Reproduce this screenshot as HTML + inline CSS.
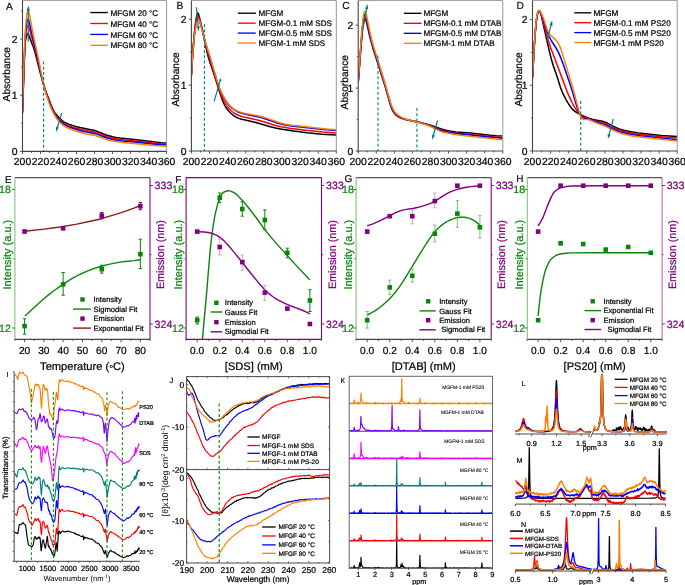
<!DOCTYPE html>
<html><head><meta charset="utf-8"><style>
html,body{margin:0;padding:0;background:#fff;}
body{width:685px;height:585px;overflow:hidden;}
svg{display:block;font-family:"Liberation Sans", sans-serif;will-change:transform;text-rendering:geometricPrecision;}
</style></head><body>
<svg width="685" height="585" viewBox="0 0 685 585">
<rect width="685" height="585" fill="#fff"/>
<defs>
<clipPath id="clipA"><rect x="22.5" y="0" width="144.1" height="151.4"/></clipPath>
<clipPath id="clipB"><rect x="191.4" y="0" width="144.9" height="151"/></clipPath>
<clipPath id="clipC"><rect x="358.2" y="0" width="144.60000000000002" height="151"/></clipPath>
<clipPath id="clipD"><rect x="532.5" y="0" width="144.70000000000005" height="151"/></clipPath>
</defs>
<g clip-path="url(#clipA)">
<path d="M22.5 113.2 24.3 61.5 25.2 42.7 26.1 37.3 27 34.5 27.9 33.4 28.8 34.9 30.6 40.1 33.3 46.9 35.1 52.9 40.5 73.8 43.2 83.4 45.9 91.4 50.4 103.2 53.1 109.7 54 111.4 54.9 112.9 55.8 114.1 57.6 116.1 60.3 118.9 62.1 120.5 63.9 121.8 66.6 123.3 69.3 124.4 72 125.3 75.6 126.4 80.1 127.5 90.9 129.7 93.6 130.3 97.3 131.5 103.6 134 107.2 135.3 110.8 136.3 113.5 137 116.2 137.5 119.8 138 134.2 139.4 154.9 142.1 161.2 142.7 166.6 143" fill="none" stroke="#000000" stroke-width="1.5" stroke-linejoin="round" />
<path d="M22.5 112.2 24.3 58.5 25.2 39.2 26.1 31.4 27 27.1 27.9 25.4 28.8 26.9 33.3 42.9 36.9 56.8 41.4 76.1 43.2 83.2 45 89.4 46.8 94.8 51.3 106.5 53.1 110.6 54 112.4 54.9 113.9 56.7 116.3 59.4 119.3 62.1 121.9 63.9 123.2 66.6 124.7 69.3 125.9 72.9 127.2 77.4 128.5 81.9 129.6 91.8 131.6 94.5 132.3 97.3 133.1 106.3 136.5 109.9 137.6 113.5 138.5 117.1 139.1 120.7 139.6 135.1 141 153.1 143.1 160.3 143.8 166.6 144.2" fill="none" stroke="#ff0000" stroke-width="1.5" stroke-linejoin="round" />
<path d="M22.5 111.4 23.4 81.5 24.3 56.3 25.2 36.5 26.1 26.9 27 21.3 27.9 19.2 28.8 20.7 29.7 24 33.3 39.8 36.9 54.6 42.3 79.3 44.1 86.6 45.9 92.7 47.7 98 50.4 105.1 52.2 109.4 54 113.1 54.9 114.6 56.7 117.2 59.4 120.4 61.2 122.1 63 123.6 65.7 125.4 68.4 126.7 72.9 128.4 77.4 129.7 82.8 131.2 85.5 131.8 91.8 132.9 94.5 133.6 97.3 134.4 106.3 137.7 109.9 138.8 112.6 139.4 117.1 140.2 122.5 140.9 134.2 142 154.9 144.2 166.6 145.1" fill="none" stroke="#0000ff" stroke-width="1.5" stroke-linejoin="round" />
<path d="M22.5 110.4 23.4 78.3 24.3 53 25.2 32.8 26.1 20.5 27 13.2 27.9 10.6 28.8 12 29.7 15.7 33.3 35.5 37.8 55.6 43.2 82.9 44.1 86.8 45.9 93.5 47.7 99.1 49.5 104 51.3 108.4 53.1 112.3 54.9 115.7 56.7 118.5 58.5 120.8 60.3 122.8 63 125.1 65.7 126.9 68.4 128.3 72 129.8 76.5 131.2 83.7 133.3 86.4 133.9 92.7 135 95.5 135.6 98.2 136.5 105.4 139.1 108.1 139.9 111.7 140.8 117.1 141.8 123.4 142.6 154 145.4 166.6 146.3" fill="none" stroke="#ff8000" stroke-width="1.5" stroke-linejoin="round" />
</g>
<line x1="43.6" y1="61.5" x2="43.6" y2="151" stroke="#008080" stroke-width="1.1" stroke-dasharray="3 2.2"/>
<line x1="28.3" y1="41.5" x2="28.3" y2="9.8" stroke="#008080" stroke-width="1.2" />
<path d="M28.3 5.8 L30 10.8 L26.6 10.8 Z" fill="#008080"/>
<line x1="61.7" y1="113.2" x2="57.17" y2="128.07" stroke="#008080" stroke-width="1.2" />
<path d="M56 131.9 L56.02 126.68 L58.89 127.55 Z" fill="#008080"/>
<line x1="22.5" y1="0.4" x2="166.6" y2="0.4" stroke="#999" stroke-width="1" />
<line x1="166.6" y1="0.4" x2="166.6" y2="151.4" stroke="#999" stroke-width="1" />
<line x1="22.5" y1="0.4" x2="22.5" y2="151.9" stroke="#444" stroke-width="1.1" />
<line x1="22" y1="151.4" x2="166.6" y2="151.4" stroke="#444" stroke-width="1.1" />
<line x1="22.5" y1="151.4" x2="22.5" y2="154" stroke="#444" stroke-width="0.9" />
<line x1="31.51" y1="151.4" x2="31.51" y2="152.8" stroke="#444" stroke-width="0.9" />
<line x1="40.51" y1="151.4" x2="40.51" y2="154" stroke="#444" stroke-width="0.9" />
<line x1="49.52" y1="151.4" x2="49.52" y2="152.8" stroke="#444" stroke-width="0.9" />
<line x1="58.52" y1="151.4" x2="58.52" y2="154" stroke="#444" stroke-width="0.9" />
<line x1="67.53" y1="151.4" x2="67.53" y2="152.8" stroke="#444" stroke-width="0.9" />
<line x1="76.54" y1="151.4" x2="76.54" y2="154" stroke="#444" stroke-width="0.9" />
<line x1="85.54" y1="151.4" x2="85.54" y2="152.8" stroke="#444" stroke-width="0.9" />
<line x1="94.55" y1="151.4" x2="94.55" y2="154" stroke="#444" stroke-width="0.9" />
<line x1="103.56" y1="151.4" x2="103.56" y2="152.8" stroke="#444" stroke-width="0.9" />
<line x1="112.56" y1="151.4" x2="112.56" y2="154" stroke="#444" stroke-width="0.9" />
<line x1="121.57" y1="151.4" x2="121.57" y2="152.8" stroke="#444" stroke-width="0.9" />
<line x1="130.57" y1="151.4" x2="130.57" y2="154" stroke="#444" stroke-width="0.9" />
<line x1="139.58" y1="151.4" x2="139.58" y2="152.8" stroke="#444" stroke-width="0.9" />
<line x1="148.59" y1="151.4" x2="148.59" y2="154" stroke="#444" stroke-width="0.9" />
<line x1="157.59" y1="151.4" x2="157.59" y2="152.8" stroke="#444" stroke-width="0.9" />
<line x1="166.6" y1="151.4" x2="166.6" y2="154" stroke="#444" stroke-width="0.9" />
<text x="22.5" y="165.2" font-size="10.4" text-anchor="middle" fill="#000" stroke="#000" stroke-width="0.22" >200</text>
<text x="40.51" y="165.2" font-size="10.4" text-anchor="middle" fill="#000" stroke="#000" stroke-width="0.22" >220</text>
<text x="58.52" y="165.2" font-size="10.4" text-anchor="middle" fill="#000" stroke="#000" stroke-width="0.22" >240</text>
<text x="76.54" y="165.2" font-size="10.4" text-anchor="middle" fill="#000" stroke="#000" stroke-width="0.22" >260</text>
<text x="94.55" y="165.2" font-size="10.4" text-anchor="middle" fill="#000" stroke="#000" stroke-width="0.22" >280</text>
<text x="112.56" y="165.2" font-size="10.4" text-anchor="middle" fill="#000" stroke="#000" stroke-width="0.22" >300</text>
<text x="130.57" y="165.2" font-size="10.4" text-anchor="middle" fill="#000" stroke="#000" stroke-width="0.22" >320</text>
<text x="148.59" y="165.2" font-size="10.4" text-anchor="middle" fill="#000" stroke="#000" stroke-width="0.22" >340</text>
<text x="166.6" y="165.2" font-size="10.4" text-anchor="middle" fill="#000" stroke="#000" stroke-width="0.22" >360</text>
<line x1="22.5" y1="151.4" x2="19.9" y2="151.4" stroke="#444" stroke-width="0.9" />
<text x="17.6" y="155.1" font-size="10.4" text-anchor="end" fill="#000" stroke="#000" stroke-width="0.22" >0</text>
<line x1="22.5" y1="123.3" x2="21.1" y2="123.3" stroke="#444" stroke-width="0.9" />
<line x1="22.5" y1="95.2" x2="19.9" y2="95.2" stroke="#444" stroke-width="0.9" />
<text x="17.6" y="98.9" font-size="10.4" text-anchor="end" fill="#000" stroke="#000" stroke-width="0.22" >1</text>
<line x1="22.5" y1="67.1" x2="21.1" y2="67.1" stroke="#444" stroke-width="0.9" />
<line x1="22.5" y1="39" x2="19.9" y2="39" stroke="#444" stroke-width="0.9" />
<text x="17.6" y="42.7" font-size="10.4" text-anchor="end" fill="#000" stroke="#000" stroke-width="0.22" >2</text>
<line x1="22.5" y1="10.9" x2="21.1" y2="10.9" stroke="#444" stroke-width="0.9" />
<text x="5.9" y="10.4" font-size="10.2" text-anchor="start" fill="#111" stroke="#111" stroke-width="0.22" >A</text>
<text x="9.8" y="74.2" font-size="10.2" text-anchor="middle" fill="#000" stroke="#000" stroke-width="0.22" transform="rotate(-90 9.8 74.2)" >Absorbance</text>
<line x1="90.3" y1="12.55" x2="107.8" y2="12.55" stroke="#000000" stroke-width="1.35" />
<text x="110.6" y="15.65" font-size="8.15" text-anchor="start" fill="#000" stroke="#000" stroke-width="0.22" >MFGM 20 °C</text>
<line x1="90.3" y1="23.48" x2="107.8" y2="23.48" stroke="#ff0000" stroke-width="1.35" />
<text x="110.6" y="26.58" font-size="8.15" text-anchor="start" fill="#000" stroke="#000" stroke-width="0.22" >MFGM 40 °C</text>
<line x1="90.3" y1="34.41" x2="107.8" y2="34.41" stroke="#0000ff" stroke-width="1.35" />
<text x="110.6" y="37.51" font-size="8.15" text-anchor="start" fill="#000" stroke="#000" stroke-width="0.22" >MFGM 60 °C</text>
<line x1="90.3" y1="45.34" x2="107.8" y2="45.34" stroke="#ff8000" stroke-width="1.35" />
<text x="110.6" y="48.44" font-size="8.15" text-anchor="start" fill="#000" stroke="#000" stroke-width="0.22" >MFGM 80 °C</text>
<g clip-path="url(#clipB)">
<path d="M191.4 75.3 192.3 59.8 193.2 46.7 194.1 35.9 195 27.1 195.9 20.4 196.8 15.5 197.7 12.8 198.6 14.3 202.3 29.3 206.8 51.2 208.6 58.2 210.4 63.8 214 74.3 220.4 94.5 223.1 102 224.9 105.8 225.8 107.3 227.6 109.8 229.4 111.8 231.2 113.5 234 115.8 235.8 116.9 237.6 117.9 240.3 118.9 243 119.6 249.4 120.9 254.8 122.2 260.2 123.7 270.2 126.8 275.6 128.1 280.2 128.9 293.7 131 307.3 132.8 321.8 134.2 336.3 135" fill="none" stroke="#000000" stroke-width="1.5" stroke-linejoin="round" />
<path d="M191.4 75.3 192.3 60.3 193.2 47.6 194.1 37.2 195 28.9 195.9 22.6 196.8 18.1 197.7 15.7 198.6 16.6 200.5 22.8 202.3 29.9 205.9 45.6 208.6 55.7 217.7 84.6 220.4 92.6 223.1 99.4 224 101.3 225.8 104.4 226.7 105.7 228.5 107.9 230.3 109.8 232.2 111.5 234 112.8 236.7 114.5 238.5 115.3 241.2 116.3 243.9 117 253 119 258.4 120.3 262.9 121.5 273.8 125 277.4 125.9 281.1 126.7 285.6 127.5 291 128.4 306.4 130.3 322.7 131.9 336.3 132.9" fill="none" stroke="#ff0000" stroke-width="1.5" stroke-linejoin="round" />
<path d="M191.4 75.3 192.3 60.8 193.2 48.6 194.1 38.6 195 30.8 195.9 25 196.8 21 197.7 19 198.6 19.2 199.6 21.2 200.5 23.9 205 41.1 215.9 77.3 217.7 83.1 219.5 88.2 222.2 94.6 224.9 99.7 226.7 102.4 228.5 104.7 230.3 106.6 232.2 108.2 234 109.6 236.7 111.2 239.4 112.5 242.1 113.4 246.6 114.6 256.6 116.5 261.1 117.6 265.7 119 277.4 123 281.1 124 283.8 124.7 288.3 125.5 293.7 126.2 323.6 129.4 336.3 130.6" fill="none" stroke="#0000ff" stroke-width="1.5" stroke-linejoin="round" />
<path d="M191.4 75.3 192.3 60.8 193.2 48.8 194.1 39.1 195 31.6 195.9 25.9 196.8 22 197.7 19.8 198.6 19.4 199.6 21.1 200.5 24 203.2 34.5 205 40.9 209.5 54.9 216.8 79.9 219.5 88.1 220.4 90.3 222.2 94.1 224 97.3 225.8 100.1 227.6 102.7 229.4 104.9 231.2 106.8 233.1 108.4 234.9 109.6 236.7 110.6 238.5 111.4 241.2 112.4 245.7 113.6 256.6 115.5 261.1 116.5 265.7 117.9 278.3 122.3 282 123.4 284.7 124 288.3 124.7 292.8 125.3 326.3 128.9 336.3 129.8" fill="none" stroke="#ff8000" stroke-width="1.5" stroke-linejoin="round" />
</g>
<line x1="204.4" y1="24.1" x2="204.4" y2="151" stroke="#008080" stroke-width="1.1" stroke-dasharray="3 2.2"/>
<line x1="196.4" y1="7.2" x2="198.32" y2="27.32" stroke="#008080" stroke-width="1.2" />
<path d="M198.7 31.3 L196.73 26.47 L199.72 26.18 Z" fill="#008080"/>
<line x1="214.1" y1="101.3" x2="220.43" y2="79.92" stroke="#008080" stroke-width="1.2" />
<path d="M221 78 L221.3 81.22 L219 80.54 Z" fill="#008080"/>
<line x1="191.4" y1="0.4" x2="336.3" y2="0.4" stroke="#999" stroke-width="1" />
<line x1="336.3" y1="0.4" x2="336.3" y2="151" stroke="#999" stroke-width="1" />
<line x1="191.4" y1="0.4" x2="191.4" y2="151.5" stroke="#444" stroke-width="1.1" />
<line x1="190.9" y1="151" x2="336.3" y2="151" stroke="#444" stroke-width="1.1" />
<line x1="191.4" y1="151" x2="191.4" y2="153.6" stroke="#444" stroke-width="0.9" />
<line x1="200.46" y1="151" x2="200.46" y2="152.4" stroke="#444" stroke-width="0.9" />
<line x1="209.51" y1="151" x2="209.51" y2="153.6" stroke="#444" stroke-width="0.9" />
<line x1="218.57" y1="151" x2="218.57" y2="152.4" stroke="#444" stroke-width="0.9" />
<line x1="227.62" y1="151" x2="227.62" y2="153.6" stroke="#444" stroke-width="0.9" />
<line x1="236.68" y1="151" x2="236.68" y2="152.4" stroke="#444" stroke-width="0.9" />
<line x1="245.74" y1="151" x2="245.74" y2="153.6" stroke="#444" stroke-width="0.9" />
<line x1="254.79" y1="151" x2="254.79" y2="152.4" stroke="#444" stroke-width="0.9" />
<line x1="263.85" y1="151" x2="263.85" y2="153.6" stroke="#444" stroke-width="0.9" />
<line x1="272.91" y1="151" x2="272.91" y2="152.4" stroke="#444" stroke-width="0.9" />
<line x1="281.96" y1="151" x2="281.96" y2="153.6" stroke="#444" stroke-width="0.9" />
<line x1="291.02" y1="151" x2="291.02" y2="152.4" stroke="#444" stroke-width="0.9" />
<line x1="300.08" y1="151" x2="300.08" y2="153.6" stroke="#444" stroke-width="0.9" />
<line x1="309.13" y1="151" x2="309.13" y2="152.4" stroke="#444" stroke-width="0.9" />
<line x1="318.19" y1="151" x2="318.19" y2="153.6" stroke="#444" stroke-width="0.9" />
<line x1="327.24" y1="151" x2="327.24" y2="152.4" stroke="#444" stroke-width="0.9" />
<line x1="336.3" y1="151" x2="336.3" y2="153.6" stroke="#444" stroke-width="0.9" />
<text x="191.4" y="165.2" font-size="10.4" text-anchor="middle" fill="#000" stroke="#000" stroke-width="0.22" >200</text>
<text x="209.51" y="165.2" font-size="10.4" text-anchor="middle" fill="#000" stroke="#000" stroke-width="0.22" >220</text>
<text x="227.62" y="165.2" font-size="10.4" text-anchor="middle" fill="#000" stroke="#000" stroke-width="0.22" >240</text>
<text x="245.74" y="165.2" font-size="10.4" text-anchor="middle" fill="#000" stroke="#000" stroke-width="0.22" >260</text>
<text x="263.85" y="165.2" font-size="10.4" text-anchor="middle" fill="#000" stroke="#000" stroke-width="0.22" >280</text>
<text x="281.96" y="165.2" font-size="10.4" text-anchor="middle" fill="#000" stroke="#000" stroke-width="0.22" >300</text>
<text x="300.08" y="165.2" font-size="10.4" text-anchor="middle" fill="#000" stroke="#000" stroke-width="0.22" >320</text>
<text x="318.19" y="165.2" font-size="10.4" text-anchor="middle" fill="#000" stroke="#000" stroke-width="0.22" >340</text>
<text x="336.3" y="165.2" font-size="10.4" text-anchor="middle" fill="#000" stroke="#000" stroke-width="0.22" >360</text>
<line x1="191.4" y1="151" x2="188.8" y2="151" stroke="#444" stroke-width="0.9" />
<text x="186.5" y="154.7" font-size="10.4" text-anchor="end" fill="#000" stroke="#000" stroke-width="0.22" >0</text>
<line x1="191.4" y1="118.1" x2="190" y2="118.1" stroke="#444" stroke-width="0.9" />
<line x1="191.4" y1="85.2" x2="188.8" y2="85.2" stroke="#444" stroke-width="0.9" />
<text x="186.5" y="88.9" font-size="10.4" text-anchor="end" fill="#000" stroke="#000" stroke-width="0.22" >1</text>
<line x1="191.4" y1="52.3" x2="190" y2="52.3" stroke="#444" stroke-width="0.9" />
<line x1="191.4" y1="19.4" x2="188.8" y2="19.4" stroke="#444" stroke-width="0.9" />
<text x="186.5" y="23.1" font-size="10.4" text-anchor="end" fill="#000" stroke="#000" stroke-width="0.22" >2</text>
<text x="176.5" y="9.4" font-size="10.2" text-anchor="start" fill="#111" stroke="#111" stroke-width="0.22" >B</text>
<text x="179.2" y="79.4" font-size="10.2" text-anchor="middle" fill="#000" stroke="#000" stroke-width="0.22" transform="rotate(-90 179.2 79.4)" >Absorbance</text>
<line x1="237.8" y1="13.2" x2="255.8" y2="13.2" stroke="#000000" stroke-width="1.35" />
<text x="258.6" y="16.3" font-size="8.1" text-anchor="start" fill="#000" stroke="#000" stroke-width="0.22" >MFGM</text>
<line x1="237.8" y1="23.15" x2="255.8" y2="23.15" stroke="#ff0000" stroke-width="1.35" />
<text x="258.6" y="26.25" font-size="8.1" text-anchor="start" fill="#000" stroke="#000" stroke-width="0.22" >MFGM-0.1 mM SDS</text>
<line x1="237.8" y1="33.1" x2="255.8" y2="33.1" stroke="#0000ff" stroke-width="1.35" />
<text x="258.6" y="36.2" font-size="8.1" text-anchor="start" fill="#000" stroke="#000" stroke-width="0.22" >MFGM-0.5 mM SDS</text>
<line x1="237.8" y1="43.05" x2="255.8" y2="43.05" stroke="#ff8000" stroke-width="1.35" />
<text x="258.6" y="46.15" font-size="8.1" text-anchor="start" fill="#000" stroke="#000" stroke-width="0.22" >MFGM-1 mM SDS</text>
<g clip-path="url(#clipC)">
<path d="M358.2 82.4 360.9 48.3 361.8 37.8 362.7 28.9 363.6 22.4 364.5 18.9 365.4 18.9 366.3 21.4 369.9 37.2 370.9 40.9 372.7 47.4 384.4 84 390.7 105.7 391.6 108.2 392.5 110.2 393.4 111.9 394.4 113.3 395.3 114.4 396.2 115.3 398 116.5 399.8 117.5 401.6 118.3 404.3 119.2 407.9 120 416.9 121.7 424.2 123.4 430.5 125.2 442.2 129.2 445.9 130.2 449.5 131 455.8 131.9 470.3 133.1 490.1 135.2 496.5 135.7 502.8 135.9" fill="none" stroke="#000000" stroke-width="1.5" stroke-linejoin="round" />
<path d="M358.2 82.4 360.9 46.2 361.8 35.3 362.7 26.1 363.6 19.4 364.5 15.9 365.4 16 366.3 18.7 369.9 35.3 370.9 39.2 372.7 45.9 384.4 82.9 386.2 88.9 389.8 101.8 390.7 104.7 392.5 109.3 393.4 111.1 394.4 112.5 395.3 113.7 396.2 114.6 398 116 399.8 117 402.5 118.3 404.3 119 407.9 119.9 416.9 121.8 425.1 123.9 430.5 125.7 440.4 129.7 444.1 130.8 447.7 131.7 452.2 132.5 457.6 133.2 470.3 134.4 491.1 136.5 502.8 137.4" fill="none" stroke="#ff0000" stroke-width="1.5" stroke-linejoin="round" />
<path d="M358.2 82.4 360.9 45.2 361.8 34 362.7 24.7 363.6 17.9 364.5 14.4 365.4 14.5 366.3 17.3 369.9 34.4 370.9 38.3 372.7 45.2 384.4 82.3 389.8 101.3 390.7 104.2 392.5 108.8 393.4 110.6 394.4 112.1 395.3 113.3 396.2 114.3 398 115.7 399.8 116.8 402.5 118.2 404.3 118.9 407 119.7 416.9 121.9 426 124.4 430.5 126 437.7 129.1 440.4 130.2 443.2 131.1 446.8 132 452.2 133 458.5 133.8 491.1 137.2 502.8 138.2" fill="none" stroke="#0000ff" stroke-width="1.5" stroke-linejoin="round" />
<path d="M358.2 82.4 360.9 43.1 361.8 31.5 362.7 21.9 363.6 14.9 364.5 11.4 365.4 11.6 366.3 14.5 370.9 36.5 371.8 40.2 373.6 46.8 383.5 78.2 390.7 103.2 391.6 105.7 393.4 109.8 394.4 111.4 395.3 112.6 396.2 113.7 398 115.2 399.8 116.4 402.5 117.9 404.3 118.7 407 119.5 416 121.7 426 124.7 430.5 126.5 439.5 130.9 442.2 131.9 445 132.6 452.2 134 460.3 135.2 502.8 139.7" fill="none" stroke="#ff8000" stroke-width="1.5" stroke-linejoin="round" />
</g>
<line x1="378" y1="55.4" x2="378" y2="151" stroke="#008080" stroke-width="1.1" stroke-dasharray="3 2.2"/>
<line x1="416.94" y1="108" x2="416.94" y2="151" stroke="#008080" stroke-width="1.1" stroke-dasharray="3 2.2"/>
<line x1="437.5" y1="120.5" x2="433.15" y2="136.03" stroke="#008080" stroke-width="1.2" />
<path d="M432.2 139.4 L431.87 134.64 L434.96 135.5 Z" fill="#008080"/>
<line x1="363.1" y1="27.7" x2="366.77" y2="8.03" stroke="#008080" stroke-width="1.2" />
<path d="M367.5 4.1 L368.16 9.31 L365.01 8.72 Z" fill="#008080"/>
<line x1="358.2" y1="0.4" x2="502.8" y2="0.4" stroke="#999" stroke-width="1" />
<line x1="502.8" y1="0.4" x2="502.8" y2="151" stroke="#999" stroke-width="1" />
<line x1="358.2" y1="0.4" x2="358.2" y2="151.5" stroke="#444" stroke-width="1.1" />
<line x1="357.7" y1="151" x2="502.8" y2="151" stroke="#444" stroke-width="1.1" />
<line x1="358.2" y1="151" x2="358.2" y2="153.6" stroke="#444" stroke-width="0.9" />
<line x1="367.24" y1="151" x2="367.24" y2="152.4" stroke="#444" stroke-width="0.9" />
<line x1="376.27" y1="151" x2="376.27" y2="153.6" stroke="#444" stroke-width="0.9" />
<line x1="385.31" y1="151" x2="385.31" y2="152.4" stroke="#444" stroke-width="0.9" />
<line x1="394.35" y1="151" x2="394.35" y2="153.6" stroke="#444" stroke-width="0.9" />
<line x1="403.39" y1="151" x2="403.39" y2="152.4" stroke="#444" stroke-width="0.9" />
<line x1="412.43" y1="151" x2="412.43" y2="153.6" stroke="#444" stroke-width="0.9" />
<line x1="421.46" y1="151" x2="421.46" y2="152.4" stroke="#444" stroke-width="0.9" />
<line x1="430.5" y1="151" x2="430.5" y2="153.6" stroke="#444" stroke-width="0.9" />
<line x1="439.54" y1="151" x2="439.54" y2="152.4" stroke="#444" stroke-width="0.9" />
<line x1="448.57" y1="151" x2="448.57" y2="153.6" stroke="#444" stroke-width="0.9" />
<line x1="457.61" y1="151" x2="457.61" y2="152.4" stroke="#444" stroke-width="0.9" />
<line x1="466.65" y1="151" x2="466.65" y2="153.6" stroke="#444" stroke-width="0.9" />
<line x1="475.69" y1="151" x2="475.69" y2="152.4" stroke="#444" stroke-width="0.9" />
<line x1="484.73" y1="151" x2="484.73" y2="153.6" stroke="#444" stroke-width="0.9" />
<line x1="493.76" y1="151" x2="493.76" y2="152.4" stroke="#444" stroke-width="0.9" />
<line x1="502.8" y1="151" x2="502.8" y2="153.6" stroke="#444" stroke-width="0.9" />
<text x="358.2" y="165.2" font-size="10.4" text-anchor="middle" fill="#000" stroke="#000" stroke-width="0.22" >200</text>
<text x="376.27" y="165.2" font-size="10.4" text-anchor="middle" fill="#000" stroke="#000" stroke-width="0.22" >220</text>
<text x="394.35" y="165.2" font-size="10.4" text-anchor="middle" fill="#000" stroke="#000" stroke-width="0.22" >240</text>
<text x="412.43" y="165.2" font-size="10.4" text-anchor="middle" fill="#000" stroke="#000" stroke-width="0.22" >260</text>
<text x="430.5" y="165.2" font-size="10.4" text-anchor="middle" fill="#000" stroke="#000" stroke-width="0.22" >280</text>
<text x="448.57" y="165.2" font-size="10.4" text-anchor="middle" fill="#000" stroke="#000" stroke-width="0.22" >300</text>
<text x="466.65" y="165.2" font-size="10.4" text-anchor="middle" fill="#000" stroke="#000" stroke-width="0.22" >320</text>
<text x="484.73" y="165.2" font-size="10.4" text-anchor="middle" fill="#000" stroke="#000" stroke-width="0.22" >340</text>
<text x="502.8" y="165.2" font-size="10.4" text-anchor="middle" fill="#000" stroke="#000" stroke-width="0.22" >360</text>
<line x1="358.2" y1="151" x2="355.6" y2="151" stroke="#444" stroke-width="0.9" />
<text x="353.3" y="154.7" font-size="10.4" text-anchor="end" fill="#000" stroke="#000" stroke-width="0.22" >0</text>
<line x1="358.2" y1="119.55" x2="356.8" y2="119.55" stroke="#444" stroke-width="0.9" />
<line x1="358.2" y1="88.1" x2="355.6" y2="88.1" stroke="#444" stroke-width="0.9" />
<text x="353.3" y="91.8" font-size="10.4" text-anchor="end" fill="#000" stroke="#000" stroke-width="0.22" >1</text>
<line x1="358.2" y1="56.65" x2="356.8" y2="56.65" stroke="#444" stroke-width="0.9" />
<line x1="358.2" y1="25.2" x2="355.6" y2="25.2" stroke="#444" stroke-width="0.9" />
<text x="353.3" y="28.9" font-size="10.4" text-anchor="end" fill="#000" stroke="#000" stroke-width="0.22" >2</text>
<text x="342.3" y="8.8" font-size="10.2" text-anchor="start" fill="#111" stroke="#111" stroke-width="0.22" >C</text>
<text x="348.3" y="82.2" font-size="10.2" text-anchor="middle" fill="#000" stroke="#000" stroke-width="0.22" transform="rotate(-90 348.3 82.2)" >Absorbance</text>
<line x1="403.8" y1="13.3" x2="421.5" y2="13.3" stroke="#000000" stroke-width="1.35" />
<text x="423.4" y="16.4" font-size="8.15" text-anchor="start" fill="#000" stroke="#000" stroke-width="0.22" >MFGM</text>
<line x1="403.8" y1="23.3" x2="421.5" y2="23.3" stroke="#ff0000" stroke-width="1.35" />
<text x="423.4" y="26.4" font-size="8.15" text-anchor="start" fill="#000" stroke="#000" stroke-width="0.22" >MFGM-0.1 mM DTAB</text>
<line x1="403.8" y1="33.3" x2="421.5" y2="33.3" stroke="#0000ff" stroke-width="1.35" />
<text x="423.4" y="36.4" font-size="8.15" text-anchor="start" fill="#000" stroke="#000" stroke-width="0.22" >MFGM-0.5 mM DTAB</text>
<line x1="403.8" y1="43.3" x2="421.5" y2="43.3" stroke="#ff8000" stroke-width="1.35" />
<text x="423.4" y="46.4" font-size="8.15" text-anchor="start" fill="#000" stroke="#000" stroke-width="0.22" >MFGM-1 mM DTAB</text>
<g clip-path="url(#clipD)">
<path d="M532.5 77.8 534.3 46 535.2 33 536.1 22.9 537 16 537.9 12.1 538.8 10.7 539.7 11.2 540.6 13.2 541.5 16.3 547 41 549.7 52.7 551.5 59.8 553.3 65.7 556.9 76 560.5 87.4 561.4 89.9 563.2 94.2 566 99.6 567.8 102.7 569.6 105.5 571.4 107.9 573.2 109.9 575 111.5 577.7 113.2 582.2 115.5 586.8 117.5 589.5 118.5 593.1 119.5 595.8 120.1 601.2 121.1 603.9 121.8 605.8 122.5 607.6 123.3 613 126.2 615.7 127.5 619.3 128.9 623.8 130.2 628.4 131.3 632.9 132.1 638.3 132.9 645.5 133.8 660.9 135.4 677.2 136.5" fill="none" stroke="#000000" stroke-width="1.5" stroke-linejoin="round" />
<path d="M532.5 77.8 534.3 46 535.2 33 536.1 22.9 537 16.1 537.9 12.2 538.8 10.7 539.7 11.1 540.6 12.9 541.5 15.7 546.1 33 547.9 39.2 550.6 47.5 566.9 91.1 568.7 95.4 570.5 99.4 572.3 103 574.1 106.3 575.9 109.2 577.7 111.8 579.5 114 580.4 114.8 582.2 116.2 585 117.5 590.4 119.4 594 120.6 596.7 121.3 601.2 122.3 603.9 123.1 606.7 124.2 613 127.5 616.6 129.2 621.1 130.8 625.7 132 630.2 132.9 634.7 133.7 647.4 135.3 661.8 136.8 677.2 137.9" fill="none" stroke="#ff0000" stroke-width="1.5" stroke-linejoin="round" />
<path d="M532.5 77.8 534.3 46 535.2 33 536.1 22.9 537 16.1 537.9 12.2 538.8 10.7 539.7 11.1 540.6 12.7 541.5 15 543.4 20.2 547 31.2 548.8 35.8 549.7 37.7 551.5 41 556 48 557.8 51.1 558.7 52.9 560.5 57.1 563.2 64.3 569.6 82.8 572.3 91.4 575.9 103.6 577.7 109.1 579.5 113.5 580.4 115.2 581.3 116.4 582.2 117.3 583.1 117.9 584 118.2 587.7 119 589.5 119.5 595.8 121.8 603.9 124.4 606.7 125.5 613 128.9 616.6 130.5 621.1 132.1 625.7 133.3 632 134.6 640.1 135.8 677.2 139.8" fill="none" stroke="#0000ff" stroke-width="1.5" stroke-linejoin="round" />
<path d="M532.5 77.8 534.3 46 535.2 32.3 536.1 21.6 537 14.8 537.9 11.4 538.8 10.3 539.7 10.7 540.6 11.9 541.5 13.7 542.4 15.8 543.4 18.3 547 29.1 547.9 31.3 548.8 33 549.7 34.3 550.6 35.3 554.2 38.4 556 40.2 556.9 41.3 558.7 44.1 559.6 45.9 560.5 48.1 562.3 53.4 566 65.6 572.3 85.9 579.5 113 580.4 115.6 581.3 117.4 582.2 118.6 583.1 119.2 584 119.5 587.7 119.5 588.6 119.6 590.4 120.2 596.7 123.1 603 125.3 605.8 126.4 613 130.2 616.6 131.8 621.1 133.4 625.7 134.6 632 135.9 640.1 137.1 677.2 141.1" fill="none" stroke="#ff8000" stroke-width="1.5" stroke-linejoin="round" />
</g>
<line x1="580.7" y1="101.1" x2="580.7" y2="151" stroke="#008080" stroke-width="1.1" stroke-dasharray="3 2.2"/>
<line x1="546.7" y1="42.2" x2="551.22" y2="24.28" stroke="#008080" stroke-width="1.2" />
<path d="M552.2 20.4 L552.53 25.64 L549.43 24.86 Z" fill="#008080"/>
<line x1="613.3" y1="119" x2="608.91" y2="135.42" stroke="#008080" stroke-width="1.2" />
<path d="M608 138.8 L607.62 134.04 L610.71 134.87 Z" fill="#008080"/>
<line x1="532.5" y1="0.4" x2="677.2" y2="0.4" stroke="#999" stroke-width="1" />
<line x1="677.2" y1="0.4" x2="677.2" y2="151" stroke="#999" stroke-width="1" />
<line x1="532.5" y1="0.4" x2="532.5" y2="151.5" stroke="#444" stroke-width="1.1" />
<line x1="532" y1="151" x2="677.2" y2="151" stroke="#444" stroke-width="1.1" />
<line x1="532.5" y1="151" x2="532.5" y2="153.6" stroke="#444" stroke-width="0.9" />
<line x1="541.54" y1="151" x2="541.54" y2="152.4" stroke="#444" stroke-width="0.9" />
<line x1="550.59" y1="151" x2="550.59" y2="153.6" stroke="#444" stroke-width="0.9" />
<line x1="559.63" y1="151" x2="559.63" y2="152.4" stroke="#444" stroke-width="0.9" />
<line x1="568.67" y1="151" x2="568.67" y2="153.6" stroke="#444" stroke-width="0.9" />
<line x1="577.72" y1="151" x2="577.72" y2="152.4" stroke="#444" stroke-width="0.9" />
<line x1="586.76" y1="151" x2="586.76" y2="153.6" stroke="#444" stroke-width="0.9" />
<line x1="595.81" y1="151" x2="595.81" y2="152.4" stroke="#444" stroke-width="0.9" />
<line x1="604.85" y1="151" x2="604.85" y2="153.6" stroke="#444" stroke-width="0.9" />
<line x1="613.89" y1="151" x2="613.89" y2="152.4" stroke="#444" stroke-width="0.9" />
<line x1="622.94" y1="151" x2="622.94" y2="153.6" stroke="#444" stroke-width="0.9" />
<line x1="631.98" y1="151" x2="631.98" y2="152.4" stroke="#444" stroke-width="0.9" />
<line x1="641.03" y1="151" x2="641.03" y2="153.6" stroke="#444" stroke-width="0.9" />
<line x1="650.07" y1="151" x2="650.07" y2="152.4" stroke="#444" stroke-width="0.9" />
<line x1="659.11" y1="151" x2="659.11" y2="153.6" stroke="#444" stroke-width="0.9" />
<line x1="668.16" y1="151" x2="668.16" y2="152.4" stroke="#444" stroke-width="0.9" />
<line x1="677.2" y1="151" x2="677.2" y2="153.6" stroke="#444" stroke-width="0.9" />
<text x="532.5" y="165.2" font-size="10.4" text-anchor="middle" fill="#000" stroke="#000" stroke-width="0.22" >200</text>
<text x="550.59" y="165.2" font-size="10.4" text-anchor="middle" fill="#000" stroke="#000" stroke-width="0.22" >220</text>
<text x="568.67" y="165.2" font-size="10.4" text-anchor="middle" fill="#000" stroke="#000" stroke-width="0.22" >240</text>
<text x="586.76" y="165.2" font-size="10.4" text-anchor="middle" fill="#000" stroke="#000" stroke-width="0.22" >260</text>
<text x="604.85" y="165.2" font-size="10.4" text-anchor="middle" fill="#000" stroke="#000" stroke-width="0.22" >280</text>
<text x="622.94" y="165.2" font-size="10.4" text-anchor="middle" fill="#000" stroke="#000" stroke-width="0.22" >300</text>
<text x="641.03" y="165.2" font-size="10.4" text-anchor="middle" fill="#000" stroke="#000" stroke-width="0.22" >320</text>
<text x="659.11" y="165.2" font-size="10.4" text-anchor="middle" fill="#000" stroke="#000" stroke-width="0.22" >340</text>
<text x="677.2" y="165.2" font-size="10.4" text-anchor="middle" fill="#000" stroke="#000" stroke-width="0.22" >360</text>
<line x1="532.5" y1="151" x2="529.9" y2="151" stroke="#444" stroke-width="0.9" />
<text x="527.6" y="154.7" font-size="10.4" text-anchor="end" fill="#000" stroke="#000" stroke-width="0.22" >0</text>
<line x1="532.5" y1="118.15" x2="531.1" y2="118.15" stroke="#444" stroke-width="0.9" />
<line x1="532.5" y1="85.3" x2="529.9" y2="85.3" stroke="#444" stroke-width="0.9" />
<text x="527.6" y="89" font-size="10.4" text-anchor="end" fill="#000" stroke="#000" stroke-width="0.22" >1</text>
<line x1="532.5" y1="52.45" x2="531.1" y2="52.45" stroke="#444" stroke-width="0.9" />
<line x1="532.5" y1="19.6" x2="529.9" y2="19.6" stroke="#444" stroke-width="0.9" />
<text x="527.6" y="23.3" font-size="10.4" text-anchor="end" fill="#000" stroke="#000" stroke-width="0.22" >2</text>
<text x="516.5" y="9.4" font-size="10.2" text-anchor="start" fill="#111" stroke="#111" stroke-width="0.22" >D</text>
<text x="521.8" y="79.4" font-size="10.2" text-anchor="middle" fill="#000" stroke="#000" stroke-width="0.22" transform="rotate(-90 521.8 79.4)" >Absorbance</text>
<line x1="574.3" y1="12.8" x2="591.3" y2="12.8" stroke="#000000" stroke-width="1.35" />
<text x="593.4" y="15.9" font-size="8.2" text-anchor="start" fill="#000" stroke="#000" stroke-width="0.22" >MFGM</text>
<line x1="574.3" y1="22.7" x2="591.3" y2="22.7" stroke="#ff0000" stroke-width="1.35" />
<text x="593.4" y="25.8" font-size="8.2" text-anchor="start" fill="#000" stroke="#000" stroke-width="0.22" >MFGM-0.1 mM PS20</text>
<line x1="574.3" y1="32.6" x2="591.3" y2="32.6" stroke="#0000ff" stroke-width="1.35" />
<text x="593.4" y="35.7" font-size="8.2" text-anchor="start" fill="#000" stroke="#000" stroke-width="0.22" >MFGM-0.5 mM PS20</text>
<line x1="574.3" y1="42.5" x2="591.3" y2="42.5" stroke="#ff8000" stroke-width="1.35" />
<text x="593.4" y="45.6" font-size="8.2" text-anchor="start" fill="#000" stroke="#000" stroke-width="0.22" >MFGM-1 mM PS20</text>
<path d="M24.9 315.9 43.5 299 48.2 295.1 52.8 291.5 57.5 288.2 70.3 279.7 74.9 276.9 79.6 274.5 86.6 271.4 93.6 268.7 100.5 266.5 107.5 264.6 114.5 263.1 120.3 262.1 125 261.5 134.3 260.6 140.1 259.7" fill="none" stroke="#0a850a" stroke-width="1.4" stroke-linejoin="round" />
<path d="M24.5 231.3 44.2 229.1 59.9 227 75.6 224.4 89.3 221.5 97.2 219.7 103.1 218.2 114.8 214.7 122.7 212.2 128.6 210.1 134.5 207.9 140.3 205.5" fill="none" stroke="#8b1a1a" stroke-width="1.4" stroke-linejoin="round" />
<line x1="24.55" y1="318.8" x2="24.55" y2="334.1" stroke="#0a850a" stroke-width="1" />
<line x1="22.85" y1="318.8" x2="26.25" y2="318.8" stroke="#0a850a" stroke-width="1" />
<line x1="22.85" y1="334.1" x2="26.25" y2="334.1" stroke="#0a850a" stroke-width="1" />
<rect x="22.25" y="323.8" width="4.6" height="4.6" fill="#0a850a" stroke="none" stroke-width="1"/>
<line x1="63.15" y1="272.5" x2="63.15" y2="295.2" stroke="#0a850a" stroke-width="1" />
<line x1="61.45" y1="272.5" x2="64.85" y2="272.5" stroke="#0a850a" stroke-width="1" />
<line x1="61.45" y1="295.2" x2="64.85" y2="295.2" stroke="#0a850a" stroke-width="1" />
<rect x="60.85" y="282" width="4.6" height="4.6" fill="#0a850a" stroke="none" stroke-width="1"/>
<line x1="101.75" y1="265.2" x2="101.75" y2="273.1" stroke="#0a850a" stroke-width="1" />
<line x1="100.05" y1="265.2" x2="103.45" y2="265.2" stroke="#0a850a" stroke-width="1" />
<line x1="100.05" y1="273.1" x2="103.45" y2="273.1" stroke="#0a850a" stroke-width="1" />
<rect x="99.45" y="266.9" width="4.6" height="4.6" fill="#0a850a" stroke="none" stroke-width="1"/>
<line x1="140.35" y1="239.2" x2="140.35" y2="268.6" stroke="#0a850a" stroke-width="1" />
<line x1="138.65" y1="239.2" x2="142.05" y2="239.2" stroke="#0a850a" stroke-width="1" />
<line x1="138.65" y1="268.6" x2="142.05" y2="268.6" stroke="#0a850a" stroke-width="1" />
<rect x="138.05" y="251.9" width="4.6" height="4.6" fill="#0a850a" stroke="none" stroke-width="1"/>
<rect x="22.25" y="229.2" width="4.6" height="4.6" fill="#800080" stroke="none" stroke-width="1"/>
<rect x="60.85" y="226" width="4.6" height="4.6" fill="#800080" stroke="none" stroke-width="1"/>
<line x1="101.75" y1="212.5" x2="101.75" y2="218.7" stroke="#800080" stroke-width="1" />
<line x1="100.05" y1="212.5" x2="103.45" y2="212.5" stroke="#800080" stroke-width="1" />
<line x1="100.05" y1="218.7" x2="103.45" y2="218.7" stroke="#800080" stroke-width="1" />
<rect x="99.45" y="213.3" width="4.6" height="4.6" fill="#800080" stroke="none" stroke-width="1"/>
<line x1="140.35" y1="202.6" x2="140.35" y2="209.7" stroke="#800080" stroke-width="1" />
<line x1="138.65" y1="202.6" x2="142.05" y2="202.6" stroke="#800080" stroke-width="1" />
<line x1="138.65" y1="209.7" x2="142.05" y2="209.7" stroke="#800080" stroke-width="1" />
<rect x="138.05" y="203.9" width="4.6" height="4.6" fill="#800080" stroke="none" stroke-width="1"/>
<line x1="14.9" y1="177.6" x2="150" y2="177.6" stroke="#555" stroke-width="1.1" />
<line x1="150" y1="177.6" x2="150" y2="339.4" stroke="#800080" stroke-width="1.1" />
<line x1="14.9" y1="177.6" x2="14.9" y2="339.4" stroke="#7cc47c" stroke-width="1.1" />
<line x1="14.9" y1="339.4" x2="150" y2="339.4" stroke="#444" stroke-width="1.2" />
<line x1="14.9" y1="339.4" x2="14.9" y2="340.9" stroke="#444" stroke-width="0.9" />
<line x1="24.55" y1="339.4" x2="24.55" y2="342.2" stroke="#444" stroke-width="0.9" />
<line x1="34.2" y1="339.4" x2="34.2" y2="340.9" stroke="#444" stroke-width="0.9" />
<line x1="43.85" y1="339.4" x2="43.85" y2="342.2" stroke="#444" stroke-width="0.9" />
<line x1="53.5" y1="339.4" x2="53.5" y2="340.9" stroke="#444" stroke-width="0.9" />
<line x1="63.15" y1="339.4" x2="63.15" y2="342.2" stroke="#444" stroke-width="0.9" />
<line x1="72.8" y1="339.4" x2="72.8" y2="340.9" stroke="#444" stroke-width="0.9" />
<line x1="82.45" y1="339.4" x2="82.45" y2="342.2" stroke="#444" stroke-width="0.9" />
<line x1="92.1" y1="339.4" x2="92.1" y2="340.9" stroke="#444" stroke-width="0.9" />
<line x1="101.75" y1="339.4" x2="101.75" y2="342.2" stroke="#444" stroke-width="0.9" />
<line x1="111.4" y1="339.4" x2="111.4" y2="340.9" stroke="#444" stroke-width="0.9" />
<line x1="121.05" y1="339.4" x2="121.05" y2="342.2" stroke="#444" stroke-width="0.9" />
<line x1="130.7" y1="339.4" x2="130.7" y2="340.9" stroke="#444" stroke-width="0.9" />
<line x1="140.35" y1="339.4" x2="140.35" y2="342.2" stroke="#444" stroke-width="0.9" />
<line x1="150" y1="339.4" x2="150" y2="340.9" stroke="#444" stroke-width="0.9" />
<text x="24.55" y="353.7" font-size="10.2" text-anchor="middle" fill="#000" stroke="#000" stroke-width="0.22" >20</text>
<text x="43.85" y="353.7" font-size="10.2" text-anchor="middle" fill="#000" stroke="#000" stroke-width="0.22" >30</text>
<text x="63.15" y="353.7" font-size="10.2" text-anchor="middle" fill="#000" stroke="#000" stroke-width="0.22" >40</text>
<text x="82.45" y="353.7" font-size="10.2" text-anchor="middle" fill="#000" stroke="#000" stroke-width="0.22" >50</text>
<text x="101.75" y="353.7" font-size="10.2" text-anchor="middle" fill="#000" stroke="#000" stroke-width="0.22" >60</text>
<text x="121.05" y="353.7" font-size="10.2" text-anchor="middle" fill="#000" stroke="#000" stroke-width="0.22" >70</text>
<text x="140.35" y="353.7" font-size="10.2" text-anchor="middle" fill="#000" stroke="#000" stroke-width="0.22" >80</text>
<text x="82.45" y="370.4" font-size="11.1" text-anchor="middle" fill="#000" stroke="#000" stroke-width="0.22" >Temperature (◦C)</text>
<line x1="14.9" y1="189.5" x2="12.1" y2="189.5" stroke="#0a850a" stroke-width="0.9" />
<text x="10.8" y="193.2" font-size="10.6" text-anchor="end" fill="#0a850a" stroke="#0a850a" stroke-width="0.22" >18</text>
<line x1="14.9" y1="328" x2="12.1" y2="328" stroke="#0a850a" stroke-width="0.9" />
<text x="10.8" y="331.7" font-size="10.6" text-anchor="end" fill="#0a850a" stroke="#0a850a" stroke-width="0.22" >12</text>
<line x1="14.9" y1="258.75" x2="13.4" y2="258.75" stroke="#0a850a" stroke-width="0.9" />
<line x1="150" y1="185.5" x2="152.8" y2="185.5" stroke="#800080" stroke-width="0.9" />
<text x="154.6" y="189.2" font-size="10.6" text-anchor="start" fill="#800080" stroke="#800080" stroke-width="0.22" >333</text>
<line x1="150" y1="324" x2="152.8" y2="324" stroke="#800080" stroke-width="0.9" />
<text x="154.6" y="327.7" font-size="10.6" text-anchor="start" fill="#800080" stroke="#800080" stroke-width="0.22" >324</text>
<line x1="150" y1="254.75" x2="151.5" y2="254.75" stroke="#800080" stroke-width="0.9" />
<text x="5" y="183.2" font-size="10" text-anchor="start" fill="#111" stroke="#111" stroke-width="0.22" >E</text>
<text x="10.7" y="254.6" font-size="11" text-anchor="middle" fill="#0a850a" stroke="#0a850a" stroke-width="0.22" transform="rotate(-90 10.7 254.6)" >Intensity (a.u.)</text>
<text x="164.2" y="254.6" font-size="10.8" text-anchor="middle" fill="#800080" stroke="#800080" stroke-width="0.22" transform="rotate(-90 164.2 254.6)" >Emission (nm)</text>
<rect x="80.3" y="297.3" width="4.4" height="4.4" fill="#0a850a" stroke="none" stroke-width="1"/>
<text x="93.5" y="302.1" font-size="7.6" text-anchor="start" fill="#000" stroke="#000" stroke-width="0.22" >Intensity</text>
<line x1="73.1" y1="309.1" x2="90.9" y2="309.1" stroke="#0a850a" stroke-width="1.4" />
<text x="93.5" y="311.7" font-size="7.6" text-anchor="start" fill="#000" stroke="#000" stroke-width="0.22" >Sigmodial Fit</text>
<rect x="80.3" y="316.4" width="4.4" height="4.4" fill="#800080" stroke="none" stroke-width="1"/>
<text x="93.5" y="321.2" font-size="7.6" text-anchor="start" fill="#000" stroke="#000" stroke-width="0.22" >Emission</text>
<line x1="73.1" y1="328.1" x2="90.9" y2="328.1" stroke="#8b1a1a" stroke-width="1.4" />
<text x="93.5" y="330.7" font-size="7.6" text-anchor="start" fill="#000" stroke="#000" stroke-width="0.22" >Exponential Fit</text>
<path d="M202.4 339.4 206.9 289.9 209.6 256.8 210.5 247 211.4 239 213.2 225.6 215 215 216 210.8 217.8 203.7 218.7 200.8 219.6 198.4 220.5 196.5 221.4 194.9 222.3 193.5 223.2 192.5 225 191.6 226.8 191 228.6 190.8 229.5 190.9 231.3 191.4 234 192.6 235.8 193.8 237.6 195.5 243.1 201.2 248.5 207.7 255.7 217 265.6 230.8 272 238.4 277.4 244.6 293.6 262.6 309.9 280.1" fill="none" stroke="#0a850a" stroke-width="1.4" stroke-linejoin="round" />
<path d="M196.6 231.6 204.6 232 208 232.5 210.3 233 212.6 233.6 214.9 234.5 217.2 235.7 219.5 237.1 221.8 238.9 224.1 240.9 228.6 245.8 234.4 252.6 249.2 271.3 258.4 282.6 264.1 289 266.4 291.3 268.7 293.4 271 295.3 274.4 297.8 277.9 299.9 281.3 301.7 284.7 303.4 288.2 304.8 303 310.5 306.5 312.1 309.9 313.8" fill="none" stroke="#800080" stroke-width="1.4" stroke-linejoin="round" />
<line x1="197.2" y1="317" x2="197.2" y2="324" stroke="#0a850a" stroke-width="1" />
<line x1="195.5" y1="317" x2="198.9" y2="317" stroke="#0a850a" stroke-width="1" />
<line x1="195.5" y1="324" x2="198.9" y2="324" stroke="#0a850a" stroke-width="1" />
<rect x="194.9" y="317.9" width="4.6" height="4.6" fill="#0a850a" stroke="none" stroke-width="1"/>
<line x1="219.74" y1="193" x2="219.74" y2="202.6" stroke="#0a850a" stroke-width="1" />
<line x1="218.04" y1="193" x2="221.44" y2="193" stroke="#0a850a" stroke-width="1" />
<line x1="218.04" y1="202.6" x2="221.44" y2="202.6" stroke="#0a850a" stroke-width="1" />
<rect x="217.44" y="195.4" width="4.6" height="4.6" fill="#0a850a" stroke="none" stroke-width="1"/>
<line x1="242.28" y1="201.7" x2="242.28" y2="216.2" stroke="#0a850a" stroke-width="1" />
<line x1="240.58" y1="201.7" x2="243.98" y2="201.7" stroke="#0a850a" stroke-width="1" />
<line x1="240.58" y1="216.2" x2="243.98" y2="216.2" stroke="#0a850a" stroke-width="1" />
<rect x="239.98" y="206.7" width="4.6" height="4.6" fill="#0a850a" stroke="none" stroke-width="1"/>
<line x1="264.82" y1="209.9" x2="264.82" y2="229.6" stroke="#0a850a" stroke-width="1" />
<line x1="263.12" y1="209.9" x2="266.52" y2="209.9" stroke="#0a850a" stroke-width="1" />
<line x1="263.12" y1="229.6" x2="266.52" y2="229.6" stroke="#0a850a" stroke-width="1" />
<rect x="262.52" y="217.7" width="4.6" height="4.6" fill="#0a850a" stroke="none" stroke-width="1"/>
<line x1="287.36" y1="248.2" x2="287.36" y2="257.8" stroke="#0a850a" stroke-width="1" />
<line x1="285.66" y1="248.2" x2="289.06" y2="248.2" stroke="#0a850a" stroke-width="1" />
<line x1="285.66" y1="257.8" x2="289.06" y2="257.8" stroke="#0a850a" stroke-width="1" />
<rect x="285.06" y="250.5" width="4.6" height="4.6" fill="#0a850a" stroke="none" stroke-width="1"/>
<line x1="309.9" y1="289.7" x2="309.9" y2="311.5" stroke="#0a850a" stroke-width="1" />
<line x1="308.2" y1="289.7" x2="311.6" y2="289.7" stroke="#0a850a" stroke-width="1" />
<line x1="308.2" y1="311.5" x2="311.6" y2="311.5" stroke="#0a850a" stroke-width="1" />
<rect x="307.6" y="298.2" width="4.6" height="4.6" fill="#0a850a" stroke="none" stroke-width="1"/>
<rect x="194.9" y="229.3" width="4.6" height="4.6" fill="#800080" stroke="none" stroke-width="1"/>
<line x1="219.74" y1="238.9" x2="219.74" y2="254.9" stroke="#c890c8" stroke-width="0.8" />
<line x1="218.04" y1="238.9" x2="221.44" y2="238.9" stroke="#c890c8" stroke-width="0.8" />
<line x1="218.04" y1="254.9" x2="221.44" y2="254.9" stroke="#c890c8" stroke-width="0.8" />
<rect x="217.44" y="244.7" width="4.6" height="4.6" fill="#800080" stroke="none" stroke-width="1"/>
<line x1="242.28" y1="254.9" x2="242.28" y2="270.3" stroke="#c890c8" stroke-width="0.8" />
<line x1="240.58" y1="254.9" x2="243.98" y2="254.9" stroke="#c890c8" stroke-width="0.8" />
<line x1="240.58" y1="270.3" x2="243.98" y2="270.3" stroke="#c890c8" stroke-width="0.8" />
<rect x="239.98" y="259.8" width="4.6" height="4.6" fill="#800080" stroke="none" stroke-width="1"/>
<line x1="264.82" y1="285.4" x2="264.82" y2="300.5" stroke="#c890c8" stroke-width="0.8" />
<line x1="263.12" y1="285.4" x2="266.52" y2="285.4" stroke="#c890c8" stroke-width="0.8" />
<line x1="263.12" y1="300.5" x2="266.52" y2="300.5" stroke="#c890c8" stroke-width="0.8" />
<rect x="262.52" y="290.3" width="4.6" height="4.6" fill="#800080" stroke="none" stroke-width="1"/>
<rect x="285.06" y="306.3" width="4.6" height="4.6" fill="#800080" stroke="none" stroke-width="1"/>
<rect x="307.6" y="321.7" width="4.6" height="4.6" fill="#800080" stroke="none" stroke-width="1"/>
<line x1="186.1" y1="177.6" x2="321.5" y2="177.6" stroke="#800080" stroke-width="1.1" />
<line x1="321.5" y1="177.6" x2="321.5" y2="339.4" stroke="#800080" stroke-width="1.1" />
<line x1="186.1" y1="177.6" x2="186.1" y2="339.4" stroke="#800080" stroke-width="1.1" />
<line x1="186.1" y1="339.4" x2="321.5" y2="339.4" stroke="#800080" stroke-width="1.2" />
<line x1="185.93" y1="339.4" x2="185.93" y2="340.9" stroke="#444" stroke-width="0.9" />
<line x1="197.2" y1="339.4" x2="197.2" y2="342.2" stroke="#444" stroke-width="0.9" />
<line x1="208.47" y1="339.4" x2="208.47" y2="340.9" stroke="#444" stroke-width="0.9" />
<line x1="219.74" y1="339.4" x2="219.74" y2="342.2" stroke="#444" stroke-width="0.9" />
<line x1="231.01" y1="339.4" x2="231.01" y2="340.9" stroke="#444" stroke-width="0.9" />
<line x1="242.28" y1="339.4" x2="242.28" y2="342.2" stroke="#444" stroke-width="0.9" />
<line x1="253.55" y1="339.4" x2="253.55" y2="340.9" stroke="#444" stroke-width="0.9" />
<line x1="264.82" y1="339.4" x2="264.82" y2="342.2" stroke="#444" stroke-width="0.9" />
<line x1="276.09" y1="339.4" x2="276.09" y2="340.9" stroke="#444" stroke-width="0.9" />
<line x1="287.36" y1="339.4" x2="287.36" y2="342.2" stroke="#444" stroke-width="0.9" />
<line x1="298.63" y1="339.4" x2="298.63" y2="340.9" stroke="#444" stroke-width="0.9" />
<line x1="309.9" y1="339.4" x2="309.9" y2="342.2" stroke="#444" stroke-width="0.9" />
<line x1="321.17" y1="339.4" x2="321.17" y2="340.9" stroke="#444" stroke-width="0.9" />
<text x="197.2" y="353.7" font-size="10.2" text-anchor="middle" fill="#000" stroke="#000" stroke-width="0.22" >0.0</text>
<text x="219.74" y="353.7" font-size="10.2" text-anchor="middle" fill="#000" stroke="#000" stroke-width="0.22" >0.2</text>
<text x="242.28" y="353.7" font-size="10.2" text-anchor="middle" fill="#000" stroke="#000" stroke-width="0.22" >0.4</text>
<text x="264.82" y="353.7" font-size="10.2" text-anchor="middle" fill="#000" stroke="#000" stroke-width="0.22" >0.6</text>
<text x="287.36" y="353.7" font-size="10.2" text-anchor="middle" fill="#000" stroke="#000" stroke-width="0.22" >0.8</text>
<text x="309.9" y="353.7" font-size="10.2" text-anchor="middle" fill="#000" stroke="#000" stroke-width="0.22" >1.0</text>
<text x="253.8" y="370.4" font-size="11.1" text-anchor="middle" fill="#000" stroke="#000" stroke-width="0.22" >[SDS] (mM)</text>
<line x1="186.1" y1="189.5" x2="183.3" y2="189.5" stroke="#0a850a" stroke-width="0.9" />
<text x="183.9" y="193.2" font-size="10.6" text-anchor="end" fill="#0a850a" stroke="#0a850a" stroke-width="0.22" >18</text>
<line x1="186.1" y1="328" x2="183.3" y2="328" stroke="#0a850a" stroke-width="0.9" />
<text x="183.9" y="331.7" font-size="10.6" text-anchor="end" fill="#0a850a" stroke="#0a850a" stroke-width="0.22" >12</text>
<line x1="186.1" y1="258.75" x2="184.6" y2="258.75" stroke="#0a850a" stroke-width="0.9" />
<line x1="321.5" y1="185.5" x2="324.3" y2="185.5" stroke="#800080" stroke-width="0.9" />
<text x="326.1" y="189.2" font-size="10.6" text-anchor="start" fill="#800080" stroke="#800080" stroke-width="0.22" >333</text>
<line x1="321.5" y1="324" x2="324.3" y2="324" stroke="#800080" stroke-width="0.9" />
<text x="326.1" y="327.7" font-size="10.6" text-anchor="start" fill="#800080" stroke="#800080" stroke-width="0.22" >324</text>
<line x1="321.5" y1="254.75" x2="323" y2="254.75" stroke="#800080" stroke-width="0.9" />
<text x="175.2" y="183" font-size="10" text-anchor="start" fill="#111" stroke="#111" stroke-width="0.22" >F</text>
<text x="181.9" y="254.6" font-size="11" text-anchor="middle" fill="#0a850a" stroke="#0a850a" stroke-width="0.22" transform="rotate(-90 181.9 254.6)" >Intensity (a.u.)</text>
<text x="335.7" y="254.6" font-size="10.8" text-anchor="middle" fill="#800080" stroke="#800080" stroke-width="0.22" transform="rotate(-90 335.7 254.6)" >Emission (nm)</text>
<rect x="214.2" y="300.6" width="4.4" height="4.4" fill="#0a850a" stroke="none" stroke-width="1"/>
<text x="224.8" y="305.4" font-size="7.6" text-anchor="start" fill="#000" stroke="#000" stroke-width="0.22" >Intensity</text>
<line x1="210.6" y1="312" x2="222.2" y2="312" stroke="#0a850a" stroke-width="1.4" />
<text x="224.8" y="314.6" font-size="7.6" text-anchor="start" fill="#000" stroke="#000" stroke-width="0.22" >Gauss Fit</text>
<rect x="214.2" y="320" width="4.4" height="4.4" fill="#800080" stroke="none" stroke-width="1"/>
<text x="224.8" y="324.8" font-size="7.6" text-anchor="start" fill="#000" stroke="#000" stroke-width="0.22" >Emission</text>
<line x1="210.6" y1="331.8" x2="222.2" y2="331.8" stroke="#800080" stroke-width="1.4" />
<text x="224.8" y="334.4" font-size="7.6" text-anchor="start" fill="#000" stroke="#000" stroke-width="0.22" >Sigmodial Fit</text>
<path d="M367.2 315 371.8 312.7 375.2 310.6 378.6 308.3 382 305.7 385.4 302.8 388.8 299.5 392.2 295.9 394.5 293.2 399.1 287.4 403.6 280.7 419.6 254.4 426.4 243.5 429.8 238.4 433.2 233.6 435.5 230.9 437.8 228.5 441.2 225.6 443.5 223.9 445.7 222.4 449.2 220.5 451.4 219.4 454.9 218.2 457.1 217.6 459.4 217.2 461.7 217.1 464 217.2 466.2 217.5 468.5 218.1 470.8 218.9 473.1 220 475.3 221.4 477.6 223.1 479.9 225" fill="none" stroke="#0a850a" stroke-width="1.4" stroke-linejoin="round" />
<path d="M367.2 225.8 372.9 223.8 378.6 221.3 384.3 218.6 395.7 212.7 400.2 210.8 402.5 210.1 404.8 209.6 413.9 208.3 418.4 207.3 424.1 205.7 428.7 204.1 432.1 202.6 435.5 200.8 443.5 195.6 446.9 193.6 450.3 191.9 454.9 190.1 459.4 188.7 465.1 187.5 470.8 186.6 479.9 185.7" fill="none" stroke="#800080" stroke-width="1.4" stroke-linejoin="round" />
<line x1="367.2" y1="311.5" x2="367.2" y2="328.1" stroke="#60b060" stroke-width="0.8" />
<line x1="365.5" y1="311.5" x2="368.9" y2="311.5" stroke="#60b060" stroke-width="0.8" />
<line x1="365.5" y1="328.1" x2="368.9" y2="328.1" stroke="#60b060" stroke-width="0.8" />
<rect x="364.9" y="317.9" width="4.6" height="4.6" fill="#0a850a" stroke="none" stroke-width="1"/>
<line x1="389.74" y1="280.1" x2="389.74" y2="294.7" stroke="#60b060" stroke-width="0.8" />
<line x1="388.04" y1="280.1" x2="391.44" y2="280.1" stroke="#60b060" stroke-width="0.8" />
<line x1="388.04" y1="294.7" x2="391.44" y2="294.7" stroke="#60b060" stroke-width="0.8" />
<rect x="387.44" y="285.1" width="4.6" height="4.6" fill="#0a850a" stroke="none" stroke-width="1"/>
<line x1="412.28" y1="268.8" x2="412.28" y2="282" stroke="#60b060" stroke-width="0.8" />
<line x1="410.58" y1="268.8" x2="413.98" y2="268.8" stroke="#60b060" stroke-width="0.8" />
<line x1="410.58" y1="282" x2="413.98" y2="282" stroke="#60b060" stroke-width="0.8" />
<rect x="409.98" y="273.5" width="4.6" height="4.6" fill="#0a850a" stroke="none" stroke-width="1"/>
<line x1="434.82" y1="225.2" x2="434.82" y2="241.8" stroke="#60b060" stroke-width="0.8" />
<line x1="433.12" y1="225.2" x2="436.52" y2="225.2" stroke="#60b060" stroke-width="0.8" />
<line x1="433.12" y1="241.8" x2="436.52" y2="241.8" stroke="#60b060" stroke-width="0.8" />
<rect x="432.52" y="231.4" width="4.6" height="4.6" fill="#0a850a" stroke="none" stroke-width="1"/>
<line x1="457.36" y1="200.6" x2="457.36" y2="227.3" stroke="#60b060" stroke-width="0.8" />
<line x1="455.66" y1="200.6" x2="459.06" y2="200.6" stroke="#60b060" stroke-width="0.8" />
<line x1="455.66" y1="227.3" x2="459.06" y2="227.3" stroke="#60b060" stroke-width="0.8" />
<rect x="455.06" y="211.3" width="4.6" height="4.6" fill="#0a850a" stroke="none" stroke-width="1"/>
<line x1="479.9" y1="215.7" x2="479.9" y2="238" stroke="#60b060" stroke-width="0.8" />
<line x1="478.2" y1="215.7" x2="481.6" y2="215.7" stroke="#60b060" stroke-width="0.8" />
<line x1="478.2" y1="238" x2="481.6" y2="238" stroke="#60b060" stroke-width="0.8" />
<rect x="477.6" y="225" width="4.6" height="4.6" fill="#0a850a" stroke="none" stroke-width="1"/>
<rect x="364.9" y="229.3" width="4.6" height="4.6" fill="#800080" stroke="none" stroke-width="1"/>
<rect x="387.44" y="213.9" width="4.6" height="4.6" fill="#800080" stroke="none" stroke-width="1"/>
<line x1="412.28" y1="209.9" x2="412.28" y2="223.8" stroke="#c890c8" stroke-width="0.8" />
<line x1="410.58" y1="209.9" x2="413.98" y2="209.9" stroke="#c890c8" stroke-width="0.8" />
<line x1="410.58" y1="223.8" x2="413.98" y2="223.8" stroke="#c890c8" stroke-width="0.8" />
<rect x="409.98" y="213.9" width="4.6" height="4.6" fill="#800080" stroke="none" stroke-width="1"/>
<line x1="434.82" y1="193" x2="434.82" y2="207.8" stroke="#c890c8" stroke-width="0.8" />
<line x1="433.12" y1="193" x2="436.52" y2="193" stroke="#c890c8" stroke-width="0.8" />
<line x1="433.12" y1="207.8" x2="436.52" y2="207.8" stroke="#c890c8" stroke-width="0.8" />
<rect x="432.52" y="198.8" width="4.6" height="4.6" fill="#800080" stroke="none" stroke-width="1"/>
<rect x="455.06" y="183.4" width="4.6" height="4.6" fill="#800080" stroke="none" stroke-width="1"/>
<rect x="477.6" y="183.4" width="4.6" height="4.6" fill="#800080" stroke="none" stroke-width="1"/>
<line x1="356.1" y1="177.6" x2="491.2" y2="177.6" stroke="#555" stroke-width="1.1" />
<line x1="491.2" y1="177.6" x2="491.2" y2="339.4" stroke="#800080" stroke-width="1.1" />
<line x1="356.1" y1="177.6" x2="356.1" y2="339.4" stroke="#7cc47c" stroke-width="1.1" />
<line x1="356.1" y1="339.4" x2="491.2" y2="339.4" stroke="#444" stroke-width="1.2" />
<line x1="355.93" y1="339.4" x2="355.93" y2="340.9" stroke="#444" stroke-width="0.9" />
<line x1="367.2" y1="339.4" x2="367.2" y2="342.2" stroke="#444" stroke-width="0.9" />
<line x1="378.47" y1="339.4" x2="378.47" y2="340.9" stroke="#444" stroke-width="0.9" />
<line x1="389.74" y1="339.4" x2="389.74" y2="342.2" stroke="#444" stroke-width="0.9" />
<line x1="401.01" y1="339.4" x2="401.01" y2="340.9" stroke="#444" stroke-width="0.9" />
<line x1="412.28" y1="339.4" x2="412.28" y2="342.2" stroke="#444" stroke-width="0.9" />
<line x1="423.55" y1="339.4" x2="423.55" y2="340.9" stroke="#444" stroke-width="0.9" />
<line x1="434.82" y1="339.4" x2="434.82" y2="342.2" stroke="#444" stroke-width="0.9" />
<line x1="446.09" y1="339.4" x2="446.09" y2="340.9" stroke="#444" stroke-width="0.9" />
<line x1="457.36" y1="339.4" x2="457.36" y2="342.2" stroke="#444" stroke-width="0.9" />
<line x1="468.63" y1="339.4" x2="468.63" y2="340.9" stroke="#444" stroke-width="0.9" />
<line x1="479.9" y1="339.4" x2="479.9" y2="342.2" stroke="#444" stroke-width="0.9" />
<line x1="491.17" y1="339.4" x2="491.17" y2="340.9" stroke="#444" stroke-width="0.9" />
<text x="367.2" y="353.7" font-size="10.2" text-anchor="middle" fill="#000" stroke="#000" stroke-width="0.22" >0.0</text>
<text x="389.74" y="353.7" font-size="10.2" text-anchor="middle" fill="#000" stroke="#000" stroke-width="0.22" >0.2</text>
<text x="412.28" y="353.7" font-size="10.2" text-anchor="middle" fill="#000" stroke="#000" stroke-width="0.22" >0.4</text>
<text x="434.82" y="353.7" font-size="10.2" text-anchor="middle" fill="#000" stroke="#000" stroke-width="0.22" >0.6</text>
<text x="457.36" y="353.7" font-size="10.2" text-anchor="middle" fill="#000" stroke="#000" stroke-width="0.22" >0.8</text>
<text x="479.9" y="353.7" font-size="10.2" text-anchor="middle" fill="#000" stroke="#000" stroke-width="0.22" >1.0</text>
<text x="423.65" y="370.4" font-size="11.1" text-anchor="middle" fill="#000" stroke="#000" stroke-width="0.22" >[DTAB] (mM)</text>
<line x1="356.1" y1="189.5" x2="353.3" y2="189.5" stroke="#0a850a" stroke-width="0.9" />
<text x="353.9" y="193.2" font-size="10.6" text-anchor="end" fill="#0a850a" stroke="#0a850a" stroke-width="0.22" >18</text>
<line x1="356.1" y1="328" x2="353.3" y2="328" stroke="#0a850a" stroke-width="0.9" />
<text x="353.9" y="331.7" font-size="10.6" text-anchor="end" fill="#0a850a" stroke="#0a850a" stroke-width="0.22" >12</text>
<line x1="356.1" y1="258.75" x2="354.6" y2="258.75" stroke="#0a850a" stroke-width="0.9" />
<line x1="491.2" y1="185.5" x2="494" y2="185.5" stroke="#800080" stroke-width="0.9" />
<text x="495.8" y="189.2" font-size="10.6" text-anchor="start" fill="#800080" stroke="#800080" stroke-width="0.22" >333</text>
<line x1="491.2" y1="324" x2="494" y2="324" stroke="#800080" stroke-width="0.9" />
<text x="495.8" y="327.7" font-size="10.6" text-anchor="start" fill="#800080" stroke="#800080" stroke-width="0.22" >324</text>
<line x1="491.2" y1="254.75" x2="492.7" y2="254.75" stroke="#800080" stroke-width="0.9" />
<text x="344.6" y="181.7" font-size="10" text-anchor="start" fill="#111" stroke="#111" stroke-width="0.22" >G</text>
<text x="351.9" y="254.6" font-size="11" text-anchor="middle" fill="#0a850a" stroke="#0a850a" stroke-width="0.22" transform="rotate(-90 351.9 254.6)" >Intensity (a.u.)</text>
<text x="505.4" y="254.6" font-size="10.8" text-anchor="middle" fill="#800080" stroke="#800080" stroke-width="0.22" transform="rotate(-90 505.4 254.6)" >Emission (nm)</text>
<rect x="426" y="299.1" width="4.4" height="4.4" fill="#0a850a" stroke="none" stroke-width="1"/>
<text x="439.2" y="303.9" font-size="7.6" text-anchor="start" fill="#000" stroke="#000" stroke-width="0.22" >Intensity</text>
<line x1="419.5" y1="310.9" x2="435.7" y2="310.9" stroke="#0a850a" stroke-width="1.4" />
<text x="439.2" y="313.5" font-size="7.6" text-anchor="start" fill="#000" stroke="#000" stroke-width="0.22" >Gauss Fit</text>
<rect x="426" y="318" width="4.4" height="4.4" fill="#800080" stroke="none" stroke-width="1"/>
<text x="439.2" y="322.8" font-size="7.6" text-anchor="start" fill="#000" stroke="#000" stroke-width="0.22" >Emission</text>
<line x1="419.5" y1="329.8" x2="435.7" y2="329.8" stroke="#800080" stroke-width="1.4" />
<text x="441.3" y="332.4" font-size="7.6" text-anchor="start" fill="#000" stroke="#000" stroke-width="0.22" >Sigmodial Fit</text>
<path d="M538.1 315.9 539.7 300.7 540.5 294.3 541.3 289.1 543 280.1 544.6 273.1 545.4 270.5 547 266.2 548.6 262.7 549.5 261.3 550.3 260.1 551.9 258.5 554.3 256.5 555.9 255.5 558.4 254.4 560 254 565.7 253.2 570.5 252.9 593.2 252.8 650.8 252.8" fill="none" stroke="#0a850a" stroke-width="1.4" stroke-linejoin="round" />
<path d="M538.1 225.8 540.5 222.1 543 217.4 547.8 204.9 551.1 197.4 552.7 194.2 553.5 193 554.3 192.1 555.9 190.5 557.6 189.3 558.4 188.8 560 188.1 563.2 187.2 565.7 186.6 568.9 186.2 571.3 186 594 185.7 650.8 185.7" fill="none" stroke="#800080" stroke-width="1.4" stroke-linejoin="round" />
<rect x="535.8" y="317.9" width="4.6" height="4.6" fill="#0a850a" stroke="none" stroke-width="1"/>
<rect x="558.34" y="241" width="4.6" height="4.6" fill="#0a850a" stroke="none" stroke-width="1"/>
<rect x="580.88" y="241.8" width="4.6" height="4.6" fill="#0a850a" stroke="none" stroke-width="1"/>
<rect x="603.42" y="247.3" width="4.6" height="4.6" fill="#0a850a" stroke="none" stroke-width="1"/>
<rect x="625.96" y="244.7" width="4.6" height="4.6" fill="#0a850a" stroke="none" stroke-width="1"/>
<rect x="648.5" y="250.5" width="4.6" height="4.6" fill="#0a850a" stroke="none" stroke-width="1"/>
<rect x="535.8" y="229.3" width="4.6" height="4.6" fill="#800080" stroke="none" stroke-width="1"/>
<rect x="558.34" y="183.4" width="4.6" height="4.6" fill="#800080" stroke="none" stroke-width="1"/>
<rect x="580.88" y="183.4" width="4.6" height="4.6" fill="#800080" stroke="none" stroke-width="1"/>
<rect x="603.42" y="183.4" width="4.6" height="4.6" fill="#800080" stroke="none" stroke-width="1"/>
<rect x="625.96" y="183.4" width="4.6" height="4.6" fill="#800080" stroke="none" stroke-width="1"/>
<rect x="648.5" y="183.4" width="4.6" height="4.6" fill="#800080" stroke="none" stroke-width="1"/>
<line x1="527.3" y1="177.6" x2="662.1" y2="177.6" stroke="#555" stroke-width="1.1" />
<line x1="662.1" y1="177.6" x2="662.1" y2="339.4" stroke="#b070b0" stroke-width="1.1" />
<line x1="527.3" y1="177.6" x2="527.3" y2="339.4" stroke="#7cc47c" stroke-width="1.1" />
<line x1="527.3" y1="339.4" x2="662.1" y2="339.4" stroke="#444" stroke-width="1.2" />
<line x1="526.83" y1="339.4" x2="526.83" y2="340.9" stroke="#444" stroke-width="0.9" />
<line x1="538.1" y1="339.4" x2="538.1" y2="342.2" stroke="#444" stroke-width="0.9" />
<line x1="549.37" y1="339.4" x2="549.37" y2="340.9" stroke="#444" stroke-width="0.9" />
<line x1="560.64" y1="339.4" x2="560.64" y2="342.2" stroke="#444" stroke-width="0.9" />
<line x1="571.91" y1="339.4" x2="571.91" y2="340.9" stroke="#444" stroke-width="0.9" />
<line x1="583.18" y1="339.4" x2="583.18" y2="342.2" stroke="#444" stroke-width="0.9" />
<line x1="594.45" y1="339.4" x2="594.45" y2="340.9" stroke="#444" stroke-width="0.9" />
<line x1="605.72" y1="339.4" x2="605.72" y2="342.2" stroke="#444" stroke-width="0.9" />
<line x1="616.99" y1="339.4" x2="616.99" y2="340.9" stroke="#444" stroke-width="0.9" />
<line x1="628.26" y1="339.4" x2="628.26" y2="342.2" stroke="#444" stroke-width="0.9" />
<line x1="639.53" y1="339.4" x2="639.53" y2="340.9" stroke="#444" stroke-width="0.9" />
<line x1="650.8" y1="339.4" x2="650.8" y2="342.2" stroke="#444" stroke-width="0.9" />
<line x1="662.07" y1="339.4" x2="662.07" y2="340.9" stroke="#444" stroke-width="0.9" />
<text x="538.1" y="353.7" font-size="10.2" text-anchor="middle" fill="#000" stroke="#000" stroke-width="0.22" >0.0</text>
<text x="560.64" y="353.7" font-size="10.2" text-anchor="middle" fill="#000" stroke="#000" stroke-width="0.22" >0.2</text>
<text x="583.18" y="353.7" font-size="10.2" text-anchor="middle" fill="#000" stroke="#000" stroke-width="0.22" >0.4</text>
<text x="605.72" y="353.7" font-size="10.2" text-anchor="middle" fill="#000" stroke="#000" stroke-width="0.22" >0.6</text>
<text x="628.26" y="353.7" font-size="10.2" text-anchor="middle" fill="#000" stroke="#000" stroke-width="0.22" >0.8</text>
<text x="650.8" y="353.7" font-size="10.2" text-anchor="middle" fill="#000" stroke="#000" stroke-width="0.22" >1.0</text>
<text x="594.7" y="370.4" font-size="11.1" text-anchor="middle" fill="#000" stroke="#000" stroke-width="0.22" >[PS20] (mM)</text>
<line x1="527.3" y1="189.5" x2="524.5" y2="189.5" stroke="#0a850a" stroke-width="0.9" />
<text x="525.1" y="193.2" font-size="10.6" text-anchor="end" fill="#0a850a" stroke="#0a850a" stroke-width="0.22" >18</text>
<line x1="527.3" y1="328" x2="524.5" y2="328" stroke="#0a850a" stroke-width="0.9" />
<text x="525.1" y="331.7" font-size="10.6" text-anchor="end" fill="#0a850a" stroke="#0a850a" stroke-width="0.22" >12</text>
<line x1="527.3" y1="258.75" x2="525.8" y2="258.75" stroke="#0a850a" stroke-width="0.9" />
<line x1="662.1" y1="185.5" x2="664.9" y2="185.5" stroke="#800080" stroke-width="0.9" />
<text x="666.7" y="189.2" font-size="10.6" text-anchor="start" fill="#800080" stroke="#800080" stroke-width="0.22" >333</text>
<line x1="662.1" y1="324" x2="664.9" y2="324" stroke="#800080" stroke-width="0.9" />
<text x="666.7" y="327.7" font-size="10.6" text-anchor="start" fill="#800080" stroke="#800080" stroke-width="0.22" >324</text>
<line x1="662.1" y1="254.75" x2="663.6" y2="254.75" stroke="#800080" stroke-width="0.9" />
<text x="516.3" y="182.4" font-size="10" text-anchor="start" fill="#111" stroke="#111" stroke-width="0.22" >H</text>
<text x="523.1" y="254.6" font-size="11" text-anchor="middle" fill="#0a850a" stroke="#0a850a" stroke-width="0.22" transform="rotate(-90 523.1 254.6)" >Intensity (a.u.)</text>
<text x="676.3" y="254.6" font-size="10.8" text-anchor="middle" fill="#800080" stroke="#800080" stroke-width="0.22" transform="rotate(-90 676.3 254.6)" >Emission (nm)</text>
<rect x="590.5" y="299.1" width="4.4" height="4.4" fill="#0a850a" stroke="none" stroke-width="1"/>
<text x="603.4" y="303.9" font-size="7.6" text-anchor="start" fill="#000" stroke="#000" stroke-width="0.22" >Intensity</text>
<line x1="584.5" y1="310.6" x2="601.1" y2="310.6" stroke="#0a850a" stroke-width="1.4" />
<text x="603.4" y="313.2" font-size="7.6" text-anchor="start" fill="#000" stroke="#000" stroke-width="0.22" >Exponential Fit</text>
<rect x="590.5" y="318" width="4.4" height="4.4" fill="#800080" stroke="none" stroke-width="1"/>
<text x="603.4" y="322.8" font-size="7.6" text-anchor="start" fill="#000" stroke="#000" stroke-width="0.22" >Emission</text>
<line x1="584.5" y1="329.5" x2="601.1" y2="329.5" stroke="#800080" stroke-width="1.4" />
<text x="607.6" y="332.1" font-size="7.6" text-anchor="start" fill="#000" stroke="#000" stroke-width="0.22" >Sigmodial Fit</text>
<path d="M14.8 374.1 15.2 374.5 16.8 376.8 17.6 379.5 17.8 379.3 18.8 374.1 19.4 371.9 20.2 373 20.8 373.4 21.2 373.5 22.2 373 22.8 372.2 23 372.1 23.4 372.6 24 374.2 24.4 374.9 25.4 375.2 27 376.5 27.2 377 28.8 385.2 30 391.8 30.6 395.8 31.4 402.9 31.8 401.6 32.8 397.2 35 385.5 35.4 384.1 35.6 384 36.2 385.2 36.6 384.6 36.8 384.6 37.4 385.6 37.6 385.5 38.2 384.4 38.4 384.5 39.4 387.6 39.8 388.2 40 388.9 40.4 392.8 41.2 405.6 41.6 408.5 42.2 396.5 42.6 390.7 43.2 385.3 43.4 384.3 43.6 384.4 44.6 387.3 45.2 390.4 45.4 390.7 46 388.4 46.6 389.2 47 388.9 47.2 389 47.4 389.7 47.6 390.9 48.6 405.1 49 407.3 49.6 412.7 50 414.4 50.2 414.9 50.4 414.2 50.6 414.4 50.8 413.9 51 414.2 51.2 414.3 51.4 415.3 51.6 415.4 52.2 418.2 52.4 418.2 52.6 419.5 52.8 419.8 53 419.6 53.2 419 53.4 419.6 53.8 413.1 54.2 409.3 54.6 406.7 54.8 404.4 55.2 402.4 56 395.8 56.2 393.1 56.4 392.5 56.6 392.4 57.2 397.9 57.4 398.4 57.6 399.5 57.8 399.9 58.6 386.4 59 382 59.4 380 59.6 379.7 60.2 381.7 60.4 381.6 61 380.4 61.2 380.2 61.8 379.8 62.4 379.8 63.4 380.9 64.8 381.3 65.8 381.3 66.8 381.1 67.6 381.1 68.4 381 69.2 381.7 69.8 382 70.8 382.1 71.6 382.4 73.4 382.6 73.8 382.9 74.6 383.8 74.8 383.8 75.4 383.5 75.6 383.5 76.4 384.4 76.8 384.7 77.6 384.7 78.6 385.4 79.4 385.2 80.2 386.2 80.6 386.4 81.6 386.6 82 386.6 82.4 386.4 83 385.8 83.2 386.6 83.6 389.8 83.8 389.5 84.2 387.7 84.4 387.4 84.6 387.5 85.2 388.3 85.4 388.4 86 388.1 86.2 388.2 86.6 388.4 87.4 388.7 88.2 389.3 89.8 390.2 90.6 390.2 92.2 390.8 93.6 392 94.4 392 94.8 392.1 96.4 393.6 98 393.8 98.4 394 99 394.7 99.8 396 100.6 396.5 102.4 399 103.8 404.1 104.6 411 105.4 405 106.2 408.2 107 415.9 108.2 406.2 109.4 402.3 109.6 401.9 110.6 401.1 112.4 402.6 113.4 403.2 113.8 403.3 114.4 403.2 115.6 404.1 116.6 404.2 118 407 118.4 407.4 118.6 407.5 119.2 407.3 119.4 407.4 120 407.9 120.8 408 121.6 408.7 122.4 408.7 123 409.3 123.4 409.5 125.6 409.2 126.6 408.5 127 408.3 127.4 408.5 128 409.2 128.4 409.4 128.6 409.3 129.4 408.5 130 408.4 130.8 408.1 132 406.6 132.2 406.6 132.8 407 133.2 407 134 406.6 134.2 406.3 134.4 406.7 134.6 406.8 134.8 405.6 135 405.8 135.2 406.5 135.4 405.2 135.6 405.7 135.8 405.6 136 406 136.4 404.8 136.6 404.6 136.8 404.3 137 404.8 137.2 403.4 137.4 403 137.6 402.9 138.2 401.2 138.4 401.5 138.6 401.1 138.8 401.7" fill="none" stroke="#ff8000" stroke-width="1.15" stroke-linejoin="round" />
<path d="M14.8 412.5 15.2 412.6 16.2 413.3 16.8 413.6 17.4 412.6 18.4 410 19 409.2 19.4 409.1 20 409.5 21 409.7 21.4 409.5 22 409.1 22.4 409 22.8 408.7 23 408.7 23.4 409.4 24.2 411.4 24.6 411.6 25.4 411.4 27 413.4 27.6 414.5 28.8 417.7 30 419 30.6 419.4 31 419.4 31.4 420 31.8 419.9 32.4 419.1 33 418.6 33.8 417.4 34 417.6 35 420.1 35.2 420.9 36.4 429.7 36.6 429.3 37.4 425.1 38.2 418.7 38.4 418.4 38.8 418.7 39 418.7 39.2 418.2 40 413.7 40.2 413.8 40.4 414.6 41.2 421 41.4 421.7 41.6 421.6 42 420.5 42.2 420.4 42.4 420.8 42.6 420.5 43.2 417.1 43.4 416.3 43.6 416 44.2 416.7 44.6 418.6 45.2 422.5 45.4 423.1 45.6 422.9 46 421.6 46.6 420.4 47 419 47.4 419 47.8 421.3 48.4 426.3 48.6 426.4 48.8 427.2 49 426.6 49.2 426.5 49.4 427.4 49.6 427.5 50 429.4 50.2 428.4 50.4 428.4 50.8 428.7 51 428.6 51.6 430 51.8 430 52.6 434.7 52.8 435.1 53 436.3 53.6 438.7 53.8 438.3 54 437.1 54.2 437.1 54.4 437.6 54.6 436.5 54.8 436.9 55 435.1 55.2 434.6 56 425.5 56.6 421.5 56.8 420.9 57 420.7 57.4 423.3 57.6 422.9 57.8 422.9 58.8 410.3 59.4 407.8 59.6 407.8 60 409.8 60.2 410.3 60.4 410.3 61 409.4 61.6 409.4 62.2 409.2 62.6 409.3 63.2 410 63.6 410.3 64.8 410.6 65.8 410.4 66.8 410 67.6 410 68.4 409.7 69.2 410.3 69.8 410.5 70.8 410.4 71.6 410.6 73.4 410.4 73.8 410.6 74.6 411.3 75.6 410.8 76.4 411.5 76.8 411.7 77.6 411.5 78.6 412 79.4 411.6 79.6 411.7 80.2 412.4 80.6 412.6 81.6 412.6 82 412.4 83 411.4 83.2 412.2 83.6 415.3 83.8 414.9 84.2 413 84.4 412.7 84.6 412.7 85.2 413.3 85.4 413.4 86 413 86.2 413 86.6 413.1 87.4 413.2 88.2 413.7 89.8 414.1 90.6 414 92.2 414.1 92.6 414.3 93.2 414.9 93.6 415 94.4 414.8 94.8 414.8 96.2 415.8 96.4 415.8 98 415.1 98.6 415.1 99.2 415.6 100 416.6 100.8 417.1 101.4 417.7 102 418.1 102.4 418.5 103.4 423.2 104.2 432.9 104.4 433 105.2 423.1 106 427.5 107 441.6 108 430.2 109.4 420.7 109.6 419.8 110.8 418.3 112 417.4 113.4 418.4 114.4 418.6 115.6 420.1 117.6 421.6 118.4 422.8 118.6 423 119.2 423.1 119.4 423.3 120 424.2 120.8 424.8 121.6 426 122.2 426.3 123 427.2 123.4 427.3 125.6 426.7 126.6 425.9 127.2 425.6 127.4 425.6 128.2 426 128.4 426 129.2 425 130.4 424.5 131 423.8 132 422.2 132.4 422 133 422.1 134 421.2 134.2 420.4 134.4 420.3 134.6 418.4 134.8 419.2 135 423.1 135.2 419.1 135.4 418.3 135.8 421.6 136 416.7 136.2 418.4 136.4 417.5 136.6 415.4 136.8 419 137 417.4 137.2 417 137.4 415.1 137.6 416.6 137.8 414.6 138 414.9 138.2 413 138.4 412.5 138.6 416.3 138.8 413.1" fill="none" stroke="#8000ff" stroke-width="1.15" stroke-linejoin="round" />
<path d="M14.8 443.3 15.2 443.9 16.8 446.9 17.4 445.1 18.4 441.2 19 439.8 19.4 439.4 20 439.4 20.6 439.1 21.2 439 22.8 437.4 23 437.4 23.2 437.6 23.8 438.9 24.2 439.5 24.6 439.4 25.4 438.7 27 441 29 446.4 29.6 447.5 30.2 449 31 449.9 31.4 450.8 31.8 450.6 32.4 449.7 33 448.9 33.6 447.8 34.4 446.6 35 445.5 35.2 445.5 35.4 445.7 36.2 447.8 36.4 447.9 36.8 447.3 37.4 447.4 38 446 38.2 445.9 38.4 446.2 39 448.4 39.2 448.6 39.4 448.2 39.8 446.3 40 446.5 40.2 448.1 41.2 461 41.4 462 41.6 462.3 42.4 452.5 43.2 447.2 43.4 446.5 43.6 446.8 44.2 449.1 44.6 450.2 45.2 453.1 45.4 453.3 46.8 446.9 47 446.3 47.2 446 47.4 446.1 47.8 448.3 48.6 454.8 48.8 455.8 49.2 456.3 49.6 457.7 50 461 50.6 463.6 51.2 467 51.4 469.3 51.6 470.2 52.4 480.3 52.6 480.7 52.8 480.1 53 480.3 53.2 480.2 53.4 478.7 53.8 477.7 54.2 473 54.4 472.3 55 467.7 55.4 462.7 56 457.4 56.2 456.8 56.8 453.3 57.2 452 57.6 449.1 58.6 436.8 58.8 436.4 59 435.2 59.4 433.8 59.6 434.2 59.8 435.7 60.2 436.8 60.4 436.9 61 436.1 61.6 436.1 62.4 435.9 63.6 436.9 64.8 437.1 65.8 437 66.8 436.7 67.6 436.7 68.2 436.5 68.6 436.7 69.2 437.2 69.8 437.5 70.8 437.3 71.6 437.4 73.4 437 73.8 437.2 74.6 437.8 75.6 437.2 76.4 437.9 76.8 438 77.6 437.7 78.6 438.1 79.4 437.7 80.4 438.5 81.8 438.3 82.2 438.1 83 437.2 83.2 438 83.6 441.2 83.8 440.9 84.2 439 84.4 438.8 84.6 438.8 85.2 439.6 85.4 439.7 86 439.3 86.2 439.4 86.6 439.6 87.4 439.9 88.2 440.5 89.8 441.3 90.6 441.3 92.2 441.8 93.6 442.9 94.4 442.8 94.8 442.9 96.2 444.2 96.4 444.3 98 443.9 98.6 444 99 444.4 100 445.7 100.6 446 101.4 446.7 102 447 102.6 447.8 103.2 449.8 104.2 452.3 105.2 454.2 105.8 456.5 106.8 465.5 108.2 456 110 451.8 110.4 451.6 110.8 451.4 111.4 451.6 113.4 453 114.2 453.2 114.6 453.4 115.8 455.3 117.6 457.2 118.6 458.7 119.2 458.9 120 459.9 120.8 460.4 121.6 461.4 122.4 461.8 123.2 463.2 123.4 463.4 123.6 463.4 125.6 462.8 126.6 461.9 127.2 461.6 127.4 461.6 128.2 462 128.4 461.9 129.2 460.9 130.2 460.5 130.4 460.3 131 459.3 132 457 132.2 456.7 132.8 456.5 133.2 456.1 134.2 454.6 134.4 453.7 134.6 455.5 135 450.3 135.2 452.1 135.6 447.7 136 453.3 136.4 449 136.6 449 136.8 451.4 137 449.5 137.4 447.9 137.6 447.4 137.8 447.9 138.2 446.2 138.4 444 138.6 445.8 138.8 443.8" fill="none" stroke="#ff00ff" stroke-width="1.15" stroke-linejoin="round" />
<path d="M14.8 472.9 16.8 477.2 18.2 470.5 18.6 469.8 19.2 469.2 19.4 469.2 20.2 469.6 21.2 469.7 22.2 468.9 23 467.7 23.2 468 24.2 470.3 24.6 470.4 25 470.2 25.4 470.9 27.2 475.8 28.6 480.3 29 481.2 29.8 482.4 31.2 482.9 31.8 484 32 484.1 32.8 483.6 33.8 482.2 34.2 481 35.2 477.2 35.4 477.2 36.2 480.2 36.4 480.3 36.8 479.7 37 479.6 37.2 479.8 37.4 479.7 38.2 477 38.4 477 39 478.3 39.2 478.1 39.4 477.3 39.8 477.9 40.2 480.2 41 491.5 41.4 495 42.4 482.9 42.6 482 43.4 479.7 43.6 479.6 44.2 481.8 44.6 482.9 45.2 485.7 45.4 485.9 46 485.7 46.6 486.3 47 485.9 47.2 486.4 47.4 484.9 48 486.3 48.2 488 48.4 488.2 48.6 488 48.8 488.5 49 488.2 49.2 487 49.4 488.3 49.6 488.7 50.2 491.1 50.6 492.5 50.8 492.6 51 493.1 51.2 494.5 51.4 494.7 51.6 495.6 51.8 495.9 52 497.8 52.4 499.3 52.6 499.7 52.8 499.8 53 500.1 53.4 501.3 53.6 501.5 53.8 501.3 54.6 497.9 54.8 497.6 56.4 482.6 56.6 482.7 57.2 488.1 57.6 490.2 57.8 489.6 58.6 473.3 59.2 466.2 59.6 468.4 59.8 468.5 60.2 469.7 60.4 469.6 61 468.4 62.4 467.5 62.6 467.5 63.2 468.2 63.6 468.4 64.8 468.6 65.8 468.4 66.8 468 67.6 468 68.4 467.7 69.2 468.3 69.8 468.5 70.8 468.3 71.6 468.4 73.4 468.1 73.8 468.2 74.6 468.9 75.6 468.2 76.4 468.9 76.8 469.1 77.6 468.8 78.6 469.1 79.4 468.7 80.4 469.6 81.6 469.5 82 469.3 83 468.2 83.2 468.9 83.6 472 83.8 471.6 84.2 469.6 84.4 469.3 84.6 469.3 85.2 469.8 85.4 469.8 86 469.3 86.2 469.3 86.6 469.4 87.4 469.4 88.2 469.8 89.8 470.1 90.6 469.8 91.6 469.7 92.4 469.8 92.6 469.9 93.2 470.7 93.6 471 94.4 471.1 94.8 471.3 96.2 472.8 96.4 472.9 98 472.9 98.4 473 99 473.6 99.8 474.7 100.6 475.4 102 477.4 104.4 485.4 105.4 481 107.2 497.3 108.4 488.3 110.4 480 110.8 480 111.6 480.7 112.6 481.3 113.6 481.6 114.2 481.5 114.6 481.7 115.8 483.2 117.6 484.6 118.6 485.8 119.2 485.9 120 486.6 120.8 486.9 121.6 487.8 122.2 487.9 123 488.5 123.4 488.6 125.6 487.7 127 486.2 127.4 486.1 128 486.4 128.4 486.4 129.2 485.5 130.2 485.1 130.8 484.2 132 481.5 132.4 481.1 133 480.8 134 479.3 134.2 477.4 134.4 478.9 134.6 476.3 134.8 476.2 135 479.3 135.2 475.9 135.4 478.4 135.6 478.6 135.8 476.4 136 476.5 136.2 478.1 136.4 474.7 136.8 472.3 137.2 475.1 137.4 473.8 137.6 470.6 137.8 470.3 138 470.6 138.2 471.5 138.4 470.6 138.6 471 138.8 471 139 470 139.4 470.4 139.6 469.8" fill="none" stroke="#008080" stroke-width="1.15" stroke-linejoin="round" />
<path d="M14.8 489.3 15.2 489.1 16.2 489 16.8 488.8 17.4 487.5 18.4 484.4 19 483.2 19.4 482.9 20 482.9 21.2 482.5 22.2 481.4 23 480 23.2 480.2 24.2 482.3 24.4 482.3 24.6 482.2 25 481.9 25.6 483.2 27 487.5 28.4 495.4 29 497.9 29.8 500.2 31.2 502 31.8 503.8 32 503.9 32.8 503.5 33.8 502 34.2 500.9 35.2 497 35.4 496.9 36.2 499.1 36.4 499 36.8 498 37 497.7 37.4 497.7 38 496.1 38.2 496 38.4 496.2 39 498.3 39.2 498.3 39.4 497.8 39.8 497.8 40 498.2 40.2 499.5 41 508.5 41.2 510 41.4 510.7 42.4 499.9 42.6 499.2 43.4 498 43.6 497.9 44.2 499.5 44.6 500.2 45.2 502.4 45.6 502.2 46 502.1 46.6 502.7 47 502.3 47.2 502.6 47.6 503.8 48 506.3 48.2 508.6 48.4 509 48.8 510.9 49 510.9 49.4 510.6 50.2 514.6 50.4 514.1 50.6 513.9 50.8 514 51 514.7 51.4 515.4 51.6 516.4 51.8 516.7 52 518.3 52.4 520.2 52.6 520.3 52.8 521 53 521.1 53.4 522.4 53.6 522.3 53.8 521.7 54 522.1 54.2 521.6 54.6 521 55 518.3 55.4 514.2 56.4 500.6 56.6 500.9 57 503.7 57.2 506.6 57.6 508.1 57.8 507.4 58.6 491.5 59.2 484.4 59.4 484.2 59.8 486.9 60 486.9 60.2 487.7 60.4 487.7 61 486.6 61.8 486.3 62.4 485.7 62.6 485.7 63.2 486.4 63.6 486.7 64.8 487 65.8 486.9 66.8 486.6 67.6 486.6 68.4 486.4 69.2 487 69.6 487.2 70.8 487.3 71.6 487.7 73.4 487.8 73.8 488.1 74.6 488.9 74.8 488.9 75.4 488.6 75.6 488.6 76.4 489.5 76.8 489.8 77.6 489.7 78.6 490.3 79.4 490.2 80.4 491.2 81.6 491.5 82 491.4 82.4 491.2 83 490.6 83.2 491.4 83.6 494.6 83.8 494.3 84.2 492.4 84.4 492.1 84.6 492.2 85.2 492.9 85.4 493 86 492.7 86.2 492.7 86.6 493 87.4 493.2 88.2 493.8 89.8 494.6 90.6 494.6 91.6 494.8 92.4 495.1 93.6 496.7 94.4 496.9 94.8 497.2 96.2 499.2 96.4 499.3 98 499.7 98.4 499.9 98.8 500.3 99.6 501.6 100.6 502.9 102 505.4 104.4 513.5 105.4 509 107.2 525.5 108.4 515.3 110.4 511 110.8 511.1 111.8 512.1 112.8 512.9 113.6 513.3 114.4 513.4 115.8 515.2 117.6 516.6 118.6 517.8 119.2 517.9 119.4 518 120 518.8 120.8 519.1 121.6 520.1 122.2 520.2 123 520.9 123.4 520.9 125.6 519.7 127 518.1 127.4 518 128 518.4 128.4 518.4 129.2 517.4 130.2 517 130.8 516.5 131.8 514.7 132.2 514.2 133 514.3 134 513.3 134.2 513.8 134.6 511.7 134.8 512 135 511.9 135.2 512.1 135.6 511 135.8 511.1 136.2 509.9 136.6 511.3 136.8 509 137 509.9 137.4 508.2 137.6 509.2 137.8 507.8 138 509.2 138.2 507.1 138.4 507.9 138.8 506.7 139 507.6 139.2 506.9 139.4 507.3 139.6 506.6" fill="none" stroke="#0000ff" stroke-width="1.15" stroke-linejoin="round" />
<path d="M14.8 513.9 15.2 514.1 16.8 515.4 18.2 508.8 18.8 507.5 19.2 506.9 19.4 506.8 20 506.9 20.6 506.6 21.2 506.7 22.2 505.8 23 504.6 23.2 504.9 24.2 507.2 24.6 507.3 25 507.1 25.4 507.8 27 512.2 28.4 518.5 28.8 519.9 29.8 522.1 31.2 523.5 31.8 525 32 525.1 33 523.7 34.2 521.1 35 518.9 35.2 518.6 35.4 518.7 35.6 519.2 36.2 520.9 36.4 520.8 36.8 519.8 37 519.6 37.4 519.6 37.6 519.4 38 518.5 38.2 518.4 38.4 518.8 39 521.2 39.2 521.4 39.4 521 39.8 520.9 40 521.3 40.2 522.5 41 532 41.4 534.6 42.4 522.9 42.6 522.3 43.4 521.2 43.6 521.3 44.6 524.9 45.2 528 45.4 528.2 46 527.3 46.6 526.9 47.2 525.2 47.4 525.6 48 528.9 48.2 530.6 48.4 531 48.6 532.7 49 532.3 49.4 534.1 49.6 534 50.4 537.8 50.6 537.8 50.8 538.2 51 539 51.2 539.1 51.4 540.2 51.6 540.3 52 541.5 52.2 543.7 52.4 543.8 52.6 544.6 52.8 544.5 53.2 544.9 53.4 546 53.8 544.5 54.2 544.1 54.4 544.5 54.6 543.9 55.4 538.5 55.6 535.1 55.8 534.2 56.4 528.1 56.6 528.2 56.8 529.3 57.2 533.6 57.4 534.2 57.8 533.4 58.6 515.6 59.2 508.9 59.4 509.3 59.8 511.5 60 511.5 60.2 511.9 60.4 511.7 61 510.4 61.8 509.6 62 509.6 63.2 510.8 63.8 511.1 65.2 511.2 66.6 510.8 67.6 510.7 68.4 510.5 69.2 511.1 69.8 511.3 70.8 511.3 71.6 511.5 73.4 511.4 73.8 511.6 74.6 512.4 74.8 512.4 75.4 512 75.6 512 76.4 512.8 76.8 513 77.6 512.9 78.6 513.4 79.4 513.1 80.4 514.1 81.6 514.2 82 514.1 83 513.1 83.2 513.9 83.6 517.1 83.8 516.8 84.2 514.8 84.4 514.6 84.6 514.6 85.2 515.3 85.4 515.3 86 515 86.2 515 86.6 515.2 87.4 515.3 88.2 515.8 89.8 516.5 90.6 516.4 91.6 516.5 92.4 516.8 93.6 518.1 94.4 518.3 94.8 518.5 96.2 520.3 96.4 520.4 98 520.5 98.4 520.7 99 521.3 99.8 522.6 100.6 523.3 102 525.4 103.8 530.3 104.4 532.3 105.4 529 106.2 535.2 107.2 541.4 108.4 535.3 110.4 531.6 110.8 531.7 111.8 532.5 112.8 533 113.6 533.3 114.4 533.2 114.8 533.6 115.8 534.8 117.6 535.8 118.4 536.8 118.6 536.9 119.2 536.9 120 537.7 120.8 538 121.6 538.9 122.2 539.1 123 539.7 123.4 539.8 125.6 538.7 126.6 537.6 127 537.3 127.4 537.3 128 537.7 128.4 537.8 129.2 537 130.2 536.7 130.8 536.2 132 534.2 132.2 534.1 132.8 534.2 133.2 534.1 134 533.3 134.2 532.3 134.4 532.7 134.6 532.1 134.8 531.8 135 532.3 135.2 531.3 135.4 532.7 135.6 531.8 135.8 531.9 136.4 530.3 136.6 530.8 136.8 530.2 137 530.6 137.2 529.9 137.4 528.3 137.6 529.2 137.8 527.6 138 528 138.2 528.1 138.4 526.3 138.6 528.1 138.8 528 139.2 527.2 139.4 527.1 139.6 526.3" fill="none" stroke="#ff0000" stroke-width="1.15" stroke-linejoin="round" />
<path d="M14.4 532.7 14.8 532.5 15.2 532.4 16.6 533.1 17.2 533.5 17.4 533.6 17.8 533.6 18.8 527.3 19.4 524.4 20.2 524.7 20.8 524.5 22.2 523.6 22.8 522.7 23 522.6 23.2 522.7 24 524 24.2 524.2 24.4 524.1 25.2 524.8 25.6 525.4 27.2 537.9 28.2 543.6 28.6 544.8 29 545.2 29.6 545.5 30.6 546.1 31.4 546.4 31.8 546.7 32 546.6 32.8 545.7 33.2 544.9 34.4 537.4 34.8 536.8 35 536.6 35.2 536.7 35.4 536.9 36.2 539.2 36.4 539.2 36.8 538.4 37.4 538.8 38 537.3 38.2 537.1 38.4 537.2 39 538.2 39.2 538 39.4 537.1 39.8 537.2 40 537.7 40.2 539 41 549.8 41.2 550.9 41.6 548.5 42.4 541.4 42.6 540.8 43.2 539.9 43.4 540 43.6 540.7 44.4 545.5 44.6 545.8 45.2 548.2 45.4 548.2 46.6 541 47.2 536.4 47.4 537 47.8 540.2 48.2 545 48.4 546.3 48.8 547.1 49 546.1 49.2 546.8 49.4 546.9 49.8 548.1 50 548.3 50.4 549.4 50.8 549.6 51 549.3 51.2 550.6 51.6 551.9 51.8 552.2 52 552.1 52.2 553.6 52.4 553.8 52.6 553.3 52.8 554.5 53 554 53.6 555.6 53.8 554.9 54 555.1 54.2 555.7 54.4 556 54.8 553.5 56.2 542.5 57.2 551.2 58.4 533.8 58.8 531.5 59 531.5 59.2 531.2 59.6 531.3 60 533.6 60.2 533.6 60.4 533.5 61 532.3 61.6 531.9 62.6 531 62.8 531 63.2 531.4 63.6 531.7 65 531.9 66.6 531.4 67.6 531.3 68.4 531 69.2 531.6 69.6 531.7 70.8 531.9 71.6 532.2 73.4 532.5 73.8 532.7 74.6 533.7 74.8 533.7 75.4 533.3 75.6 533.4 76.4 534.3 76.8 534.6 77.6 534.6 78.6 535.2 79.4 535.1 80.4 536.2 81.6 536.5 82 536.5 82.4 536.3 83 535.6 83.2 536.4 83.6 539.6 83.8 539.3 84.2 537.3 84.4 537.1 84.6 537.1 85.2 537.8 85.4 537.9 86 537.5 86.2 537.5 86.6 537.7 87.4 537.9 88.2 538.4 89.8 539 90.6 538.9 91.6 539.1 92.4 539.4 93.6 540.7 94.4 540.9 94.8 541.1 96.2 542.9 96.4 543 98 543.1 98.6 543.5 99.8 545.2 100.6 545.8 101.4 546.9 102 547.5 104.4 553.9 105.4 550.5 106.2 554.2 107.2 557.4 108.4 553.3 110.4 550.4 110.8 550.5 111.8 551.3 112.8 551.8 113.6 552.1 114.4 552 115.8 553.5 117.6 554.4 118.4 555.3 118.6 555.4 119.2 555.4 119.4 555.4 120 556 120.8 556.2 121.6 556.9 122.4 557 123 557.5 123.4 557.7 125.6 557 126.6 556 127 555.7 127.4 555.7 128 556.2 128.4 556.4 129.2 555.6 130.2 555.5 130.8 555.2 132 553.6 132.4 553.6 133 553.9 134 553.3 134.2 553.3 134.4 552.4 134.8 553.2 135 550.7 135.2 552.4 135.4 552.8 135.6 552.7 135.8 553.2 136.2 551.9 136.4 551.8 136.6 552 136.8 550.9 137 550.9 137.4 551.5 137.6 549.7 138 549.4 138.2 550 138.4 548.8 138.6 549.7 138.8 547.9 139 548.3 139.2 548.1 139.4 548.7 139.6 548.7" fill="none" stroke="#000000" stroke-width="1.15" stroke-linejoin="round" />
<line x1="31.4" y1="389" x2="31.4" y2="561.3" stroke="#109010" stroke-width="1.1" stroke-dasharray="2.8 2.3"/>
<line x1="53.4" y1="391.9" x2="53.4" y2="561.3" stroke="#109010" stroke-width="1.1" stroke-dasharray="2.8 2.3"/>
<line x1="107" y1="392.3" x2="107" y2="561.3" stroke="#109010" stroke-width="1.1" stroke-dasharray="2.8 2.3"/>
<line x1="122.4" y1="391.3" x2="122.4" y2="561.3" stroke="#109010" stroke-width="1.1" stroke-dasharray="2.8 2.3"/>
<line x1="14.2" y1="371.8" x2="14.2" y2="561.8" stroke="#444" stroke-width="1" />
<line x1="13.7" y1="561.3" x2="139.8" y2="561.3" stroke="#444" stroke-width="1" />
<line x1="14.2" y1="561.3" x2="12.6" y2="561.3" stroke="#444" stroke-width="0.8" />
<line x1="14.2" y1="551.33" x2="12.6" y2="551.33" stroke="#444" stroke-width="0.8" />
<line x1="14.2" y1="541.35" x2="12.6" y2="541.35" stroke="#444" stroke-width="0.8" />
<line x1="14.2" y1="531.38" x2="12.6" y2="531.38" stroke="#444" stroke-width="0.8" />
<line x1="14.2" y1="521.41" x2="12.6" y2="521.41" stroke="#444" stroke-width="0.8" />
<line x1="14.2" y1="511.43" x2="12.6" y2="511.43" stroke="#444" stroke-width="0.8" />
<line x1="14.2" y1="501.46" x2="12.6" y2="501.46" stroke="#444" stroke-width="0.8" />
<line x1="14.2" y1="491.48" x2="12.6" y2="491.48" stroke="#444" stroke-width="0.8" />
<line x1="14.2" y1="481.51" x2="12.6" y2="481.51" stroke="#444" stroke-width="0.8" />
<line x1="14.2" y1="471.54" x2="12.6" y2="471.54" stroke="#444" stroke-width="0.8" />
<line x1="14.2" y1="461.56" x2="12.6" y2="461.56" stroke="#444" stroke-width="0.8" />
<line x1="14.2" y1="451.59" x2="12.6" y2="451.59" stroke="#444" stroke-width="0.8" />
<line x1="14.2" y1="441.62" x2="12.6" y2="441.62" stroke="#444" stroke-width="0.8" />
<line x1="14.2" y1="431.64" x2="12.6" y2="431.64" stroke="#444" stroke-width="0.8" />
<line x1="14.2" y1="421.67" x2="12.6" y2="421.67" stroke="#444" stroke-width="0.8" />
<line x1="14.2" y1="411.69" x2="12.6" y2="411.69" stroke="#444" stroke-width="0.8" />
<line x1="14.2" y1="401.72" x2="12.6" y2="401.72" stroke="#444" stroke-width="0.8" />
<line x1="14.2" y1="391.75" x2="12.6" y2="391.75" stroke="#444" stroke-width="0.8" />
<line x1="14.2" y1="381.77" x2="12.6" y2="381.77" stroke="#444" stroke-width="0.8" />
<line x1="14.2" y1="371.8" x2="12.6" y2="371.8" stroke="#444" stroke-width="0.8" />
<line x1="16.6" y1="561.3" x2="16.6" y2="562.8" stroke="#444" stroke-width="0.8" />
<line x1="27" y1="561.3" x2="27" y2="562.8" stroke="#444" stroke-width="0.8" />
<line x1="37.4" y1="561.3" x2="37.4" y2="562.8" stroke="#444" stroke-width="0.8" />
<line x1="47.8" y1="561.3" x2="47.8" y2="562.8" stroke="#444" stroke-width="0.8" />
<line x1="58.2" y1="561.3" x2="58.2" y2="562.8" stroke="#444" stroke-width="0.8" />
<line x1="68.6" y1="561.3" x2="68.6" y2="562.8" stroke="#444" stroke-width="0.8" />
<line x1="79" y1="561.3" x2="79" y2="562.8" stroke="#444" stroke-width="0.8" />
<line x1="89.4" y1="561.3" x2="89.4" y2="562.8" stroke="#444" stroke-width="0.8" />
<line x1="99.8" y1="561.3" x2="99.8" y2="562.8" stroke="#444" stroke-width="0.8" />
<line x1="110.2" y1="561.3" x2="110.2" y2="562.8" stroke="#444" stroke-width="0.8" />
<line x1="120.6" y1="561.3" x2="120.6" y2="562.8" stroke="#444" stroke-width="0.8" />
<line x1="131" y1="561.3" x2="131" y2="562.8" stroke="#444" stroke-width="0.8" />
<text x="27" y="571.1" font-size="7.5" text-anchor="middle" fill="#000" stroke="#000" stroke-width="0.22" >1000</text>
<text x="47.8" y="571.1" font-size="7.5" text-anchor="middle" fill="#000" stroke="#000" stroke-width="0.22" >1500</text>
<text x="68.6" y="571.1" font-size="7.5" text-anchor="middle" fill="#000" stroke="#000" stroke-width="0.22" >2000</text>
<text x="89.4" y="571.1" font-size="7.5" text-anchor="middle" fill="#000" stroke="#000" stroke-width="0.22" >2500</text>
<text x="110.2" y="571.1" font-size="7.5" text-anchor="middle" fill="#000" stroke="#000" stroke-width="0.22" >3000</text>
<text x="131" y="571.1" font-size="7.5" text-anchor="middle" fill="#000" stroke="#000" stroke-width="0.22" >3500</text>
<text x="77" y="580.6" font-size="7.6" text-anchor="middle" fill="#000">Wavenumber (nm<tspan dy="-2.6" font-size="5">-1</tspan><tspan dy="2.6">)</tspan></text>
<text x="7.9" y="467.8" font-size="7.7" text-anchor="middle" fill="#000" stroke="#000" stroke-width="0.22" transform="rotate(-90 7.9 467.8)" >Transmittance (%)</text>
<text x="6.5" y="377.2" font-size="7.2" text-anchor="start" fill="#111" stroke="#111" stroke-width="0.22" >I</text>
<text x="139.2" y="408.7" font-size="5.6" text-anchor="start" fill="#000" stroke="#000" stroke-width="0.22" >PS20</text>
<text x="139.2" y="425.3" font-size="5.6" text-anchor="start" fill="#000" stroke="#000" stroke-width="0.22" >DTAB</text>
<text x="139.2" y="455.3" font-size="5.6" text-anchor="start" fill="#000" stroke="#000" stroke-width="0.22" >SDS</text>
<text x="139.2" y="485.5" font-size="5.6" text-anchor="start" fill="#000" stroke="#000" stroke-width="0.22" >80 °C</text>
<text x="139.2" y="517.4" font-size="5.6" text-anchor="start" fill="#000" stroke="#000" stroke-width="0.22" >60 °C</text>
<text x="139.2" y="534.3" font-size="5.6" text-anchor="start" fill="#000" stroke="#000" stroke-width="0.22" >40 °C</text>
<text x="139.2" y="554.4" font-size="5.6" text-anchor="start" fill="#000" stroke="#000" stroke-width="0.22" >20 °C</text>
<clipPath id="clipJ1"><rect x="186.6" y="376.6" width="143" height="93"/></clipPath>
<clipPath id="clipJ2"><rect x="186.6" y="469.6" width="143" height="93.4"/></clipPath>
<g clip-path="url(#clipJ1)">
<path d="M186.5 378.8 187.2 379.6 187.9 380.7 189.4 382.1 190.1 383.7 192.3 386.9 193 388.5 193.7 389.8 194.4 391.8 195.1 393.2 196.6 397.1 198 400.5 199.5 402.8 201.6 406.8 202.3 407.5 203.1 408.6 204.5 411.2 205.2 412.1 205.9 412.6 207.4 414.8 208.8 415.9 209.5 416.9 210.3 417.6 211.7 418.3 212.4 419 213.1 419.9 213.9 420 214.6 420.4 216 420.6 216.7 420.3 217.5 420.3 218.2 419.8 218.9 419.7 219.6 419.3 220.3 419.5 221.8 418.3 223.9 417 224.7 415.9 226.1 414.9 226.8 415 228.3 413.3 229.7 412.5 230.4 411.3 231.1 410.7 231.9 410.4 232.6 409.6 233.3 409.1 234 408.3 234.7 408.4 236.2 407.2 236.9 406.9 237.6 405.9 238.3 406.1 239.1 405.6 240.5 405.1 241.9 404 242.7 404.2 243.4 403.7 245.5 403.4 246.3 402.9 247 403.6 247.7 403.3 249.1 403.6 250.6 402.6 251.3 402.8 252 402.7 253.5 402.8 254.2 402.3 254.9 402.7 255.6 402.1 256.3 402.3 258.5 400.9 260 399.7 260.7 398.9 262.1 398.6 264.3 397 265 396.4 265.7 396.6 266.4 395.9 267.9 395.3 268.6 395.1 269.3 394.8 270 394.6 270.8 394.1 271.5 394 272.2 394.3 272.9 393.5 273.6 393.2 275.1 392.8 275.8 392.1 277.2 391.9 278.7 391 279.4 391 280.1 390.2 280.8 390 281.6 389.5 282.3 389.6 283 388.6 283.7 388.6 284.4 388.3 285.2 388.3 285.9 388.1 286.6 388 287.3 387.2 288 387.5 289.5 386.8 290.2 386.9 291.6 386 292.4 386.2 293.1 385.8 294.5 385.9 295.2 385.7 296 385.9 297.4 384.9 298.1 385 299.6 384.7 300.3 385 301.7 384.3 302.4 384.8 303.2 384.6 305.3 384.6 306 384.4 306.8 384.6 307.5 384.4 308.9 384.3 309.6 383.8 310.4 384 311.8 384 312.5 383.7 313.2 384.3 314.7 383.6 315.4 383.5 316.1 383.8 316.8 383.8 317.6 383.6 318.3 383.8 319 383.7 319.7 383.9 320.4 383.6 321.9 384 322.6 384.4 323.3 383.6 324 383.7 324.8 383.6 325.5 384 326.2 383.5 327.6 383.8 328.4 383.6 329.8 383.7" fill="none" stroke="#000000" stroke-width="1.15" stroke-linejoin="round" />
<path d="M186.5 411.5 188.7 414.8 190.1 416.6 191.5 419.6 193.7 423.5 194.4 425.4 195.9 428.6 197.3 432.7 198 434.1 198.7 436 199.5 437.3 200.2 439.4 200.9 440.8 201.6 442.6 202.3 444.9 205.2 449.9 205.9 451.1 207.4 452.2 208.1 453.3 210.3 455.7 211 455.9 211.7 456.3 212.4 456 213.1 456.2 213.9 456.1 216 454 216.7 453.9 217.5 452.8 218.9 452.2 219.6 451.8 220.3 450.9 221.1 450.4 222.5 448.7 223.9 446.6 225.4 445.3 226.1 444 227.5 442.8 228.3 441.7 229 441.2 229.7 440.2 230.4 439.9 231.1 439.4 231.9 438.7 232.6 437.5 233.3 437 234.7 435.5 235.5 435.1 236.2 433.9 236.9 433.7 237.6 432.8 238.3 432.5 239.8 430.8 241.2 429.9 241.9 429.1 242.7 428.7 244.1 427.1 244.8 427.4 246.3 426.5 247 426.2 247.7 426.2 248.4 425.6 249.1 425.3 249.9 425.2 250.6 425.3 251.3 424.5 252 424.8 252.7 424.2 253.5 423.8 254.2 424 255.6 422.6 257.1 422 257.8 421.3 258.5 420.2 260 418.9 260.7 417.7 261.4 417.1 262.8 415.3 265 413.4 265.7 412.6 266.4 412 267.2 411.7 267.9 410.8 269.3 409.8 270 409.1 270.8 408.9 271.5 407.6 272.2 407.5 272.9 406.8 273.6 406.9 274.4 406.5 275.1 405.4 275.8 405.2 276.5 405.3 278 404.7 278.7 404.2 280.1 403.9 280.8 403.5 281.6 403.5 282.3 402.5 283 402.9 283.7 402.4 284.4 402.6 285.9 401.8 286.6 401.9 287.3 401.4 288.8 400.9 289.5 401.1 290.9 401 291.6 400.6 292.4 400.7 293.1 400.4 293.8 400.2 295.2 400.2 296 399.8 298.1 399.5 298.8 399.1 299.6 399.4 300.3 399 301 399.1 301.7 398.7 302.4 398.8 303.2 398.7 303.9 398.3 304.6 398.7 305.3 398.2 306 398.4 306.8 398 307.5 397.6 308.9 397.6 311.1 397.2 311.8 396.9 312.5 397.3 313.2 396.8 314 397.4 314.7 397.1 315.4 397.1 316.8 397.4 317.6 397 318.3 396.9 319 397.1 319.7 396.9 320.4 397.2 321.2 397.7 321.9 397.2 322.6 397.6 323.3 397.2 324 397.6 324.8 397.5 325.5 397.6 326.9 398 327.6 397.8 328.4 397.8 329.1 397.6 329.8 398" fill="none" stroke="#ff0000" stroke-width="1.15" stroke-linejoin="round" />
<path d="M186.5 391.2 187.2 393.3 188.7 395.5 189.4 394.5 190.1 394.2 190.8 393.8 191.5 393.1 192.3 393.4 193.7 396.4 195.1 402.4 198.7 415.8 199.5 417.8 201.6 425.1 203.1 429.2 204.5 434.7 205.9 439.6 206.7 440.1 207.4 440.1 208.1 439.8 208.8 439 209.5 437.7 210.3 437.7 211 437.4 211.7 436.8 212.4 436.5 213.1 436.5 213.9 436 214.6 436.5 215.3 435.5 216.7 435.8 218.2 435.7 218.9 435.6 220.3 435 221.1 433.5 221.8 433 222.5 431.7 223.9 429.7 224.7 428.5 225.4 427.6 226.1 427 227.5 424.7 228.3 424.4 229 423.5 229.7 421.8 231.1 420.9 231.9 419.8 234 417.4 235.5 416.1 236.2 415.8 236.9 415 238.3 413.7 239.1 413.4 239.8 412.8 240.5 412.5 241.2 412.3 241.9 411.8 244.1 410.8 245.5 410.2 246.3 410.2 247 409.5 247.7 409.8 249.1 408.8 250.6 408.2 251.3 408 252 407.3 252.7 407.3 254.2 405.5 254.9 405.3 255.6 404.5 256.3 404.4 257.1 404.1 257.8 403.4 258.5 402.4 259.2 401.9 260 401.9 260.7 401 261.4 400.4 262.8 399.8 264.3 398.4 265.7 397.6 266.4 396.9 267.2 396.4 267.9 396.2 268.6 395.6 269.3 395.4 270 395.1 270.8 395.2 271.5 394.1 274.4 393.2 275.1 392.5 276.5 391.6 277.2 391.4 278 391.4 279.4 390.4 281.6 389.8 282.3 389.3 283 389.1 283.7 388.5 284.4 388.4 285.2 388.8 285.9 387.7 286.6 387.9 287.3 387.9 288.8 387.3 289.5 387.3 290.9 387 291.6 386.4 292.4 386.7 293.1 386.4 296 386.3 296.7 385.9 297.4 386.1 299.6 385.9 300.3 385.4 301 385.4 301.7 385.5 302.4 385 303.2 385.2 303.9 385 304.6 385 305.3 384.6 307.5 385 308.2 385 308.9 384.7 310.4 384.5 311.1 384.7 311.8 384.5 313.2 384.9 314.7 384.1 315.4 384.2 316.1 384 316.8 384 317.6 384.5 319 383.9 319.7 384.3 320.4 384.4 321.2 384 321.9 383.9 324.8 384.2 326.9 384.2 327.6 384 328.4 383.5 329.1 383.8 329.8 383.9" fill="none" stroke="#0000ff" stroke-width="1.15" stroke-linejoin="round" />
<path d="M186.5 389.3 187.9 388.4 188.7 388.4 190.1 391.1 192.3 397.3 193 398.8 193.7 399.8 194.4 401.7 197.3 408 198.7 409.7 199.5 411.4 200.2 411.8 200.9 412.5 201.6 413.6 202.3 414.4 203.1 414.9 203.8 416 204.5 416.3 205.2 416.9 206.7 418.6 207.4 419 208.1 419.9 208.8 420.4 209.5 421.6 210.3 421.2 211 422 211.7 421.9 213.1 422.1 214.6 421.8 216 420.7 216.7 420.5 217.5 420.5 218.2 420.3 218.9 420.2 219.6 419.7 220.3 419.4 221.1 419 222.5 416.9 223.9 415.2 224.7 415.1 225.4 413.7 226.1 413.4 226.8 412.6 227.5 412.2 229 410.5 231.1 408.6 231.9 407.8 232.6 407.4 233.3 407.2 234 406 234.7 406 235.5 405.4 236.9 405.1 237.6 404.7 238.3 404.6 239.1 403.8 239.8 404.2 240.5 403.6 241.2 403.7 241.9 403.4 242.7 402.6 243.4 402.8 244.8 403 245.5 402.6 246.3 402.5 247 402 247.7 402.5 248.4 402.5 249.1 402 249.9 401.9 250.6 401.5 252 402.2 252.7 401.7 253.5 401.7 254.2 401.4 254.9 400.9 255.6 401.2 256.3 400.4 257.1 400.3 258.5 399.8 260 398.8 261.4 397.6 262.1 397.5 263.6 396.4 264.3 396.1 265 396 265.7 395.4 266.4 395.2 267.2 394.8 267.9 395 268.6 394.8 269.3 394.8 270 393.8 270.8 393.7 271.5 393.8 272.2 393.3 272.9 393 273.6 393.2 274.4 392.5 275.1 392.1 275.8 391.8 276.5 391.9 277.2 391.6 278 390.9 278.7 390.7 279.4 390.8 280.1 390.5 280.8 390 281.6 390 282.3 389.8 283 389 283.7 389.1 284.4 389.1 285.9 388.2 286.6 388.5 288 388.7 288.8 387.8 289.5 388.8 290.2 387.9 290.9 388.3 292.4 388.1 293.8 387.5 294.5 387.9 296 387.1 296.7 388.2 297.4 387.7 298.1 387.9 298.8 387.2 299.6 387.7 301 387.6 302.4 386.9 303.2 387.1 303.9 386.6 304.6 386.6 305.3 387 306 386.6 306.8 386.8 307.5 386.7 308.2 387.1 308.9 386.9 309.6 386.5 310.4 386.8 311.1 386.3 311.8 386.3 312.5 386.5 313.2 386 314 386.2 314.7 385.9 316.1 386.5 316.8 386 317.6 386.2 318.3 385.9 319.7 385.8 320.4 386.4 321.2 386.7 321.9 386.3 322.6 386.1 323.3 386.5 324 386.3 324.8 386.6 325.5 386.6 326.9 386.9 327.6 386.7 328.4 386.9 329.1 386.7 329.8 387.1" fill="none" stroke="#ff8000" stroke-width="1.15" stroke-linejoin="round" />
</g><g clip-path="url(#clipJ2)">
<path d="M186.7 472.6 187.4 473.3 188.1 473.7 189.6 475.5 190.3 475.9 191.7 477.9 193.2 480.8 194.6 483.3 195.3 485.3 196 486.3 196.8 488.5 198.2 490.5 198.9 493.2 199.6 494.6 200.3 495.6 201.1 497.4 202.5 500.4 203.2 501.5 204.7 504.4 206.1 506.6 206.8 507.3 207.5 508.7 208.2 508.9 209 509.9 209.7 510.2 210.4 511 211.1 512 211.8 511.9 212.6 512.4 214 512.4 214.7 512.7 216.1 512.9 216.9 513.2 217.6 513.3 218.3 513.1 219 513 219.7 513.2 220.5 512.9 221.9 512.6 223.3 510.7 224.8 509.1 226.2 507.7 227.6 506.7 228.3 506.5 229.1 505.6 229.8 505.1 230.5 504.3 231.2 504.4 231.9 503.6 232.7 503.3 233.4 502.6 234.1 502.2 234.8 501.4 235.5 501.2 236.2 501.3 237 500.2 237.7 500.4 238.4 500.3 239.1 499.7 240.6 499.4 241.3 498.7 242 498.7 242.7 498.2 244.1 497.9 246.3 497.8 247 497.3 247.7 498 249.9 497.5 251.3 497.8 252 497.8 252.8 497.4 254.2 498.5 254.9 497.5 255.6 498.1 257.1 497.5 257.8 497.6 258.5 496.7 259.9 496.7 260.7 495.8 262.1 494.8 262.8 494 263.5 493.8 264.3 492.7 265 492.5 265.7 491.4 266.4 491.4 267.1 490.8 267.8 489.8 268.6 489.9 269.3 489.3 270 489.1 270.7 489.1 271.4 488.1 272.2 487.8 272.9 488 273.6 487.3 274.3 487.3 275.7 486 277.2 485.8 278.6 484.8 280.8 483.7 281.5 484 282.2 483.3 282.9 482.7 284.4 482.7 285.1 482.4 286.5 481.7 287.2 481.7 288 481.1 288.7 481 289.4 481.3 290.1 480.9 291.5 480.9 293 480.3 293.7 480.6 295.1 479.8 295.8 479.9 296.6 479.6 297.3 479.2 298 479.3 298.7 479.1 299.4 478.6 300.2 478.9 301.6 478.6 302.3 478.3 303 478.5 304.5 478.6 305.2 478.2 305.9 478.6 306.6 478.2 308.1 478.7 308.8 478.2 309.5 478.2 310.2 478.5 310.9 478.1 311.6 478.1 313.1 478.3 313.8 477.4 314.5 477.7 317.4 477.3 318.1 477.4 318.8 477.1 319.5 477.3 320.3 477.3 321 477 322.4 477.6 323.9 477.1 324.6 477.2 325.3 477 326.7 477.4 327.4 477 328.2 477.2 328.9 477.5 329.6 477.1" fill="none" stroke="#000000" stroke-width="1.15" stroke-linejoin="round" />
<path d="M186.7 474.9 187.4 474.9 188.1 475.6 188.9 476.6 189.6 478.3 190.3 479.5 192.4 487.3 193.2 489 193.9 490.1 194.6 491.6 195.3 492.2 196 493.5 196.8 494.3 198.2 496.6 200.3 502.5 201.1 504 201.8 506.4 202.5 507.7 203.2 508.9 205.4 512 206.1 512.5 207.5 514.2 208.2 514.6 209 514.7 209.7 514.6 211.8 514 212.6 513.1 213.3 513.2 214.7 512.2 215.4 512.4 216.1 511.9 216.9 511.8 218.3 512.1 220.5 512.2 221.2 511.2 221.9 511 222.6 509.5 224 507.1 225.5 504.2 226.2 503.2 228.3 501.2 229.1 500.2 230.5 499 231.2 498.7 231.9 497.6 232.7 497.8 233.4 497 234.1 496.5 235.5 496.2 236.2 495.7 237 495.7 237.7 495.3 238.4 495.4 239.1 495.3 239.8 494.9 240.6 495.1 241.3 494.7 242 494.6 242.7 494.3 244.1 494.5 244.9 493.9 245.6 494.3 247 494 247.7 493.3 248.5 493.6 249.2 493.6 249.9 493.1 250.6 493 251.3 492.2 252 492.5 252.8 491.9 253.5 492 254.2 491.1 254.9 491.5 255.6 491.1 256.4 491.2 257.1 490.6 257.8 490.5 258.5 491 259.2 490.1 260.7 489.6 261.4 489.1 262.1 489.2 262.8 488.9 263.5 488 264.3 487.3 265 487.6 266.4 486.7 267.1 486.4 267.8 485.6 268.6 485.4 269.3 484.8 270 484.4 270.7 484.6 271.4 483.9 272.2 484.2 272.9 483.3 273.6 482.9 275 482.7 276.5 481.4 277.9 481.4 278.6 480.7 279.3 480.3 280.1 480.4 281.5 479.4 282.2 479.3 282.9 479 283.6 479 284.4 478.8 285.1 478.8 285.8 478.5 286.5 477.8 287.2 478 288 477.9 288.7 477.7 289.4 477.6 290.1 477.1 290.8 476.9 291.5 477.2 292.3 476.6 293 476.3 293.7 476.9 294.4 476.4 295.1 476.4 295.8 476.1 297.3 476 298.7 476.3 299.4 475.6 300.2 476.2 300.9 475.7 301.6 475.7 302.3 476 303 475.8 303.7 475.4 304.5 476.1 305.2 475.4 305.9 475.6 306.6 475.5 307.3 475.7 308.1 475.2 308.8 475.5 309.5 475.1 310.2 475.9 311.6 476.2 312.4 476.7 313.1 476.3 313.8 476.2 314.5 476.6 316 475.7 316.7 476 317.4 475.4 318.1 475.8 318.8 475.8 319.5 475.3 320.3 475.2 321 475.3 321.7 475.2 322.4 475 323.1 475.3 323.9 474.6 324.6 474.9 326 474.9 326.7 475 327.4 474.6 328.2 475 329.6 474.7" fill="none" stroke="#ff0000" stroke-width="1.15" stroke-linejoin="round" />
<path d="M186.7 521.8 187.4 522.8 188.1 524.1 188.9 524.7 190.3 527 191.7 528.9 192.4 529.4 193.2 530.1 193.9 531.5 194.6 532.2 195.3 533.4 196 534.1 196.8 535.4 198.2 537.2 199.6 538.7 201.8 540.2 202.5 540.1 203.2 540.9 203.9 540.7 204.7 541.2 205.4 541.1 206.1 541.3 206.8 541.9 207.5 541.5 208.2 541.4 209.7 541.6 210.4 542 211.1 541.3 211.8 541.1 212.6 540.2 213.3 540 214.7 539.1 215.4 537.9 216.1 537.5 217.6 535.8 218.3 535.4 219 534.8 219.7 533.8 220.5 533.9 221.2 533.3 222.6 531.7 223.3 531.8 224 530.9 225.5 530 226.2 529 226.9 528.7 227.6 527.9 229.8 526.5 230.5 526.2 231.9 525 232.7 524.6 233.4 524.3 234.1 523.6 235.5 522.9 237.7 521.6 238.4 521.8 240.6 520.1 241.3 520.2 242 519.4 242.7 518.9 244.1 518.3 244.9 518.2 245.6 517.5 246.3 517.6 247 516.7 247.7 516.7 248.5 516 249.2 516.4 249.9 515.7 252 515.4 252.8 514.6 253.5 514.6 254.2 514.1 254.9 514.3 258.5 512.9 259.9 512.9 260.7 511.9 261.4 512 262.1 511.7 262.8 511.7 263.5 511.1 264.3 511 265 510.6 265.7 510.7 267.1 509.9 267.8 509.8 269.3 508.8 270 509 271.4 508.2 272.2 508.2 272.9 507.9 273.6 507.1 274.3 506.9 275 507.1 275.7 506.8 276.5 506 277.2 505.6 278.6 505.1 279.3 504.6 280.1 504.7 280.8 504.1 281.5 503.8 282.2 504 282.9 503.4 285.1 503.1 285.8 502.6 286.5 502.5 287.2 502.1 288 502.5 289.4 501.5 290.8 501.6 291.5 501.4 292.3 501.6 293 501.3 293.7 500.8 294.4 500.8 295.1 500.4 295.8 500.6 296.6 500.5 297.3 500.9 298.7 499.7 300.2 500 300.9 499.6 303 499.8 304.5 499.4 305.2 499.7 305.9 499.4 306.6 499.4 307.3 499.1 308.1 499.2 308.8 499.5 309.5 498.9 310.2 499.2 310.9 499.4 311.6 499.1 312.4 499.2 313.1 498.9 313.8 499.4 314.5 499.3 315.2 499.1 316 498.6 316.7 498.8 317.4 499.2 318.1 499.3 318.8 499 319.5 499.1 320.3 498.7 322.4 498.8 323.1 498.3 323.9 498.8 324.6 498.8 325.3 498.2 326 498.1 326.7 498.4 327.4 498.2 328.2 497.7 328.9 498.3 329.6 498.1" fill="none" stroke="#0000ff" stroke-width="1.15" stroke-linejoin="round" />
<path d="M186.7 519 187.4 521.2 188.9 523.8 189.6 525.6 190.3 527 191.7 530.6 193.2 533.7 193.9 535.8 194.6 537.4 197.5 544.7 198.2 546 198.9 547.9 199.6 548.6 203.2 554.8 203.9 555.2 204.7 556 205.4 556.4 206.8 556.9 207.5 557.4 208.2 557.3 209 557.9 209.7 558.1 211.8 558.1 212.6 558.8 213.3 558 214 558.4 216.1 556.9 216.9 556.9 217.6 556.6 218.3 555.1 219.7 553.1 220.5 551.7 221.2 550.9 221.9 549.3 222.6 548.5 223.3 547 224 546.7 225.5 543.7 226.2 543.2 226.9 542.2 227.6 541.8 228.3 540.4 229.1 539.7 230.5 538.7 231.2 537.7 231.9 537.3 233.4 535.8 234.8 534.7 235.5 534 236.2 534 237 532.9 237.7 532.9 238.4 532.4 239.8 531 241.3 530.2 242.7 529.1 243.4 528.8 244.1 528 244.9 527.7 245.6 526.9 246.3 527 247.7 526.1 248.5 526.3 249.2 526 249.9 525.2 250.6 525.7 251.3 525.3 252 525.8 252.8 526 253.5 525.2 254.2 525.3 257.1 524.6 257.8 523.7 258.5 523.9 259.2 522.9 260.7 522.3 261.4 521.7 262.1 520.8 264.3 519.6 265 519.4 265.7 518.4 266.4 518.4 268.6 517.1 269.3 516.9 270 516.3 271.4 515.4 272.2 515.3 272.9 514 273.6 514.3 274.3 513.5 275 513.1 276.5 511.9 277.2 511.7 277.9 511.2 278.6 511 279.3 510.1 280.1 510.3 280.8 509.7 282.2 508.6 283.6 507.7 285.1 507.2 285.8 506.7 286.5 506 287.2 505.9 288 505.4 288.7 505.2 289.4 505.3 291.5 503.5 293 503 293.7 503.3 294.4 502.7 295.1 502.7 295.8 502.4 296.6 502.3 297.3 502.4 298 501.8 298.7 501.7 299.4 501.4 300.2 501.6 300.9 501.1 303 500.6 304.5 501.2 305.2 500.3 305.9 500.7 307.3 500 308.1 500.1 309.5 499.8 310.2 500.3 310.9 499.4 311.6 499.9 312.4 499.8 313.1 499.5 314.5 499.8 315.2 499.6 316.7 499.6 317.4 499 318.1 499.7 318.8 499.8 319.5 499.5 320.3 499.5 321 498.9 321.7 499.1 322.4 498.9 323.1 498.9 323.9 499.1 324.6 498.7 325.3 498.8 326 498.3 326.7 498.6 327.4 498.6 328.2 498.3 328.9 498.2 329.6 498.7" fill="none" stroke="#ff8000" stroke-width="1.15" stroke-linejoin="round" />
</g>
<line x1="219.2" y1="403.5" x2="219.2" y2="563" stroke="#109010" stroke-width="1.2" stroke-dasharray="3 2.2"/>
<rect x="186.6" y="376.6" width="143" height="186.4" fill="none" stroke="#4a4a4a" stroke-width="1"/>
<line x1="186.6" y1="469.6" x2="329.6" y2="469.6" stroke="#4a4a4a" stroke-width="1" />
<line x1="186.8" y1="563" x2="186.8" y2="561.2" stroke="#444" stroke-width="0.7" />
<line x1="186.8" y1="469.6" x2="186.8" y2="467.8" stroke="#444" stroke-width="0.7" />
<line x1="186.8" y1="376.6" x2="186.8" y2="378.4" stroke="#444" stroke-width="0.7" />
<line x1="196.98" y1="563" x2="196.98" y2="562" stroke="#444" stroke-width="0.7" />
<line x1="196.98" y1="469.6" x2="196.98" y2="468.6" stroke="#444" stroke-width="0.7" />
<line x1="196.98" y1="376.6" x2="196.98" y2="377.6" stroke="#444" stroke-width="0.7" />
<line x1="207.15" y1="563" x2="207.15" y2="561.2" stroke="#444" stroke-width="0.7" />
<line x1="207.15" y1="469.6" x2="207.15" y2="467.8" stroke="#444" stroke-width="0.7" />
<line x1="207.15" y1="376.6" x2="207.15" y2="378.4" stroke="#444" stroke-width="0.7" />
<line x1="217.33" y1="563" x2="217.33" y2="562" stroke="#444" stroke-width="0.7" />
<line x1="217.33" y1="469.6" x2="217.33" y2="468.6" stroke="#444" stroke-width="0.7" />
<line x1="217.33" y1="376.6" x2="217.33" y2="377.6" stroke="#444" stroke-width="0.7" />
<line x1="227.5" y1="563" x2="227.5" y2="561.2" stroke="#444" stroke-width="0.7" />
<line x1="227.5" y1="469.6" x2="227.5" y2="467.8" stroke="#444" stroke-width="0.7" />
<line x1="227.5" y1="376.6" x2="227.5" y2="378.4" stroke="#444" stroke-width="0.7" />
<line x1="237.68" y1="563" x2="237.68" y2="562" stroke="#444" stroke-width="0.7" />
<line x1="237.68" y1="469.6" x2="237.68" y2="468.6" stroke="#444" stroke-width="0.7" />
<line x1="237.68" y1="376.6" x2="237.68" y2="377.6" stroke="#444" stroke-width="0.7" />
<line x1="247.85" y1="563" x2="247.85" y2="561.2" stroke="#444" stroke-width="0.7" />
<line x1="247.85" y1="469.6" x2="247.85" y2="467.8" stroke="#444" stroke-width="0.7" />
<line x1="247.85" y1="376.6" x2="247.85" y2="378.4" stroke="#444" stroke-width="0.7" />
<line x1="258.03" y1="563" x2="258.03" y2="562" stroke="#444" stroke-width="0.7" />
<line x1="258.03" y1="469.6" x2="258.03" y2="468.6" stroke="#444" stroke-width="0.7" />
<line x1="258.03" y1="376.6" x2="258.03" y2="377.6" stroke="#444" stroke-width="0.7" />
<line x1="268.2" y1="563" x2="268.2" y2="561.2" stroke="#444" stroke-width="0.7" />
<line x1="268.2" y1="469.6" x2="268.2" y2="467.8" stroke="#444" stroke-width="0.7" />
<line x1="268.2" y1="376.6" x2="268.2" y2="378.4" stroke="#444" stroke-width="0.7" />
<line x1="278.38" y1="563" x2="278.38" y2="562" stroke="#444" stroke-width="0.7" />
<line x1="278.38" y1="469.6" x2="278.38" y2="468.6" stroke="#444" stroke-width="0.7" />
<line x1="278.38" y1="376.6" x2="278.38" y2="377.6" stroke="#444" stroke-width="0.7" />
<line x1="288.55" y1="563" x2="288.55" y2="561.2" stroke="#444" stroke-width="0.7" />
<line x1="288.55" y1="469.6" x2="288.55" y2="467.8" stroke="#444" stroke-width="0.7" />
<line x1="288.55" y1="376.6" x2="288.55" y2="378.4" stroke="#444" stroke-width="0.7" />
<line x1="298.73" y1="563" x2="298.73" y2="562" stroke="#444" stroke-width="0.7" />
<line x1="298.73" y1="469.6" x2="298.73" y2="468.6" stroke="#444" stroke-width="0.7" />
<line x1="298.73" y1="376.6" x2="298.73" y2="377.6" stroke="#444" stroke-width="0.7" />
<line x1="308.9" y1="563" x2="308.9" y2="561.2" stroke="#444" stroke-width="0.7" />
<line x1="308.9" y1="469.6" x2="308.9" y2="467.8" stroke="#444" stroke-width="0.7" />
<line x1="308.9" y1="376.6" x2="308.9" y2="378.4" stroke="#444" stroke-width="0.7" />
<line x1="319.08" y1="563" x2="319.08" y2="562" stroke="#444" stroke-width="0.7" />
<line x1="319.08" y1="469.6" x2="319.08" y2="468.6" stroke="#444" stroke-width="0.7" />
<line x1="319.08" y1="376.6" x2="319.08" y2="377.6" stroke="#444" stroke-width="0.7" />
<line x1="329.25" y1="563" x2="329.25" y2="561.2" stroke="#444" stroke-width="0.7" />
<line x1="329.25" y1="469.6" x2="329.25" y2="467.8" stroke="#444" stroke-width="0.7" />
<line x1="329.25" y1="376.6" x2="329.25" y2="378.4" stroke="#444" stroke-width="0.7" />
<line x1="186.6" y1="384.7" x2="188.4" y2="384.7" stroke="#444" stroke-width="0.7" />
<line x1="329.6" y1="384.7" x2="327.8" y2="384.7" stroke="#444" stroke-width="0.7" />
<text x="184.2" y="387.7" font-size="8.4" text-anchor="end" fill="#000" stroke="#000" stroke-width="0.22" >0</text>
<line x1="186.6" y1="405.9" x2="187.6" y2="405.9" stroke="#444" stroke-width="0.7" />
<line x1="329.6" y1="405.9" x2="328.6" y2="405.9" stroke="#444" stroke-width="0.7" />
<line x1="186.6" y1="427.1" x2="188.4" y2="427.1" stroke="#444" stroke-width="0.7" />
<line x1="329.6" y1="427.1" x2="327.8" y2="427.1" stroke="#444" stroke-width="0.7" />
<text x="184.2" y="430.1" font-size="8.4" text-anchor="end" fill="#000" stroke="#000" stroke-width="0.22" >-10</text>
<line x1="186.6" y1="448.3" x2="187.6" y2="448.3" stroke="#444" stroke-width="0.7" />
<line x1="329.6" y1="448.3" x2="328.6" y2="448.3" stroke="#444" stroke-width="0.7" />
<line x1="186.6" y1="469.5" x2="188.4" y2="469.5" stroke="#444" stroke-width="0.7" />
<line x1="329.6" y1="469.5" x2="327.8" y2="469.5" stroke="#444" stroke-width="0.7" />
<text x="184.2" y="472.5" font-size="8.4" text-anchor="end" fill="#000" stroke="#000" stroke-width="0.22" >-20</text>
<line x1="186.6" y1="478.3" x2="188.4" y2="478.3" stroke="#444" stroke-width="0.7" />
<line x1="329.6" y1="478.3" x2="327.8" y2="478.3" stroke="#444" stroke-width="0.7" />
<text x="184.2" y="481.3" font-size="8.4" text-anchor="end" fill="#000" stroke="#000" stroke-width="0.22" >0</text>
<line x1="186.6" y1="499.48" x2="187.6" y2="499.48" stroke="#444" stroke-width="0.7" />
<line x1="329.6" y1="499.48" x2="328.6" y2="499.48" stroke="#444" stroke-width="0.7" />
<line x1="186.6" y1="520.65" x2="188.4" y2="520.65" stroke="#444" stroke-width="0.7" />
<line x1="329.6" y1="520.65" x2="327.8" y2="520.65" stroke="#444" stroke-width="0.7" />
<text x="184.2" y="523.65" font-size="8.4" text-anchor="end" fill="#000" stroke="#000" stroke-width="0.22" >-10</text>
<line x1="186.6" y1="541.83" x2="187.6" y2="541.83" stroke="#444" stroke-width="0.7" />
<line x1="329.6" y1="541.83" x2="328.6" y2="541.83" stroke="#444" stroke-width="0.7" />
<line x1="186.6" y1="563" x2="188.4" y2="563" stroke="#444" stroke-width="0.7" />
<line x1="329.6" y1="563" x2="327.8" y2="563" stroke="#444" stroke-width="0.7" />
<text x="184.2" y="566" font-size="8.4" text-anchor="end" fill="#000" stroke="#000" stroke-width="0.22" >-20</text>
<text x="186.8" y="573.3" font-size="8.5" text-anchor="middle" fill="#000" stroke="#000" stroke-width="0.22" >190</text>
<text x="207.15" y="573.3" font-size="8.5" text-anchor="middle" fill="#000" stroke="#000" stroke-width="0.22" >200</text>
<text x="227.5" y="573.3" font-size="8.5" text-anchor="middle" fill="#000" stroke="#000" stroke-width="0.22" >210</text>
<text x="247.85" y="573.3" font-size="8.5" text-anchor="middle" fill="#000" stroke="#000" stroke-width="0.22" >220</text>
<text x="268.2" y="573.3" font-size="8.5" text-anchor="middle" fill="#000" stroke="#000" stroke-width="0.22" >230</text>
<text x="288.55" y="573.3" font-size="8.5" text-anchor="middle" fill="#000" stroke="#000" stroke-width="0.22" >240</text>
<text x="308.9" y="573.3" font-size="8.5" text-anchor="middle" fill="#000" stroke="#000" stroke-width="0.22" >250</text>
<text x="329.25" y="573.3" font-size="8.5" text-anchor="middle" fill="#000" stroke="#000" stroke-width="0.22" >260</text>
<text x="258.1" y="582" font-size="8.3" text-anchor="middle" fill="#000" stroke="#000" stroke-width="0.22" >Wavelength (nm)</text>
<text transform="translate(168.2 470.5) rotate(-90)" font-size="8.6" text-anchor="middle" fill="#000">[θ]x10<tspan dy="-3" font-size="5.6">-3</tspan><tspan dy="3">(deg cm</tspan><tspan dy="-3" font-size="5.6">2</tspan><tspan dy="3"> dmol</tspan><tspan dy="-3" font-size="5.6">-1</tspan><tspan dy="3">)</tspan></text>
<text x="169.4" y="382.9" font-size="7.6" text-anchor="start" fill="#111" stroke="#111" stroke-width="0.22" >J</text>
<line x1="247.4" y1="437" x2="259.8" y2="437" stroke="#000000" stroke-width="1.3" />
<text x="262.1" y="439.2" font-size="6.5" text-anchor="start" fill="#000" stroke="#000" stroke-width="0.22" >MFGF</text>
<line x1="247.4" y1="445.5" x2="259.8" y2="445.5" stroke="#ff0000" stroke-width="1.3" />
<text x="262.1" y="447.7" font-size="6.5" text-anchor="start" fill="#000" stroke="#000" stroke-width="0.22" >MFGF-1 mM SDS</text>
<line x1="247.4" y1="453.3" x2="259.8" y2="453.3" stroke="#0000ff" stroke-width="1.3" />
<text x="262.1" y="455.5" font-size="6.5" text-anchor="start" fill="#000" stroke="#000" stroke-width="0.22" >MFGF-1 mM DTAB</text>
<line x1="247.4" y1="461.4" x2="259.8" y2="461.4" stroke="#ff8000" stroke-width="1.3" />
<text x="262.1" y="463.6" font-size="6.5" text-anchor="start" fill="#000" stroke="#000" stroke-width="0.22" >MFGF-1 mM PS-20</text>
<line x1="262.1" y1="527" x2="275.7" y2="527" stroke="#000000" stroke-width="1.3" />
<text x="278.5" y="529.2" font-size="6.5" text-anchor="start" fill="#000" stroke="#000" stroke-width="0.22" >MFGF 20 °C</text>
<line x1="262.1" y1="536" x2="275.7" y2="536" stroke="#ff0000" stroke-width="1.3" />
<text x="278.5" y="538.2" font-size="6.5" text-anchor="start" fill="#000" stroke="#000" stroke-width="0.22" >MFGF 40 °C</text>
<line x1="262.1" y1="544.9" x2="275.7" y2="544.9" stroke="#0000ff" stroke-width="1.3" />
<text x="278.5" y="547.1" font-size="6.5" text-anchor="start" fill="#000" stroke="#000" stroke-width="0.22" >MFGF 60 °C</text>
<line x1="262.1" y1="553.3" x2="275.7" y2="553.3" stroke="#ff8000" stroke-width="1.3" />
<text x="278.5" y="555.5" font-size="6.5" text-anchor="start" fill="#000" stroke="#000" stroke-width="0.22" >MFGF 80 °C</text>
<clipPath id="clipK0"><rect x="349.2" y="376.3" width="143.3" height="27.44"/></clipPath>
<g clip-path="url(#clipK0)">
<path d="M349 403.3 349.2 403.4 349.4 403.2 349.5 403.4 350.1 403.3 350.2 403.5 350.5 403.3 351 403.4 351.6 403.2 351.7 403.4 351.9 403.3 352.1 403.4 352.3 403.3 352.5 403.4 352.7 403.2 352.9 403.3 353 403.2 353.1 403.3 353.3 403.2 353.6 402.9 353.8 402.3 354.2 399.8 354.6 402.5 355 403.1 355.3 403.1 355.4 403.3 356 403.4 356.3 402.9 356.4 403.4 356.5 403.1 356.6 403.3 356.7 403.2 356.8 403.3 357.1 403.4 357.5 403.2 357.6 403.3 357.7 403.2 357.9 403.3 358.2 403.2 358.3 403.3 358.6 403.1 358.7 403.2 358.8 403.2 358.9 403 359.2 403.1 359.3 402.8 359.4 403 359.6 402.8 359.8 402.8 360 402.6 360.4 401.9 360.6 400.9 361 393.1 361.4 398.6 361.6 400 362.7 402.2 363.3 402.8 363.7 403 363.8 402.9 364.2 403.1 364.3 403 364.6 403.2 364.8 403.1 365 403.3 365.7 403.3 365.9 403.2 366 403.3 366.2 403.3 366.4 403.2 366.5 403 366.6 403.2 366.7 403.2 366.8 402.9 366.9 403.1 367.1 402.8 367.2 402.9 367.3 402.8 367.6 402.9 367.7 402.8 367.8 403 368 403 368.2 403.2 368.3 403.1 368.4 403.1 368.6 403.3 369.1 403.4 369.3 403.2 369.4 403.3 369.5 403.2 369.6 403.4 369.7 403.4 369.8 403.2 370.1 403.4 370.3 403.2 370.6 403.4 371.1 403.4 371.3 403.4 371.4 403.3 371.7 403.4 371.9 403.2 372.2 403.4 372.4 403.3 372.7 403.4 373.1 403.3 373.4 403.4 373.6 403.3 374 403.4 374.1 403.2 374.2 403.3 374.3 403.1 374.5 403.2 374.9 402.4 375.2 402.9 375.3 402.8 375.4 403.1 375.5 403 375.6 403.3 375.8 403.3 375.9 403.1 376 403.3 376.2 403.2 376.4 403.3 376.5 403.1 376.7 403.4 376.8 403.3 377.3 403.3 377.5 403.1 377.6 403.3 377.8 403.2 378.3 402.5 378.8 403.2 379 403.2 379.2 403.4 379.3 403.2 379.4 403.4 380.2 403.3 380.5 403.4 380.6 403.4 380.8 403.4 380.9 403.3 381.1 403.4 381.2 403.3 381.3 403.5 381.6 403.4 381.7 403.4 381.8 403.2 381.9 403.4 382.1 403.3 382.3 403.4 382.4 403.1 382.5 403.4 382.9 403.3 383 403.5 383.1 403.4 383.5 403.4 383.6 403.3 383.7 403.4 384.1 403.4 384.2 403.3 384.4 403.3 384.6 403.5 384.9 403.3 385.1 403.5 385.4 403.3 386.1 403.5 386.3 403.3 386.4 403.5 386.6 403.3 386.8 403.5 387.1 403.3 387.2 403.5 387.7 403.3 387.8 403.5 388 403.2 388.1 403.4 388.4 403.4 388.6 403.2 388.7 403.4 388.9 403.4 389 403.3 389.1 403.4 389.2 403.3 389.6 403.3 390 403.5 390.2 403.3 390.5 403.4 390.9 403.3 391 403.4 391.1 403.2 391.3 403.5 391.7 403.3 391.8 403.4 391.9 403.3 392.1 403.4 392.3 403.1 392.4 403.4 393 403.3 393.2 403.4 393.4 403.3 393.6 403.5 393.7 403.3 394.1 403.4 394.3 403.2 394.5 403.4 394.6 403.3 394.7 403.4 394.8 403.2 395.1 403.4 395.4 403.3 395.5 403.4 395.8 403.4 396 403.2 396.1 403.4 396.2 403.2 396.4 403.4 396.6 403.3 396.7 403.4 396.8 403.3 397.1 403.4 397.4 403.2 397.7 403.3 397.9 403.2 398.3 403.3 398.4 403.2 398.4 403.3 398.5 403.1 398.6 403.3 398.8 403.1 399 403.3 399.2 403 399.5 403.1 399.8 402.8 400 402.3 400.4 399.9 400.5 399.9 400.8 401.5 401 401.3 401.2 400.3 401.5 393.4 401.8 378.5 402 394.3 402.2 399.4 402.4 401.1 402.7 401.8 403.1 402.1 403.2 401.8 403.5 401.9 403.5 401.7 403.8 402.3 404.4 403 404.5 403 405 403.1 405.1 403 405.4 403.3 405.8 403.3 405.9 403.2 406 403.3 406.2 403 406.3 403.2 406.6 403.3 406.8 403.1 406.8 403.2 407.1 403.2 407.3 403.1 407.5 403.2 407.7 403 408.1 403 408.2 402.8 408.4 402.9 408.5 402.8 408.5 402.9 409 403 409.5 403.2 409.7 403.1 409.9 403.3 410 403.2 410.2 403.4 410.4 403.3 410.5 403.3 410.6 403.1 410.7 403.3 410.8 403.2 411 403.3 411.2 403.3 411.3 403.4 411.6 403.2 411.7 403.4 412.4 403.4 412.9 403.4 413 403.3 413.1 403.4 413.3 403.1 413.4 403.4 413.8 403.2 414.2 403.4 414.9 403.3 415.2 403.4 415.3 403.3 415.5 403.4 415.6 403.3 415.7 403.5 415.8 403.4 416 403.5 416.4 403.3 416.5 403.5 416.6 403.4 417 403.4 417.2 403.2 417.4 403.4 417.7 403.4 417.8 403.3 418.1 403.3 418.2 403.2 418.3 403.4 418.5 403.2 418.7 403.3 418.9 403 419 403.1 419.2 402.9 419.6 402 419.9 398.1 420.2 401.8 420.4 402.7 420.7 403.2 421 403.2 421.3 403.3 421.6 403.2 421.7 403.4 421.8 403.3 422 403.4 422.2 403.2 422.5 403.5 422.8 403.4 422.9 403.2 423 403.4 423.2 403.3 423.6 403.4 423.7 403.3 423.8 403.4 423.9 403.2 424 403.3 424.1 403.3 424.2 403.4 424.8 403.3 425 403.5 425.1 403.4 425.3 403.5 425.4 403.4 425.5 403.5 425.8 403.3 426.2 403.5 426.4 403.4 426.6 403.2 426.7 403.4 426.8 403.2 426.9 403.5 427.2 403.3 427.4 403.5 428.5 403.5 428.7 403.3 428.8 403.5 428.9 403.3 429.3 403.5 429.7 403.5 429.9 403.2 430 403.5 430.4 403.2 430.5 403.4 430.6 403.2 430.8 403.5 431.1 403.3 431.4 403.5 431.5 403.3 431.9 403.4 432.6 403.4 432.7 403.5 432.8 403.2 432.9 403.5 433 403.1 433.2 403.4 433.3 403.4 433.4 403.2 433.5 403.5 433.6 403.5 433.7 403.3 433.9 403.3 434 403.5 434.2 403.2 434.3 403.5 435.2 403.4 435.3 403.5 435.5 403.3 436.1 403.5 436.5 403.2 436.6 403.5 436.8 403.3 437.3 403.5 437.6 403.3 437.7 403.4 437.8 403.2 438 403.5 438.1 403.4 438.2 403.5 438.3 403.3 438.5 403.5 438.8 403.4 439.1 403.5 439.4 403.4 439.5 403.5 439.8 403.3 440.1 403.4 440.2 403.3 440.3 403.5 440.6 403.3 441 403.5 441.1 403.4 441.4 403.4 441.5 403.3 441.6 403.5 442.1 403.5 442.2 403.3 442.3 403.4 442.5 403.5 442.6 403.3 442.7 403.5 442.9 403.4 443 403.5 443.1 403.3 443.4 403.5 443.9 403.4 444 403.2 444.1 403.5 444.4 403.3 444.8 403.5 445 403.2 445.1 403.4 445.5 403.5 445.6 403.3 445.8 403.4 445.9 403.3 446.2 403.5 446.3 403.3 446.5 403.5 446.8 403.4 446.9 403.5 447.1 403.2 447.2 403.5 447.6 403.3 447.9 403.4 448 403.5 448.2 403.4 448.3 403.5 448.4 403.3 448.7 403.5 448.9 403.3 449 403.5 449.5 403.3 449.9 403.4 450 403.3 450.1 403.5 450.2 403.3 450.4 403.4 450.8 403.3 451 403.5 451.3 403.3 451.4 403.4 451.7 403.3 451.8 403.5 451.9 403.3 452.2 403.5 452.3 403.3 452.5 403.4 452.7 403.3 452.8 403.5 453.2 403.3 453.4 403.4 453.7 403.3 453.8 403.5 453.9 403.4 454 403.5 454.2 403.3 454.3 403.5 454.5 403.4 454.6 403.3 454.7 403.4 455 403.5 455.2 403.4 455.3 403.3 455.6 403.5 455.9 403.4 456.1 403.3 456.2 403.5 456.7 403.4 457 403.5 457.4 403.4 457.5 403.5 457.8 403.4 458.1 403.5 458.3 403.4 458.4 403.5 458.6 403.3 458.8 403.5 459 403.4 459.1 403.5 459.3 403.2 459.5 403.5 459.7 403.4 459.8 403.5 460 403.2 460.2 403.5 460.3 403.4 460.4 403.5 460.5 403.3 460.7 403.5 460.9 403.4 461.8 403.5 462.1 403.2 462.2 403.4 462.4 403.5 462.5 403.3 462.7 403.5 463 403.4 463.4 403.5 463.5 403.4 463.6 403.5 463.7 403.4 464.2 403.5 464.4 403.2 464.5 403.5 464.8 403.3 464.9 403.4 465.2 403.3 465.3 403.5 465.5 403.3 465.6 403.5 466 403.4 466.2 403.5 466.4 403.5 466.5 403.3 466.6 403.4 467 403.3 467.3 403.5 467.6 403.2 467.7 403.4 467.9 403.4 468.1 403.4 468.2 403.3 468.3 403.4 468.6 403.3 468.7 403.5 468.8 403.2 469 403.5 469.1 403.4 469.2 403.5 469.7 403.2 469.8 403.4 470 403.3 470.1 403.4 470.2 403.3 470.3 403.5 471 403.4 471.2 403.5 471.3 403.3 471.5 403.5 471.8 403.4 471.9 403.4 472 403.3 472.2 403.5 472.4 403.4 472.6 403.5 472.8 403.3 472.9 403.5 473.2 403.3 473.6 403.4 473.8 403.4 473.9 403.2 474 403.4 474.2 403.3 474.4 403.5 474.5 403.4 475.1 403.5 475.2 403.4 475.3 403.5 475.7 403.3 475.9 403.5 476 403.2 476.1 403.5 476.3 403.2 476.4 403.5 477 403.3 477.1 403.5 477.2 403.3 477.3 403.5 477.5 403.5 477.6 403.4 477.7 403.5 478.6 403.3 478.8 403.4 479.1 403.4 479.2 403.5 479.4 403.4 479.7 403.5 479.9 403.2 480.1 403.5 480.7 403.5 480.8 403.4 481 403.5 481.2 403.3 481.3 403.5 481.4 403.3 481.5 403.5 481.6 403.3 481.7 403.5 482 403.3 482.1 403.5 482.3 403.4 482.4 403.5 483.3 403.5 483.6 403.2 483.7 403.5 483.8 403.2 483.9 403.5 484 403.4 484.1 403.5 484.2 403.3 484.3 403.5 484.6 403.4 484.7 403.1 484.8 403.5 485.3 403.4 485.4 403.5 485.5 403.3 485.8 403.5 485.9 403.3 486.2 403.5 486.3 403.3 486.5 403.5 486.6 403.4 487 403.4 487.1 403.2 487.2 403.5 487.3 403.3 487.4 403.4 487.7 403.5 487.9 403.3 488 403.4 488.4 403.4 488.5 403.5 488.8 403.3 489 403.5 489.6 403.4 489.9 403.4 490 403.2 490.1 403.4 490.3 403.5 490.5 403.3 490.6 403.4 490.8 403.3 490.9 403.4 491.2 403.3 491.3 403.4 491.4 403.2 491.5 403.5 491.8 403.3 492 403.3 492.1 403.5 492.2 403.3 492.3 403.4" fill="none" stroke="#ff8000" stroke-width="1.15" stroke-linejoin="round" />
</g>
<line x1="349.2" y1="403.74" x2="492.5" y2="403.74" stroke="#ff8000" stroke-width="1.1" />
<line x1="349.82" y1="403.74" x2="349.82" y2="402.94" stroke="#333" stroke-width="0.6" />
<line x1="358.2" y1="403.74" x2="358.2" y2="402.54" stroke="#333" stroke-width="0.6" />
<line x1="366.58" y1="403.74" x2="366.58" y2="402.94" stroke="#333" stroke-width="0.6" />
<line x1="374.96" y1="403.74" x2="374.96" y2="402.54" stroke="#333" stroke-width="0.6" />
<line x1="383.34" y1="403.74" x2="383.34" y2="402.94" stroke="#333" stroke-width="0.6" />
<line x1="391.72" y1="403.74" x2="391.72" y2="402.54" stroke="#333" stroke-width="0.6" />
<line x1="400.1" y1="403.74" x2="400.1" y2="402.94" stroke="#333" stroke-width="0.6" />
<line x1="408.48" y1="403.74" x2="408.48" y2="402.54" stroke="#333" stroke-width="0.6" />
<line x1="416.86" y1="403.74" x2="416.86" y2="402.94" stroke="#333" stroke-width="0.6" />
<line x1="425.24" y1="403.74" x2="425.24" y2="402.54" stroke="#333" stroke-width="0.6" />
<line x1="433.62" y1="403.74" x2="433.62" y2="402.94" stroke="#333" stroke-width="0.6" />
<line x1="442" y1="403.74" x2="442" y2="402.54" stroke="#333" stroke-width="0.6" />
<line x1="450.38" y1="403.74" x2="450.38" y2="402.94" stroke="#333" stroke-width="0.6" />
<line x1="458.76" y1="403.74" x2="458.76" y2="402.54" stroke="#333" stroke-width="0.6" />
<line x1="467.14" y1="403.74" x2="467.14" y2="402.94" stroke="#333" stroke-width="0.6" />
<line x1="475.52" y1="403.74" x2="475.52" y2="402.54" stroke="#333" stroke-width="0.6" />
<line x1="483.9" y1="403.74" x2="483.9" y2="402.94" stroke="#333" stroke-width="0.6" />
<line x1="492.28" y1="403.74" x2="492.28" y2="402.54" stroke="#333" stroke-width="0.6" />
<text x="484.3" y="388.5" font-size="4.9" text-anchor="end" fill="#000" stroke="#1a1a1a" stroke-width="0.1">MGFM-1 mM PS20</text>
<clipPath id="clipK1"><rect x="349.2" y="403.74" width="143.3" height="27.44"/></clipPath>
<g clip-path="url(#clipK1)">
<path d="M349 430.7 349.1 430.8 349.3 430.6 349.6 430.9 350 430.8 350.1 430.6 350.2 430.9 350.3 430.9 350.4 430.6 350.6 430.8 350.8 430.7 350.9 430.8 351 430.6 351.2 430.8 351.3 430.7 351.4 430.8 351.5 430.7 352.1 430.8 352.4 430.7 352.8 430.7 353 430.5 353.1 430.6 353.4 430.4 353.7 429.9 353.9 429.2 354.2 427.3 354.6 429.9 354.9 430.3 355.1 430.4 355.2 430.6 355.3 430.5 355.5 430.7 355.7 430.4 355.8 430.7 356.4 430.6 356.5 430.7 356.7 430.4 356.9 430.6 357.1 430.4 357.3 430.6 357.6 430.5 357.7 430.6 357.9 430.2 358 430.5 358.1 430.4 358.3 430.5 358.5 430.2 358.9 430.3 359.1 430.2 359.7 429.6 359.8 429.2 359.9 429.2 360 429 360.2 428.2 360.5 426.4 360.9 416.4 361.2 422.6 361.4 424.5 361.6 424.5 361.9 424.1 362.2 425.2 362.5 426.5 362.8 427.3 363.2 427.6 363.3 427.6 363.5 427.9 363.6 427.7 363.6 428 363.9 428.2 364.7 429.2 365 429.6 365.1 429.4 365.2 429.7 365.5 430 365.6 429.8 365.7 430.1 365.9 429.9 366.2 430.3 366.8 430.2 367.3 430.4 367.4 430.3 367.6 430.3 367.7 430.1 367.9 430.1 368.1 429.8 369.1 430.5 369.4 430.6 369.6 430.5 369.7 430.7 369.8 430.6 369.9 430.7 370 430.5 370.1 430.7 370.2 430.6 370.6 430.8 370.7 430.6 371.1 430.8 371.2 430.7 371.4 430.8 371.5 430.6 371.6 430.8 371.8 430.5 371.9 430.8 372 430.8 372.3 430.7 372.5 430.8 372.8 430.8 373.2 430.6 373.3 430.8 373.4 430.7 373.5 430.8 373.9 430.7 374 430.6 374.3 430.7 374.5 430.6 375 430 375.3 430.5 375.5 430.6 375.6 430.5 375.7 430.8 375.8 430.5 375.9 430.8 376.2 430.7 376.3 430.8 376.4 430.7 376.5 430.8 376.9 430.8 377 430.7 377.3 430.8 377.4 430.5 377.5 430.7 377.6 430.7 377.8 430.5 377.9 430.5 378.3 430.3 378.3 430.1 378.4 430.3 378.7 430.4 378.9 430.7 379 430.6 379.2 430.8 380 430.8 380.1 430.6 380.3 430.8 380.4 430.8 380.5 430.9 380.7 430.7 380.8 430.8 381 430.7 381.1 430.9 381.2 430.8 381.7 430.9 382.1 430.7 382.4 430.9 382.5 430.7 382.6 430.9 383.1 430.9 383.2 430.7 383.3 430.9 383.4 430.8 383.6 430.9 383.8 430.7 384 430.9 384.4 430.7 384.6 430.9 384.7 430.8 385.2 430.9 386 430.8 386.3 430.9 386.5 430.6 386.7 430.9 386.9 430.7 387 430.9 387.1 430.7 387.5 430.9 387.6 430.8 387.9 430.9 388 430.8 388.2 430.8 388.3 430.6 388.4 430.7 388.5 430.6 388.7 430.8 388.9 430.8 389 430.7 389.2 430.7 389.5 430.5 389.6 430.7 389.9 430.6 390.1 430.7 390.5 430.4 390.6 430.5 390.8 430.4 391.1 430.1 391.4 429.3 391.7 426.2 392.1 405.6 392.3 422.9 392.5 427.6 392.7 428.8 392.9 429.2 393.1 429.1 393.2 428.9 393.3 428.9 394.2 430.3 394.4 430.2 394.5 430.5 394.6 430.4 394.7 430.5 394.9 430.4 395 430.6 395.2 430.5 395.6 430.8 395.9 430.6 396 430.8 396.2 430.6 396.3 430.7 396.7 430.6 396.8 430.8 396.9 430.6 397 430.7 397.2 430.6 397.4 430.4 397.8 430.3 398 429.7 398.5 426.7 398.9 429.9 399.1 430.4 399.6 430.7 399.8 430.6 399.9 430.7 400 430.6 400.1 430.8 400.2 430.6 400.4 430.8 400.4 430.5 400.5 430.7 400.8 430.8 400.9 430.8 400.9 430.7 401.1 430.8 401.2 430.7 401.3 430.8 401.7 430.7 401.8 430.8 402 430.8 402.1 430.6 402.2 430.8 402.6 430.5 402.7 430.6 403 430.5 403.2 430.3 403.5 430.2 403.5 429.9 403.6 430.2 403.7 430.2 403.9 430.5 404.2 430.6 404.3 430.7 404.5 430.4 404.6 430.7 404.7 430.6 405 430.8 405.1 430.6 405.3 430.8 405.6 430.7 406.4 430.9 406.8 430.7 407 430.9 407.1 430.8 407.2 430.9 407.3 430.7 407.5 430.9 407.6 430.7 408.3 430.9 408.5 430.7 408.6 430.9 408.9 430.9 409.1 430.8 409.2 430.7 409.3 430.9 409.6 430.8 410.2 430.9 410.3 430.8 410.4 430.9 410.5 430.7 410.6 430.8 411 430.9 411.2 430.8 411.3 430.9 412 430.9 412.1 430.8 412.3 430.8 412.4 430.7 412.5 430.9 412.7 430.8 413.2 430.9 413.3 430.7 413.6 430.9 413.7 430.8 413.9 430.9 414.4 430.8 414.5 430.7 414.6 430.8 414.7 430.7 415.3 430.8 415.5 430.8 415.7 430.7 416.9 430.8 417.1 430.6 417.2 430.7 417.5 430.7 417.6 430.6 417.8 430.7 418 430.4 418.3 430.5 418.4 430.3 418.5 430.4 418.6 430.2 418.8 430.2 419.1 429.6 419.4 428.7 419.6 426 419.9 409.8 420.2 425.1 420.4 428 420.6 428.8 421.1 429.3 421.1 429.2 421.4 429.6 421.5 429.5 421.8 430 422 430 422.3 430.4 422.7 430.5 422.9 430.4 423.1 430.6 423.2 430.5 423.4 430.7 423.6 430.5 423.8 430.7 423.9 430.5 424 430.8 424.4 430.8 424.5 430.6 424.7 430.8 424.9 430.6 425 430.8 425.2 430.6 425.4 430.8 425.7 430.8 425.8 430.6 426 430.9 426.1 430.7 426.3 430.8 426.4 430.6 426.7 430.9 426.9 430.6 427 430.8 427.3 430.8 427.5 430.8 427.6 430.9 427.7 430.6 427.9 430.8 428.1 430.7 428.2 430.9 428.3 430.8 428.7 430.9 428.9 430.7 429 430.8 429.1 430.7 429.3 430.9 429.6 430.8 429.9 430.9 430.1 430.7 430.2 430.9 430.4 430.8 430.5 430.9 430.8 430.8 430.9 430.6 431 430.9 431.1 430.7 431.2 430.8 431.3 430.8 431.4 430.9 431.5 430.7 432.2 430.9 432.3 430.7 432.4 430.9 432.6 430.7 432.7 430.9 432.8 430.7 432.9 430.9 433.1 430.6 433.3 430.9 433.4 430.6 433.5 430.9 433.6 430.9 433.7 430.7 434 430.9 434.1 430.7 434.2 430.8 434.5 430.9 434.7 430.8 434.8 430.9 434.9 430.7 435 430.9 435.2 430.9 435.3 430.6 435.4 430.8 435.6 430.9 435.7 430.8 435.8 430.9 435.9 430.7 436 430.9 436.5 430.8 436.6 430.7 436.7 430.9 437 430.7 437.2 430.9 437.5 430.9 437.7 430.7 437.8 430.9 437.9 430.7 438.3 430.9 438.4 430.7 438.5 430.9 438.7 430.7 439 430.9 439.3 430.7 439.6 430.9 439.7 430.8 440 430.9 440.1 430.7 440.2 430.9 440.6 430.7 440.8 430.9 441 430.8 441.1 430.6 441.2 430.8 441.3 430.7 441.5 430.9 441.7 430.8 442 430.9 442.1 430.7 442.3 430.9 442.5 430.8 442.6 430.9 443.1 430.9 443.4 430.8 443.5 430.9 443.6 430.7 443.8 430.9 443.9 430.7 444 430.9 444.1 430.7 444.3 430.9 444.8 430.8 444.9 430.9 445.3 430.8 445.4 430.9 445.7 430.8 445.9 430.9 446 430.8 447 430.9 447.1 430.8 447.2 430.9 447.4 430.4 447.6 430.9 447.9 430.7 448.1 430.9 448.3 430.8 448.5 430.9 448.9 430.8 449 430.9 449.5 430.9 449.6 430.7 449.7 430.9 449.8 430.8 450.1 430.9 450.3 430.7 450.6 430.9 450.7 430.8 451 430.9 451.1 430.7 451.3 430.9 451.7 430.8 451.8 430.9 451.9 430.8 452.7 430.9 452.8 430.8 452.9 430.8 453 430.7 453.3 430.9 453.6 430.9 453.7 430.8 453.9 430.9 454.2 430.8 454.5 430.9 454.6 430.8 454.9 430.9 455 430.8 455.1 430.9 455.2 430.7 455.4 430.9 455.6 430.8 456.2 430.9 456.3 430.8 456.7 430.9 456.8 430.8 457 430.8 457.1 430.7 457.4 430.9 457.8 430.8 458.1 430.9 458.2 430.7 458.7 430.9 458.8 430.9 458.9 430.7 459.2 430.9 459.6 430.9 459.8 430.7 460 430.9 460.1 430.8 460.2 430.9 460.5 430.8 460.6 430.9 460.7 430.8 460.9 430.9 461 430.7 461.1 430.7 461.2 430.9 461.4 430.8 461.6 430.9 461.7 430.7 461.9 430.8 462.8 430.9 462.9 430.7 463 430.9 463.1 430.6 463.2 430.9 463.5 430.9 463.7 430.8 464 430.9 464.3 430.6 464.5 430.9 464.8 430.9 465 430.7 465.1 430.9 465.3 430.8 465.8 430.9 466.1 430.7 466.2 430.9 466.4 430.8 466.5 430.9 466.8 430.7 467.1 430.9 467.5 430.7 467.6 430.9 467.8 430.9 467.9 430.5 468.1 430.9 468.5 430.8 468.6 430.9 468.8 430.7 468.9 430.9 469.1 430.8 469.2 430.9 469.8 430.8 470.4 430.9 470.5 430.6 470.6 430.9 470.8 430.8 471 430.9 471.3 430.8 471.5 430.9 471.8 430.8 471.9 430.6 472 430.8 472.7 430.9 472.8 430.7 473 430.9 473.1 430.7 473.2 430.9 473.3 430.7 473.4 430.9 473.6 430.9 473.7 430.8 474.8 430.9 475.1 430.8 475.3 430.9 475.7 430.9 476.2 430.7 476.5 430.9 476.8 430.8 476.9 430.9 477 430.7 477.1 430.9 477.6 430.7 477.7 430.9 477.9 430.6 478.1 430.9 478.6 430.8 478.7 430.9 478.8 430.7 478.9 430.9 479 430.7 479.2 430.9 479.3 430.9 479.4 430.7 479.5 430.9 479.6 430.8 479.7 430.9 480.1 430.8 480.3 430.9 480.7 430.8 480.8 430.9 481 430.8 481.1 430.9 481.3 430.8 481.8 430.9 481.9 430.8 481.9 430.9 482 430.7 482.1 430.9 482.4 430.8 483.5 430.9 483.7 430.7 484 430.9 484.3 430.8 484.5 430.9 484.6 430.7 484.7 430.9 484.9 430.7 485 430.9 485.4 430.9 485.5 430.7 485.6 430.9 486 430.7 486.1 430.8 486.6 430.9 486.7 430.7 487 430.9 487.6 430.8 488 430.9 488.1 430.8 488.7 430.9 488.9 430.7 489.1 430.9 489.3 430.8 489.7 430.9 489.9 430.7 490.2 430.9 490.3 430.7 490.4 430.9 490.6 430.7 490.9 430.9 491.2 430.8 491.6 430.9 492 430.7 492.1 430.9 492.3 430.8" fill="none" stroke="#8000ff" stroke-width="1.15" stroke-linejoin="round" />
</g>
<line x1="349.2" y1="431.19" x2="492.5" y2="431.19" stroke="#8000ff" stroke-width="1.1" />
<line x1="349.82" y1="431.19" x2="349.82" y2="430.39" stroke="#333" stroke-width="0.6" />
<line x1="358.2" y1="431.19" x2="358.2" y2="429.99" stroke="#333" stroke-width="0.6" />
<line x1="366.58" y1="431.19" x2="366.58" y2="430.39" stroke="#333" stroke-width="0.6" />
<line x1="374.96" y1="431.19" x2="374.96" y2="429.99" stroke="#333" stroke-width="0.6" />
<line x1="383.34" y1="431.19" x2="383.34" y2="430.39" stroke="#333" stroke-width="0.6" />
<line x1="391.72" y1="431.19" x2="391.72" y2="429.99" stroke="#333" stroke-width="0.6" />
<line x1="400.1" y1="431.19" x2="400.1" y2="430.39" stroke="#333" stroke-width="0.6" />
<line x1="408.48" y1="431.19" x2="408.48" y2="429.99" stroke="#333" stroke-width="0.6" />
<line x1="416.86" y1="431.19" x2="416.86" y2="430.39" stroke="#333" stroke-width="0.6" />
<line x1="425.24" y1="431.19" x2="425.24" y2="429.99" stroke="#333" stroke-width="0.6" />
<line x1="433.62" y1="431.19" x2="433.62" y2="430.39" stroke="#333" stroke-width="0.6" />
<line x1="442" y1="431.19" x2="442" y2="429.99" stroke="#333" stroke-width="0.6" />
<line x1="450.38" y1="431.19" x2="450.38" y2="430.39" stroke="#333" stroke-width="0.6" />
<line x1="458.76" y1="431.19" x2="458.76" y2="429.99" stroke="#333" stroke-width="0.6" />
<line x1="467.14" y1="431.19" x2="467.14" y2="430.39" stroke="#333" stroke-width="0.6" />
<line x1="475.52" y1="431.19" x2="475.52" y2="429.99" stroke="#333" stroke-width="0.6" />
<line x1="483.9" y1="431.19" x2="483.9" y2="430.39" stroke="#333" stroke-width="0.6" />
<line x1="492.28" y1="431.19" x2="492.28" y2="429.99" stroke="#333" stroke-width="0.6" />
<text x="483.8" y="414.24" font-size="4.9" text-anchor="end" fill="#000" stroke="#1a1a1a" stroke-width="0.1">MGFM-1 mM DTAB</text>
<clipPath id="clipK2"><rect x="349.2" y="431.19" width="143.3" height="27.44"/></clipPath>
<g clip-path="url(#clipK2)">
<path d="M349 458.3 349.1 458.2 349.3 458.3 349.4 458.2 349.6 458.3 349.8 458.2 349.9 458.3 350 458.2 350.3 458.3 350.5 458.2 350.7 458.3 350.9 458.2 351.3 458.3 351.4 458.1 351.6 458.2 351.7 458 351.9 458.2 352.3 458.2 352.5 458 352.6 458.2 352.7 458 352.9 458.1 353.2 458 353.5 457.7 353.8 456.9 354.2 453.7 354.5 456.6 354.9 457.8 355 457.7 355.3 458.1 355.4 458 355.7 458.2 355.9 458.2 356 458 356.2 458.2 356.4 458 356.7 458.2 356.9 458.1 357.7 458.2 358 458 358.4 458.1 358.5 458 358.8 458 358.9 457.8 359 458 359.1 457.9 359.2 457.9 359.8 457.6 360.1 457.1 360.5 456.1 360.7 454.2 361 442.3 361.4 452.2 361.6 454.6 361.8 455.2 362 455.2 362.2 455.3 362.4 455.2 362.7 456.2 363.3 457.3 363.4 457.2 363.6 457.5 363.7 457.6 363.8 457.3 363.9 457.7 364 457.6 364.4 458 364.6 457.9 364.8 458 364.9 457.9 365.1 458 365.5 458 365.7 457.8 365.8 457.9 365.9 457.9 366.6 457.3 366.8 457.6 366.9 457.4 367.1 457.9 367.3 458 367.6 458 367.7 458.1 368.1 458.2 368.3 458 368.6 458.2 368.8 458.1 369 458.3 369.1 458.1 369.5 458.3 370.1 458.2 370.3 458.3 370.5 458.2 370.6 458.3 370.8 458.1 370.9 458.3 371.5 458.1 371.9 458.3 372.1 458.3 372.2 458 372.6 458.3 372.7 458.1 372.8 458.3 373.3 458.3 373.4 458.2 373.5 458.3 373.7 458.3 374.4 458.1 375 457.4 375.4 458.1 375.8 458 376 458.3 376.3 458.1 376.4 458.3 376.6 458.1 376.7 458.3 377 458.2 377.1 458.3 377.3 458.1 377.4 458.2 377.8 458 377.9 458.1 378.1 457.7 378.2 457.8 378.3 457.6 378.8 458.1 378.9 458 379.1 458.3 379.3 458.3 379.4 458.1 379.8 458.3 380.1 458.3 380.3 458.1 380.6 458.3 381.5 458.2 381.6 458.3 381.8 458.3 381.9 458.1 382 458.3 382.4 458.1 382.5 458.3 382.7 458.4 382.8 458.2 383.3 458.3 383.7 458.3 383.8 458.2 384.2 458.3 384.3 458.1 384.6 458.3 384.7 458.2 384.8 458.4 385.1 458.4 385.3 458.3 385.5 458.1 385.8 458.3 385.9 458.2 386.2 458.4 386.3 458.3 386.6 458.4 386.8 458.1 386.9 458.4 387.4 458.2 387.5 458.3 387.7 458.2 387.8 458.4 387.9 458.3 388 458 388.1 458.3 388.2 458.2 388.5 458.3 388.8 458.2 388.9 458.4 389.1 458.2 389.2 458.4 389.3 458.1 389.5 458.3 389.6 458.1 389.7 458.4 390.1 458.4 390.2 458 390.3 458.3 390.4 458.3 390.5 458.3 391 458.3 391.1 458.2 391.2 458.4 391.5 458.2 391.8 458.3 391.9 458.1 392.1 458.4 392.3 458.2 392.5 458.3 393.1 458.3 393.2 458.4 393.4 458.2 393.4 458.3 393.6 458.2 393.8 458.4 393.9 458.2 394.1 458.3 394.3 458.2 394.6 458.3 395 458.2 395.1 458.3 395.3 458.2 395.5 458.3 395.6 458.1 395.8 458.3 396 458.1 396.2 458.3 396.4 458.2 396.7 458.3 396.9 458.2 397.3 458.3 397.5 458.2 397.8 458.3 397.9 458.2 398.1 458.3 398.4 458.1 398.5 458.3 398.8 458.2 399 458.3 399.2 458.1 399.3 458.2 399.6 458.2 399.7 457.9 399.8 458.1 399.9 458.1 400.1 457.8 400.2 457.9 400.4 457.7 400.7 457.1 400.8 457.2 400.9 457 401.5 457.7 401.9 457.8 402 457.4 402.1 457.6 402.3 457.1 402.6 456.2 403 457.4 403.3 457.9 403.5 457.9 403.6 458.1 403.7 457.9 403.9 458.2 404.4 458.2 404.5 458 404.6 458.2 404.7 458.1 404.8 458.2 405.1 458.1 405.4 458.2 405.6 458.1 405.7 458.2 406.4 457.8 406.6 457.4 406.9 457.6 407.1 457.5 407.2 457.8 407.3 457.7 407.5 458 407.6 457.8 407.8 458.2 408 458.2 408.2 458 408.3 458.3 408.5 458.1 408.5 458.2 408.7 458.2 408.8 458.3 409.1 458.2 409.3 458.3 409.4 458.2 410 458.3 410.1 458.2 410.2 458.3 410.5 458.2 410.6 458.3 410.8 458.2 411 458.3 411.1 458.1 411.3 458.3 411.4 458.1 411.8 458.3 412 458.3 412.1 458.2 412.2 458.3 413 458.3 413.2 458.1 413.4 458.2 413.6 458.2 413.7 458.3 414.3 458.3 414.4 458.2 414.6 458.4 414.9 458.3 415.2 458.3 415.4 458.1 415.7 458.1 415.8 458.3 415.9 458.2 416 458.3 416.2 458.1 416.3 458.2 416.4 458.1 416.5 458.3 416.8 458.3 417.1 458.1 417.3 458.3 417.9 458.1 418.1 458.3 418.2 458 418.3 458.1 418.4 458 418.6 458.2 418.7 458 418.8 458.1 418.9 457.8 419 458 419.1 457.7 419.2 457.7 419.5 457.2 419.9 451.7 420.2 456.3 420.5 457.7 420.9 458.1 421 458 421.2 458.2 421.7 458.1 421.9 458.3 422 458.1 422.1 458.3 422.3 458.3 422.4 458.2 422.8 458.3 423 458.1 423.1 458.3 423.3 458.3 423.4 458.1 423.8 458.3 424 458.2 424.1 458.3 424.2 458.1 424.4 458.3 424.7 458.4 424.8 458.1 424.9 458.3 425 458.2 425.3 458.4 425.6 458.2 425.7 458.4 426 458.3 426.1 458.2 426.2 458.3 426.3 458.2 426.4 458 426.5 458.3 426.7 458.1 426.8 458.4 426.9 458.2 427 458.3 427.2 458.2 427.3 458.3 427.6 458.3 427.9 458.1 428.1 458.4 428.2 458.2 428.7 458.4 428.9 458.2 429.3 458.4 429.5 458.2 429.7 458.4 429.9 458.2 430.1 458.4 430.4 458.3 430.9 458.4 431.1 458.2 431.5 458.4 431.6 458.2 431.7 458.4 431.9 458.2 432.1 458.3 432.3 458.4 432.4 458.2 432.6 458.3 432.7 458.2 432.9 458.4 433 458.2 433.2 458.4 433.3 458.2 433.5 458.4 433.7 458.2 434 458.3 434.1 458.2 434.2 458.3 434.3 458.2 434.6 458.3 434.8 458.1 434.9 458.3 435.4 458.4 436 458.3 436.1 458 436.4 458.3 436.6 458.2 437 458.3 437.4 458.3 437.5 458.2 437.7 458.4 438.1 458.2 438.4 458.4 438.5 458.2 438.6 458.4 438.7 458.2 438.8 458.4 438.9 458.1 439.2 458.4 439.9 458.2 440.2 458.3 440.3 458.2 440.5 458.3 440.6 458.2 440.7 458.4 440.8 458.3 440.9 458.3 441 458.1 441.1 458.3 441.2 458.2 441.4 458.3 441.7 458.2 441.9 458.3 442.1 458.2 442.2 458.4 442.8 458.4 443.1 458.2 443.3 458.4 443.4 458.2 443.7 458.3 443.9 458.2 444 458.4 444.1 458.2 444.2 458.3 444.3 458.2 444.4 458.3 445 458.3 445.1 458.4 445.3 458.3 445.7 458.4 445.9 458.1 446 458.4 446.2 458.2 446.6 458.3 446.7 458.2 446.8 458.3 446.9 458.2 447.1 458.3 447.2 458.2 447.3 458.4 447.6 458.3 447.7 458.3 447.8 458.2 447.9 458.4 448 458.3 448.2 458.3 448.3 458.1 448.4 458.2 448.7 458.2 449.3 458.4 449.4 458.3 449.7 458.3 449.8 458.2 449.9 458.3 450 458.2 450.1 458.3 450.4 458.3 450.5 458.1 450.6 458.3 450.7 458.2 451.2 458.3 451.3 458.1 451.4 458.4 451.5 458.2 451.9 458.4 452 458.3 452.1 458.3 452.8 458.3 452.9 458.2 453.2 458.3 453.3 458.1 453.4 458.3 453.8 458.2 454 458.4 454.1 458.2 454.3 458.2 454.4 458 454.6 458.4 454.7 458.3 454.8 458.4 454.9 458.2 455 458.4 455.1 458.2 455.3 458.4 455.4 458.2 455.9 458.4 456.2 458.3 456.5 458.4 456.6 458.2 456.9 458.4 457.4 458.4 457.6 458 457.7 458.4 457.8 458.2 458.3 458.3 458.6 458.2 458.8 458.3 459 458.2 459.1 458.3 459.4 458.4 459.7 458.1 459.9 458.3 460.2 458.3 460.3 458.4 460.5 458.3 460.6 458.4 461 458.3 461.4 458.4 461.7 458.3 462 458.4 462.2 458.2 462.4 458.4 462.6 458.1 462.7 458.3 463 458.2 463.1 458.3 463.4 458.1 463.5 458.4 463.9 458.2 464.1 458.2 464.2 458.4 464.5 458.2 464.7 458.4 464.9 458.3 465 458.3 465.1 458.1 465.3 458.4 466 458.2 466.1 458.3 466.2 458.2 466.3 458.3 466.5 458.1 466.8 458.3 467 458.2 467.1 458.4 467.4 458.3 467.6 458.4 467.7 458.2 467.8 458.3 468.3 458.4 468.5 458.1 468.6 458.3 468.8 458.2 469.7 458.3 469.8 458.3 470 458.3 470.1 458.1 470.3 458.4 470.7 458.2 470.8 458.3 470.9 458.2 471 458.4 471.1 458.2 471.2 458.4 471.5 458.3 471.9 458.3 472.7 458.2 472.8 458.4 473 458.2 473.1 458.4 473.4 458.1 473.5 458.3 474 458.2 474.3 458.4 474.8 458.2 474.9 458.3 475 458.2 475.1 458.4 475.2 458.2 475.3 458.3 475.5 458.1 475.6 458.3 475.8 458.3 475.9 458.1 476 458.3 476.4 458.2 476.6 458.4 476.9 458.3 477 458.1 477.1 458.3 477.4 458.2 477.5 458.4 477.9 458.3 478 458.3 478.2 458.1 478.5 458.3 478.6 458 478.9 458.3 479.1 458.3 479.2 458.4 479.3 458.2 479.4 458.3 479.6 458.2 479.7 458.4 480 458.3 480.3 458.3 480.6 458.2 481 458.4 481.8 458.2 481.9 458.4 482 458.2 482.1 458.4 482.3 458.3 482.4 458.4 482.9 458.2 483.2 458.4 483.3 458.2 483.5 458.4 484.1 458.2 484.3 458.3 484.4 458.2 484.6 458.3 484.8 458.2 484.9 458.4 485.1 458.2 485.2 458.4 485.7 458.2 485.8 458.4 486.1 458.3 486.3 458.4 486.7 458.3 487 458.3 487.2 458.2 487.6 458.4 487.9 458.2 488.2 458.4 488.4 458.2 488.8 458.4 488.9 458.2 489.2 458.4 489.4 458.2 489.5 458.4 489.7 458.2 489.8 458.3 490 458.2 490.2 458.3 490.7 458.3 490.9 458.4 491.1 458.2 491.3 458.3 491.8 458.2 491.9 458.4 492.1 458.1 492.2 458.3 492.3 458.2" fill="none" stroke="#ff00ff" stroke-width="1.15" stroke-linejoin="round" />
</g>
<line x1="349.2" y1="458.63" x2="492.5" y2="458.63" stroke="#ff00ff" stroke-width="1.1" />
<line x1="349.82" y1="458.63" x2="349.82" y2="457.83" stroke="#333" stroke-width="0.6" />
<line x1="358.2" y1="458.63" x2="358.2" y2="457.43" stroke="#333" stroke-width="0.6" />
<line x1="366.58" y1="458.63" x2="366.58" y2="457.83" stroke="#333" stroke-width="0.6" />
<line x1="374.96" y1="458.63" x2="374.96" y2="457.43" stroke="#333" stroke-width="0.6" />
<line x1="383.34" y1="458.63" x2="383.34" y2="457.83" stroke="#333" stroke-width="0.6" />
<line x1="391.72" y1="458.63" x2="391.72" y2="457.43" stroke="#333" stroke-width="0.6" />
<line x1="400.1" y1="458.63" x2="400.1" y2="457.83" stroke="#333" stroke-width="0.6" />
<line x1="408.48" y1="458.63" x2="408.48" y2="457.43" stroke="#333" stroke-width="0.6" />
<line x1="416.86" y1="458.63" x2="416.86" y2="457.83" stroke="#333" stroke-width="0.6" />
<line x1="425.24" y1="458.63" x2="425.24" y2="457.43" stroke="#333" stroke-width="0.6" />
<line x1="433.62" y1="458.63" x2="433.62" y2="457.83" stroke="#333" stroke-width="0.6" />
<line x1="442" y1="458.63" x2="442" y2="457.43" stroke="#333" stroke-width="0.6" />
<line x1="450.38" y1="458.63" x2="450.38" y2="457.83" stroke="#333" stroke-width="0.6" />
<line x1="458.76" y1="458.63" x2="458.76" y2="457.43" stroke="#333" stroke-width="0.6" />
<line x1="467.14" y1="458.63" x2="467.14" y2="457.83" stroke="#333" stroke-width="0.6" />
<line x1="475.52" y1="458.63" x2="475.52" y2="457.43" stroke="#333" stroke-width="0.6" />
<line x1="483.9" y1="458.63" x2="483.9" y2="457.83" stroke="#333" stroke-width="0.6" />
<line x1="492.28" y1="458.63" x2="492.28" y2="457.43" stroke="#333" stroke-width="0.6" />
<text x="484.5" y="442.69" font-size="4.9" text-anchor="end" fill="#000" stroke="#1a1a1a" stroke-width="0.1">MGFM-1 mM SDS</text>
<clipPath id="clipK3"><rect x="349.2" y="458.63" width="143.3" height="27.44"/></clipPath>
<g clip-path="url(#clipK3)">
<path d="M349 485.8 349.6 485.7 349.7 485.6 349.8 485.8 349.9 485.6 350.1 485.8 350.5 485.8 350.6 485.6 350.7 485.7 350.8 485.7 350.9 485.8 351.1 485.7 351.2 485.6 351.3 485.8 352.1 485.8 352.2 485.5 352.3 485.8 352.9 485.6 353 485.7 353.1 485.5 353.4 485.6 353.8 485.2 354.2 484 354.6 485.2 355.2 485.7 355.6 485.7 355.7 485.6 355.8 485.8 356 485.4 356.3 485.8 356.4 485.7 356.5 485.8 356.8 485.7 357.5 485.8 357.9 485.5 358 485.7 358.1 485.6 358.3 485.7 358.4 485.3 358.5 485.6 359 485.3 359.5 483.4 359.9 485 360.1 485.2 360.2 485 360.4 485.3 360.7 484.8 361 482.6 361.4 484.6 361.7 485.4 362.2 485.6 362.2 485.5 362.3 485.7 362.4 485.6 362.6 485.7 362.8 485.6 362.9 485.7 363 485.6 363.3 485.7 363.4 485.6 363.7 485.8 363.8 485.7 363.9 485.8 364.2 485.7 364.3 485.6 364.8 485.8 364.9 485.5 365 485.5 365.1 485.7 365.2 485.6 365.4 485.8 365.5 485.4 365.6 485.8 365.7 485.6 365.9 485.8 366.1 485.6 366.2 485.8 366.5 485.6 366.6 485.8 366.8 485.7 367.4 485.8 367.4 485.6 367.6 485.8 367.7 485.6 367.8 485.8 368.3 485.7 368.4 485.8 368.5 485.5 368.8 485.8 369 485.7 369.1 485.8 369.2 485.5 369.5 485.8 369.6 485.6 369.8 485.8 371 485.8 371.2 485.6 371.3 485.8 371.5 485.8 371.7 485.5 371.9 485.8 372 485.7 372.1 485.8 372.2 485.5 372.3 485.8 372.7 485.6 373 485.8 373.1 485.5 373.2 485.8 373.3 485.6 373.7 485.7 373.8 485.6 373.9 485.7 374.2 485.7 374.7 485.5 374.8 485.3 374.9 485.3 375 485.1 375 485.3 375.3 485.5 375.4 485.4 375.8 485.7 376.1 485.8 376.2 485.6 376.3 485.7 376.7 485.7 376.8 485.6 377 485.8 377.5 485.7 377.6 485.6 377.9 485.8 378.4 485.7 378.5 485.8 378.7 485.7 379.2 485.8 379.6 485.7 379.8 485.8 380 485.8 380.1 485.6 380.5 485.7 380.7 485.6 380.8 485.8 381.1 485.8 381.2 485.7 381.7 485.7 381.9 485.5 382.1 485.8 382.2 485.7 382.4 485.8 382.6 485.6 382.7 485.8 382.9 485.7 383.6 485.8 383.7 485.6 383.8 485.8 383.9 485.7 384 485.8 384.1 485.6 384.3 485.8 385 485.7 385.4 485.8 385.7 485.7 385.8 485.8 385.9 485.6 386 485.8 386.2 485.7 386.6 485.8 386.8 485.6 387 485.8 387.1 485.7 387.6 485.8 387.7 485.6 387.9 485.8 388.1 485.5 388.3 485.7 388.6 485.8 388.9 485.7 389.2 485.8 389.3 485.6 389.4 485.8 389.5 485.7 389.7 485.8 389.9 485.6 390 485.7 390.2 485.7 390.3 485.8 390.4 485.5 390.5 485.7 390.6 485.7 390.8 485.8 390.9 485.6 391.1 485.6 391.2 485.8 391.4 485.8 391.6 485.6 391.8 485.8 392.3 485.7 392.4 485.5 392.5 485.8 392.6 485.6 392.8 485.7 393.6 485.8 393.7 485.6 393.8 485.7 394.2 485.7 394.6 485.5 394.8 485.6 394.9 485.5 395.1 485.6 395.4 485.5 396 484.9 396.1 484.6 396.4 482 396.7 458.7 396.9 475.5 397.1 482.6 397.3 484.4 397.5 485 397.7 485.1 397.9 485.4 398 485.3 398.1 485.5 398.4 485.3 398.5 485.6 398.6 485.4 398.7 485.6 399 485.5 399.1 485.7 399.2 485.6 399.4 485.7 399.9 485.6 400 485.4 400.3 485.5 400.4 485.4 400.5 485.4 400.8 485.2 401 484.9 401.4 483.4 401.8 484.4 402.1 485 402.6 484.4 403.2 485.4 403.4 485.3 403.5 485.6 403.8 485.5 404.1 485.6 404.2 485.7 404.5 485.6 404.7 485.7 404.8 485.6 405 485.7 405.1 485.6 405.2 485.8 405.7 485.6 405.8 485.7 406.2 485.6 406.3 485.8 406.6 485.6 406.8 485.8 407.1 485.6 407.4 485.7 407.5 485.5 407.6 485.7 407.8 485.6 408 485.8 408.1 485.7 408.7 485.8 408.9 485.6 409.1 485.8 409.2 485.7 409.3 485.8 409.5 485.6 409.7 485.8 409.9 485.8 410 485.6 410.1 485.8 410.3 485.7 410.4 485.8 410.5 485.6 410.7 485.8 410.8 485.6 411.2 485.8 411.3 485.6 411.4 485.8 411.8 485.8 411.9 485.6 412 485.7 412.3 485.6 412.4 485.8 412.5 485.7 413.1 485.8 413.2 485.6 413.5 485.7 413.6 485.6 413.7 485.8 413.8 485.7 413.9 485.8 414.2 485.7 414.4 485.8 414.5 485.7 414.9 485.7 415 485.6 415.2 485.8 415.4 485.7 415.6 485.8 415.7 485.6 416 485.8 416.1 485.6 416.3 485.8 416.8 485.7 416.9 485.8 417.1 485.7 417.4 485.8 417.7 485.6 418 485.7 418.1 485.6 418.4 485.7 418.7 485.5 418.8 485.6 419 485.3 419.1 485.4 419.4 485.1 419.6 484 419.9 477.6 420.1 482.3 420.3 484.5 420.6 485.4 421.3 485.7 421.5 485.4 421.6 485.7 421.8 485.6 422 485.7 422.3 485.6 422.4 485.8 422.8 485.7 423.1 485.7 423.3 485.7 423.4 485.8 423.6 485.5 423.7 485.7 424 485.8 424.1 485.6 424.4 485.8 424.6 485.8 424.7 485.7 424.8 485.8 424.9 485.6 425 485.8 425.1 485.7 425.5 485.8 425.7 485.6 426.1 485.8 426.2 485.6 426.3 485.8 426.7 485.8 426.9 485.6 427.1 485.8 427.2 485.7 427.4 485.8 427.7 485.7 428.1 485.8 428.2 485.5 428.3 485.8 428.4 485.6 428.7 485.8 429 485.7 429.1 485.8 429.2 485.6 429.4 485.8 429.7 485.7 429.8 485.8 430 485.8 430.2 485.6 430.3 485.8 430.4 485.6 430.5 485.8 430.7 485.8 430.8 485.6 431 485.8 431.2 485.6 431.4 485.8 431.5 485.7 431.6 485.8 431.7 485.7 431.8 485.8 432.2 485.7 432.3 485.8 432.7 485.7 433 485.8 433.2 485.5 433.3 485.8 433.4 485.7 433.5 485.8 433.9 485.7 434.7 485.8 434.9 485.7 435.2 485.8 435.3 485.5 435.4 485.8 435.5 485.5 435.7 485.7 436 485.7 436.3 485.8 436.4 485.7 436.5 485.8 436.7 485.8 436.9 485.6 437 485.8 437.2 485.8 437.3 485.6 437.5 485.8 437.7 485.6 437.8 485.8 438 485.7 438.7 485.8 438.8 485.7 440 485.8 440.5 485.7 440.9 485.7 441 485.5 441.1 485.8 441.2 485.8 441.4 485.7 441.8 485.8 442.3 485.8 442.4 485.7 442.6 485.7 442.7 485.6 442.8 485.7 443.1 485.8 444.3 485.7 444.4 485.5 444.5 485.6 444.8 485.5 445.1 484.9 445.4 482 445.7 485 445.9 485.5 446.2 485.6 446.3 485.5 446.5 485.7 446.6 485.5 446.9 485.8 447.4 485.7 447.6 485.8 447.7 485.6 447.8 485.8 448 485.7 448.6 485.8 448.7 485.6 448.9 485.7 449.1 485.6 449.5 485.8 450.1 485.8 450.2 485.7 450.4 485.8 450.8 485.7 451.2 485.8 451.4 485.7 451.6 485.8 451.9 485.6 452 485.7 452.1 485.6 452.2 485.8 452.4 485.7 452.5 485.8 453.2 485.8 453.4 485.7 453.5 485.8 453.9 485.7 454 485.8 454.4 485.8 454.6 485.6 454.7 485.8 455 485.8 455.3 485.6 455.4 485.8 455.8 485.6 455.9 485.8 456.3 485.8 456.5 485.5 456.6 485.8 456.7 485.7 456.8 485.8 456.9 485.6 457 485.8 457.2 485.6 457.4 485.8 457.5 485.7 457.9 485.8 458 485.7 458.2 485.7 458.4 485.8 458.6 485.6 459 485.6 459.1 485.8 459.4 485.8 459.5 485.7 459.6 485.8 459.8 485.6 460.1 485.8 460.8 485.7 460.9 485.8 461 485.6 461.3 485.8 461.6 485.7 461.7 485.8 462.2 485.7 462.4 485.8 462.6 485.6 462.8 485.8 462.9 485.6 463.2 485.8 463.5 485.7 463.7 485.8 463.9 485.7 464.1 485.8 464.5 485.7 464.6 485.8 464.7 485.7 464.9 485.8 465 485.7 465.1 485.8 465.3 485.7 465.5 485.8 465.6 485.6 465.9 485.7 466.1 485.7 466.2 485.8 466.5 485.8 466.6 485.6 467 485.8 467.1 485.6 467.4 485.8 467.5 485.7 467.6 485.8 467.7 485.6 467.9 485.8 468.3 485.7 468.5 485.8 468.6 485.6 468.8 485.8 468.9 485.6 469 485.8 469.4 485.6 469.6 485.8 470.1 485.6 470.2 485.8 470.4 485.6 470.6 485.8 470.7 485.7 470.9 485.8 471.2 485.6 471.6 485.8 472.4 485.7 472.6 485.8 472.7 485.7 473 485.8 473.5 485.6 473.8 485.8 474.2 485.8 474.3 485.7 474.4 485.8 474.6 485.5 474.7 485.8 474.8 485.5 474.9 485.8 475 485.7 475.1 485.8 475.3 485.7 475.6 485.8 475.7 485.5 475.9 485.8 476.2 485.7 476.3 485.8 476.4 485.7 476.7 485.8 476.9 485.7 477.1 485.8 477.2 485.6 477.3 485.7 477.4 485.6 477.6 485.8 477.8 485.8 477.9 485.5 478.2 485.8 478.5 485.6 478.6 485.8 478.7 485.5 478.9 485.8 479.4 485.6 479.5 485.6 479.6 485.8 479.7 485.6 479.8 485.8 479.9 485.6 480 485.7 480.2 485.6 480.4 485.7 480.7 485.6 480.8 485.7 481.4 485.4 481.6 484.7 481.9 482.2 482.2 485.1 482.3 485.4 482.7 485.6 483.3 485.7 483.4 485.6 483.6 485.7 483.9 485.5 484 485.7 484.3 485.5 484.5 485.8 484.7 485.6 485 485.7 485.1 485.6 485.6 485.8 485.9 485.4 486 485.8 486.3 485.7 486.4 485.8 486.5 485.6 486.6 485.8 487 485.6 487.1 485.8 487.3 485.7 487.9 485.7 488.1 485.8 488.6 485.7 488.7 485.8 489.2 485.8 489.3 485.6 489.6 485.8 489.8 485.7 490 485.8 490.2 485.6 490.4 485.7 490.6 485.7 491.1 485.8 491.4 485.7 491.7 485.8 492.3 485.7" fill="none" stroke="#008080" stroke-width="1.15" stroke-linejoin="round" />
</g>
<line x1="349.2" y1="486.07" x2="492.5" y2="486.07" stroke="#008080" stroke-width="1.1" />
<line x1="349.82" y1="486.07" x2="349.82" y2="485.27" stroke="#333" stroke-width="0.6" />
<line x1="358.2" y1="486.07" x2="358.2" y2="484.87" stroke="#333" stroke-width="0.6" />
<line x1="366.58" y1="486.07" x2="366.58" y2="485.27" stroke="#333" stroke-width="0.6" />
<line x1="374.96" y1="486.07" x2="374.96" y2="484.87" stroke="#333" stroke-width="0.6" />
<line x1="383.34" y1="486.07" x2="383.34" y2="485.27" stroke="#333" stroke-width="0.6" />
<line x1="391.72" y1="486.07" x2="391.72" y2="484.87" stroke="#333" stroke-width="0.6" />
<line x1="400.1" y1="486.07" x2="400.1" y2="485.27" stroke="#333" stroke-width="0.6" />
<line x1="408.48" y1="486.07" x2="408.48" y2="484.87" stroke="#333" stroke-width="0.6" />
<line x1="416.86" y1="486.07" x2="416.86" y2="485.27" stroke="#333" stroke-width="0.6" />
<line x1="425.24" y1="486.07" x2="425.24" y2="484.87" stroke="#333" stroke-width="0.6" />
<line x1="433.62" y1="486.07" x2="433.62" y2="485.27" stroke="#333" stroke-width="0.6" />
<line x1="442" y1="486.07" x2="442" y2="484.87" stroke="#333" stroke-width="0.6" />
<line x1="450.38" y1="486.07" x2="450.38" y2="485.27" stroke="#333" stroke-width="0.6" />
<line x1="458.76" y1="486.07" x2="458.76" y2="484.87" stroke="#333" stroke-width="0.6" />
<line x1="467.14" y1="486.07" x2="467.14" y2="485.27" stroke="#333" stroke-width="0.6" />
<line x1="475.52" y1="486.07" x2="475.52" y2="484.87" stroke="#333" stroke-width="0.6" />
<line x1="483.9" y1="486.07" x2="483.9" y2="485.27" stroke="#333" stroke-width="0.6" />
<line x1="492.28" y1="486.07" x2="492.28" y2="484.87" stroke="#333" stroke-width="0.6" />
<text x="488.4" y="472.43" font-size="4.9" text-anchor="end" fill="#000" stroke="#1a1a1a" stroke-width="0.1">MGFM 80 °C</text>
<clipPath id="clipK4"><rect x="349.2" y="486.07" width="143.3" height="27.44"/></clipPath>
<g clip-path="url(#clipK4)">
<path d="M349 513.2 349.1 513.2 349.2 513.1 349.5 513.1 349.6 513 349.7 513.2 350.1 513.1 350.5 513.2 350.6 513.1 350.7 513.2 350.9 513.1 351 513.2 351.1 513.1 351.2 513.2 351.6 513.1 351.7 513.2 352.1 513.1 352.2 513.2 352.3 513.1 352.4 513.2 352.5 513 352.6 513.2 352.8 513 352.9 513.2 353.4 513 353.5 513 353.9 512.4 354.2 511 354.5 512.5 354.6 512.5 355 513.1 355.2 513.1 355.3 513 355.4 513.1 355.5 513 355.7 513.2 355.9 513 356 513.1 356.5 513.2 356.8 513 357 513.2 357.1 513.1 357.3 513.2 357.5 513.1 357.7 513.2 357.8 513 357.9 513.1 358.1 513 358.3 513.1 358.4 512.9 358.5 513 359.1 512.5 359.5 510.3 359.9 512.3 360 512.2 360.1 512.5 360.2 512.5 360.6 512.2 360.7 511.8 361 508.8 361.4 511.5 361.6 512.4 361.9 512.8 361.9 512.8 362.3 513 362.5 512.9 362.7 513.1 362.8 513 363.1 513.2 363.2 512.9 363.3 513.1 363.5 513.2 363.6 512.9 363.7 513.2 363.9 513.1 364 513.1 364.1 513 364.2 513.2 364.4 513.2 364.6 512.9 364.7 513.2 364.8 513.2 364.9 513.1 365.1 513.2 365.2 513.2 365.3 513.2 365.9 513.2 366.1 513.1 366.3 513.2 366.6 513.1 366.7 513.2 367 513.2 367.1 513 367.2 513.2 367.3 513.2 367.7 513.1 367.8 512.9 367.9 513.3 368.3 513.1 368.4 513.3 368.6 513.2 368.9 513.2 369 513 369.3 513.2 369.4 513.1 369.5 513.2 369.9 513.2 370.1 513.1 370.2 513.2 370.3 513.1 370.4 513.2 370.8 513.2 370.9 513 371 513.2 371.2 513.1 371.4 513.2 372 513.2 372.5 513 372.7 513.2 373 513.1 373.2 513.2 373.4 513.1 373.5 513.2 373.8 513.2 373.9 513.1 374 513.2 374.3 513.1 374.4 513.1 374.5 512.8 374.6 513 375 512.6 375 512.8 375.2 512.7 375.3 512.9 375.6 513.1 375.8 513.2 376 513 376.1 513.2 376.3 513.1 376.4 513.2 376.8 513.1 377.1 513.2 377.5 513 377.6 513.2 377.7 513 377.9 513.2 378.3 513.2 378.4 513.1 378.5 513.2 378.7 513.1 379.3 513.2 379.4 513.1 379.7 513.1 379.9 513.2 380.1 513 380.5 513.2 380.8 513.2 380.9 513 381 513.3 381.3 513.1 381.6 513.2 381.8 513.1 381.9 513.2 382.1 513.2 382.2 513 382.3 513.2 382.4 513.1 382.5 513.2 382.8 513.1 382.9 513.2 383.5 513.1 383.6 513.2 383.8 513.2 383.9 513 384.2 513.2 384.5 513.1 384.6 513.2 384.9 513.1 385.1 513.2 385.2 513 385.4 513.2 386.3 513.2 386.4 513.1 386.5 513.2 386.9 513.2 387.2 513 387.4 513.3 387.6 513.1 387.7 513.2 387.9 513.1 388 513.2 388.3 513 388.5 513.2 389.5 513.2 389.6 513 389.9 513.2 390.2 513.2 390.4 513 390.5 513.2 390.7 513 390.9 513.2 391.4 513.1 391.7 513.1 391.8 513.2 391.9 512.9 392.1 513.2 392.2 513.1 392.4 513.2 392.5 513.1 392.6 513.2 392.7 513.1 393.4 513.2 393.4 513 393.7 513.2 393.8 512.9 393.9 513.2 394.2 512.9 394.4 513.1 394.6 513 394.8 513.1 395.6 512.8 396 512.3 396.2 511.7 396.4 509.4 396.7 486.1 396.9 502.9 397.1 510.1 397.2 511.2 397.5 512.4 397.9 512.9 398 512.8 398.4 513 398.5 513 398.6 512.8 398.7 513.1 398.8 512.9 399.4 513.1 399.5 512.9 399.6 513 399.7 512.9 399.8 513.1 399.9 512.9 400 513.1 400.1 513 400.2 512.8 400.3 512.9 400.4 512.8 400.5 512.9 401 512.2 401.4 510.7 401.8 512 402 512.4 402.3 512.2 402.6 511.8 402.7 511.9 403 512.3 403.1 512.7 403.8 513.1 403.9 512.9 404 513.1 404.1 513.1 404.2 512.9 404.4 513.2 404.8 513.1 405 513.2 405.1 513 405.3 513.2 405.7 513.1 405.9 513 406 513.1 406.2 513 406.4 513.2 406.6 513.2 406.8 513 406.8 513.2 407 513.2 407.3 513.2 407.4 513.1 407.5 513.2 407.6 513.1 408 513.2 408.2 513 408.3 513.2 408.4 513.1 408.5 513.1 408.5 513.2 408.6 513.1 408.7 513.2 408.8 513 409.1 513.2 409.4 513.1 409.8 513.2 409.9 512.9 410.1 513.2 410.4 513.2 410.5 513 410.7 513.2 410.8 513 411 513 411.1 513.2 411.2 513 411.4 513.2 411.7 513.2 411.8 513.2 411.9 513.1 412 513.2 412.1 513.1 412.6 513.2 412.7 513.1 412.8 513.2 412.9 513 413 513.2 413.1 512.9 413.2 513.2 413.4 513.1 413.5 513.2 413.7 513 413.8 513.2 413.9 513 414.1 513.2 414.3 513.1 414.4 513.2 414.7 513.1 414.8 513.2 415 513.1 415.2 513.2 415.3 513 415.5 513.2 415.8 513.1 415.9 513.2 416.1 513.2 416.3 512.9 416.4 513.2 416.5 513 416.7 513.2 416.9 513.1 417 513.2 417.2 513 417.3 513.2 417.4 513.1 417.5 513.2 417.6 513.1 417.7 513.2 417.8 513 417.9 513.2 418.2 513 418.3 513.1 418.5 512.9 418.6 513.1 419.2 512.7 419.6 511.6 419.9 505.7 420.3 512 420.7 512.9 420.8 512.8 421 513 421.1 512.9 421.2 513.1 421.3 513 421.5 513.1 421.7 512.9 421.9 513.2 422.3 513 422.4 513.2 422.5 513.1 422.9 513.2 423.2 513.1 423.3 513.2 423.4 513 423.6 513.1 423.7 513 423.8 513.2 423.9 513.1 424 513.2 424.3 513.1 424.4 513.2 424.9 513.1 425 513.2 425.1 513.1 425.5 513.2 425.6 513.1 425.8 513.2 426 513.1 426.1 512.9 426.2 513.2 426.5 513 426.6 513.2 426.8 513 426.9 513.2 427.2 513.2 427.3 513 427.4 513.2 427.7 513.2 427.9 512.8 428 513.2 428.2 513.3 428.3 513.2 428.4 513.2 428.5 513.1 428.6 513.2 428.7 513.2 428.8 513.2 428.9 513 429.1 513.2 429.3 513.2 429.4 513.1 429.7 513.3 429.8 513.1 430.4 513.2 430.5 513 430.7 513.2 430.9 513 431.2 513.2 431.5 513.1 431.9 513.3 432.2 513.1 432.3 513.2 432.6 513.2 432.7 512.9 432.8 513.2 433 513.2 433.1 513.1 433.3 513.2 433.4 512.9 433.5 513.2 433.7 513.3 434.1 513.3 434.2 513.1 434.4 513.2 434.5 513.1 434.6 513.2 434.8 513 435 513.2 435.6 513.1 435.8 513.2 435.9 513.1 436.1 513.3 436.3 513 436.6 513.3 436.8 513.1 437 513.2 437.3 513.1 437.4 513.3 437.5 513.1 437.7 513.2 437.8 513.1 437.9 513.3 438 513.1 438.1 513.2 438.4 513.1 438.5 513.2 438.9 513 439.3 513.3 439.6 513.1 439.7 513.2 440.1 512.9 440.2 513.2 440.6 513.1 440.7 513.2 440.9 513.2 441 513.1 441.3 513.2 441.7 513.1 441.9 513.2 442.5 513.2 442.6 513.1 443 513.2 443.2 512.9 443.3 513.2 443.6 513.1 443.8 513.2 444.2 513 444.4 513.2 444.7 512.9 444.9 512.9 445.1 512.4 445.4 509.7 445.7 512.5 445.9 512.9 446 513 446.1 512.9 446.5 513.2 446.9 513.1 447 513.2 447.1 513 447.3 513.1 447.4 512.8 447.6 513.2 448.1 513.2 448.2 513 448.3 513.3 448.5 513.1 448.6 513.2 449 513 449.1 513.2 449.2 513.1 449.3 513.2 449.5 513.2 449.7 513.1 449.8 512.9 450 513.2 450.2 513.1 450.3 513.2 450.5 513.1 450.6 513.3 450.8 513.1 450.9 513.2 451.1 513.1 451.2 513.2 451.3 513.1 451.4 513.2 452.6 513.2 452.7 513.1 452.8 513.3 453.6 513.2 453.8 513.2 453.9 513.1 454 513.1 454.1 512.9 454.2 513.2 454.4 513.1 454.5 513.2 454.6 513.1 454.7 513.3 454.9 513.1 455.1 513.2 455.3 513.1 455.4 513.2 455.6 513.2 455.8 513.1 456.2 513.2 456.8 513.1 456.9 513.3 457.2 513.1 457.4 513.2 457.8 513.3 458 513.1 458.8 513.2 459 513.1 459.3 513.2 459.4 513.1 459.5 513.2 459.7 512.9 459.8 513.1 460.1 513.1 460.2 513 460.3 513.2 460.5 513.1 461 513.2 461.2 513 461.3 513.2 461.6 513.2 461.7 513.3 461.8 513.1 461.9 513.2 462.4 513.2 462.5 513.1 462.8 513.2 463.2 513.1 463.3 513.2 463.6 513.2 463.7 513 463.9 513.2 464 513.1 464.1 513.2 464.2 513.1 464.3 513.2 464.8 513.2 464.9 513.1 465.3 513.2 466 513 466.1 513.2 466.2 513.1 466.3 513.3 466.5 513.2 466.6 513 466.7 513.2 466.9 513.2 467 513.3 467.1 513.1 467.3 513.2 467.4 513.1 467.6 513.2 467.7 513 467.9 513.2 468 513.1 468.3 513.2 468.5 513.1 468.6 513.2 468.8 513.1 468.9 513.2 469.1 513.2 469.2 513 469.4 513.2 469.8 513.1 470 513.2 470.6 513.2 470.8 513.1 470.9 513.3 471.2 513.3 471.7 513.1 472.1 513.2 472.4 513.1 472.6 513.2 472.8 513.1 472.9 513.2 473 513.2 473.2 513 473.3 513.2 473.8 513.1 474 513.2 474.2 513.1 474.3 513.2 474.7 513.1 474.9 513.2 475.4 513.1 475.6 513.2 475.9 513 476.1 513.2 476.9 513.2 477.3 513.1 477.5 513.2 477.6 513 477.8 513.2 478 513 478.3 513.2 478.6 513.1 478.7 513.2 478.8 513.1 478.9 513.2 479.2 513 479.3 513.2 479.5 513 479.6 513.2 479.7 513.1 479.8 513.2 479.9 513 480 513.2 480.5 513.1 480.6 513.2 480.9 513.1 481.1 512.9 481.2 513 481.5 512.7 481.9 509.9 482.1 512.2 482.2 512.6 482.3 512.5 482.4 512.9 482.8 513.1 483.2 513.2 483.5 513 483.7 513.2 483.9 513 484.5 513.2 484.6 513 484.8 513.2 485.4 513.2 485.5 513 485.8 513.2 485.9 513.1 486.3 513.2 486.9 513.2 487 513.3 487.1 513.1 487.3 513.3 487.5 513.1 487.6 513.2 487.9 513.2 488.1 513.1 488.2 513.2 488.5 513.2 488.6 513.1 488.7 513.2 489 513.1 489.1 513.2 489.2 513 489.4 513.2 489.5 512.9 489.6 513.3 489.7 513.1 489.8 513.2 489.9 513.1 490 513.3 490.2 513.1 490.3 513.2 490.4 513.1 490.6 513.2 490.7 513 490.8 513.2 490.9 513.1 491.3 513.2 491.5 513 491.7 513.2 491.8 512.9 491.9 513.2 492.3 513.2" fill="none" stroke="#0000ff" stroke-width="1.15" stroke-linejoin="round" />
</g>
<line x1="349.2" y1="513.51" x2="492.5" y2="513.51" stroke="#0000ff" stroke-width="1.1" />
<line x1="349.82" y1="513.51" x2="349.82" y2="512.71" stroke="#333" stroke-width="0.6" />
<line x1="358.2" y1="513.51" x2="358.2" y2="512.31" stroke="#333" stroke-width="0.6" />
<line x1="366.58" y1="513.51" x2="366.58" y2="512.71" stroke="#333" stroke-width="0.6" />
<line x1="374.96" y1="513.51" x2="374.96" y2="512.31" stroke="#333" stroke-width="0.6" />
<line x1="383.34" y1="513.51" x2="383.34" y2="512.71" stroke="#333" stroke-width="0.6" />
<line x1="391.72" y1="513.51" x2="391.72" y2="512.31" stroke="#333" stroke-width="0.6" />
<line x1="400.1" y1="513.51" x2="400.1" y2="512.71" stroke="#333" stroke-width="0.6" />
<line x1="408.48" y1="513.51" x2="408.48" y2="512.31" stroke="#333" stroke-width="0.6" />
<line x1="416.86" y1="513.51" x2="416.86" y2="512.71" stroke="#333" stroke-width="0.6" />
<line x1="425.24" y1="513.51" x2="425.24" y2="512.31" stroke="#333" stroke-width="0.6" />
<line x1="433.62" y1="513.51" x2="433.62" y2="512.71" stroke="#333" stroke-width="0.6" />
<line x1="442" y1="513.51" x2="442" y2="512.31" stroke="#333" stroke-width="0.6" />
<line x1="450.38" y1="513.51" x2="450.38" y2="512.71" stroke="#333" stroke-width="0.6" />
<line x1="458.76" y1="513.51" x2="458.76" y2="512.31" stroke="#333" stroke-width="0.6" />
<line x1="467.14" y1="513.51" x2="467.14" y2="512.71" stroke="#333" stroke-width="0.6" />
<line x1="475.52" y1="513.51" x2="475.52" y2="512.31" stroke="#333" stroke-width="0.6" />
<line x1="483.9" y1="513.51" x2="483.9" y2="512.71" stroke="#333" stroke-width="0.6" />
<line x1="492.28" y1="513.51" x2="492.28" y2="512.31" stroke="#333" stroke-width="0.6" />
<text x="488.4" y="499.77" font-size="4.9" text-anchor="end" fill="#000" stroke="#1a1a1a" stroke-width="0.1">MGFM 60 °C</text>
<clipPath id="clipK5"><rect x="349.2" y="513.51" width="143.3" height="27.44"/></clipPath>
<g clip-path="url(#clipK5)">
<path d="M349 540.5 349.1 540.7 349.2 540.5 349.3 540.5 349.4 540.7 349.9 540.5 350 540.7 350.1 540.5 350.5 540.6 350.8 540.5 350.9 540.6 351 540.5 351.1 540.6 351.5 540.5 351.7 540.7 352.6 540.7 353 540.6 353.1 540.4 353.2 540.6 353.7 540.3 354.2 538.6 354.5 540 354.9 540.4 355.2 540.6 355.3 540.4 355.5 540.6 355.6 540.4 355.9 540.6 356.6 540.6 356.9 540.5 357 540.5 357.1 540.3 357.2 540.6 357.3 540.4 357.4 540.6 357.6 540.5 357.9 540.6 358 540.4 358.1 540.5 358.3 540.3 358.5 540.5 358.9 540.1 359 540.1 359.2 539.5 359.5 537.8 359.9 539.7 360.1 539.8 360.4 539.8 360.7 538.9 361 535 361.5 539.2 361.7 539.9 361.9 540 362 540.3 362.5 540.5 362.6 540.4 362.7 540.5 362.9 540.6 363 540.3 363.2 540.6 363.3 540.5 363.8 540.6 363.9 540.4 364 540.6 364.7 540.7 365.1 540.5 365.5 540.7 365.7 540.4 366.2 540.7 366.4 540.6 366.6 540.7 366.7 540.4 366.9 540.7 367.2 540.7 367.3 540.5 367.4 540.7 367.7 540.5 367.8 540.7 368 540.5 368.1 540.7 368.3 540.6 368.4 540.7 368.5 540.5 368.6 540.7 368.8 540.5 369 540.7 369.1 540.5 369.2 540.7 369.5 540.7 369.6 540.5 369.8 540.7 370 540.4 370.1 540.6 370.6 540.7 371 540.5 371.4 540.5 371.5 540.7 371.6 540.6 371.8 540.7 372.1 540.6 372.2 540.5 372.3 540.7 372.6 540.5 372.7 540.7 373.2 540.4 373.3 540.6 373.4 540.6 373.6 540.6 373.8 540.5 374 540.6 374.3 540.4 374.6 540.4 374.7 540.2 374.8 540.3 374.9 540 375.1 540.2 375.2 540.1 375.4 540.5 375.8 540.6 376.2 540.6 376.4 540.7 376.7 540.5 377 540.7 377.5 540.6 377.6 540.7 377.9 540.5 378.2 540.7 378.5 540.5 378.6 540.7 379 540.4 379.2 540.7 379.3 540.5 379.4 540.7 379.7 540.6 379.8 540.5 380.1 540.7 380.8 540.7 380.9 540.6 381.1 540.7 381.2 540.4 381.3 540.7 381.5 540.5 381.6 540.6 381.7 540.5 381.8 540.6 382.2 540.5 382.4 540.6 382.7 540.5 382.8 540.7 383.1 540.6 383.3 540.7 383.5 540.5 383.6 540.7 384 540.6 384.1 540.7 384.4 540.6 384.5 540.7 384.8 540.7 384.9 540.6 385.1 540.7 385.4 540.6 385.5 540.4 385.7 540.6 385.8 540.5 386 540.7 386.7 540.7 386.8 540.6 387.3 540.7 387.4 540.5 387.5 540.6 387.7 540.5 387.8 540.7 387.9 540.6 388.4 540.6 388.7 540.7 388.8 540.4 389 540.6 389.4 540.7 389.5 540.5 389.9 540.7 390.1 540.5 390.4 540.7 390.5 540.4 390.7 540.6 391.1 540.6 391.2 540.4 391.3 540.7 391.7 540.4 391.8 540.6 392 540.6 392.1 540.7 392.1 540.5 392.3 540.5 392.4 540.7 392.9 540.6 393.1 540.5 393.2 540.6 393.4 540.4 393.6 540.6 393.7 540.5 393.8 540.6 394.4 540.5 394.5 540.3 394.8 540.5 395 540.3 395.3 540.4 395.6 540.1 395.8 540.2 396.1 539.5 396.3 538.4 396.5 534.2 396.7 513.6 396.9 530.4 397.1 537.4 397.4 539.6 397.7 540.2 397.8 540 397.9 540.3 398.1 540.2 398.4 540.5 398.8 540.5 398.9 540.2 399 540.5 399.1 540.3 399.2 540.5 399.3 540.2 399.4 540.5 399.5 540.1 399.6 540.6 399.7 540.4 399.9 540.5 400.2 540.2 400.4 540.3 400.7 540.2 401 539.7 401.4 538 401.9 539.7 402.1 539.8 402.2 539.6 402.4 539.5 402.7 539.1 403.1 540.1 403.2 540.1 403.4 540.4 403.5 540.2 403.5 540.4 403.7 540.5 403.8 540.4 404.1 540.5 404.3 540.4 404.4 540.6 404.5 540.4 404.7 540.6 404.9 540.6 405 540.4 405.1 540.6 405.2 540.4 405.3 540.5 405.5 540.5 405.6 540.6 406.3 540.6 406.4 540.4 406.8 540.6 407.4 540.7 407.5 540.5 407.7 540.4 407.8 540.7 408.2 540.7 408.5 540.5 408.8 540.7 409 540.5 409.2 540.7 409.4 540.5 409.6 540.7 409.8 540.4 410 540.7 410.1 540.6 410.5 540.6 410.6 540.5 410.7 540.7 410.8 540.6 411.4 540.6 411.5 540.5 412.1 540.7 412.3 540.6 412.4 540.5 412.5 540.7 412.8 540.5 412.9 540.7 413.1 540.6 413.2 540.7 413.4 540.4 413.5 540.7 413.6 540.6 413.8 540.7 414.2 540.7 414.3 540.4 414.4 540.7 414.6 540.5 414.7 540.6 414.9 540.5 415.2 540.7 415.4 540.6 415.5 540.7 415.6 540.6 415.9 540.6 416 540.4 416.1 540.6 416.4 540.7 416.6 540.5 416.9 540.7 417.3 540.5 417.7 540.6 417.8 540.5 417.9 540.6 418 540.4 418.2 540.6 418.4 540.5 418.5 540.6 418.7 540.4 418.8 540.5 419.4 540.1 419.6 539.3 419.9 534.1 420.3 539.6 420.7 540.4 420.8 540.3 421.1 540.5 421.1 540.2 421.2 540.6 421.5 540.5 421.7 540.6 421.9 540.5 422.3 540.6 422.4 540.4 422.5 540.7 422.6 540.4 422.9 540.7 423.1 540.5 423.3 540.6 423.4 540.5 423.8 540.6 424.4 540.5 424.5 540.7 425.6 540.7 425.9 540.5 426 540.6 426.2 540.5 426.5 540.6 426.6 540.6 426.7 540.7 426.9 540.4 427.3 540.7 427.4 540.6 427.9 540.7 428.2 540.5 428.3 540.6 428.4 540.5 428.6 540.6 428.8 540.4 429.1 540.7 429.2 540.6 429.3 540.6 429.4 540.5 429.7 540.7 429.8 540.5 429.9 540.5 430 540.7 430.2 540.5 430.4 540.7 430.6 540.6 430.7 540.7 430.8 540.6 431.1 540.7 431.2 540.5 431.3 540.7 431.5 540.5 431.6 540.7 431.9 540.5 432.1 540.7 432.2 540.5 432.3 540.6 432.5 540.5 432.6 540.7 432.9 540.6 433 540.5 433.1 540.7 433.2 540.6 433.3 540.7 433.6 540.7 433.7 540.6 434 540.6 434.1 540.5 434.9 540.7 435 540.5 435.2 540.6 435.3 540.5 435.4 540.6 435.5 540.5 435.6 540.7 435.7 540.5 435.9 540.7 436 540.5 436.3 540.7 436.5 540.5 436.6 540.6 436.9 540.5 437 540.7 437.1 540.5 437.2 540.7 437.5 540.7 437.6 540.6 437.7 540.7 437.9 540.5 438.2 540.7 438.3 540.6 438.5 540.7 438.8 540.6 438.9 540.7 439 540.5 439.1 540.7 439.8 540.7 440.2 540.5 440.3 540.7 440.6 540.6 440.9 540.7 441.3 540.6 441.6 540.6 441.8 540.5 442.1 540.7 442.4 540.5 442.6 540.7 442.8 540.5 442.9 540.6 443.1 540.5 443.2 540.7 443.6 540.4 443.7 540.7 443.9 540.5 444 540.6 444.1 540.5 444.2 540.6 444.3 540.5 444.5 540.6 444.8 540.4 445.1 539.7 445.4 537 445.8 540.2 446.1 540.5 446.2 540.4 446.3 540.6 446.5 540.5 446.6 540.6 446.9 540.5 447 540.6 447.1 540.3 447.3 540.6 447.5 540.5 447.7 540.6 447.8 540.4 448 540.7 448.3 540.5 448.4 540.7 448.7 540.7 448.9 540.5 449 540.7 449.1 540.5 449.3 540.6 449.4 540.5 449.6 540.7 450.1 540.7 450.2 540.5 450.4 540.6 450.6 540.5 450.7 540.7 450.8 540.5 450.9 540.6 451 540.3 451.1 540.7 451.5 540.5 451.6 540.7 451.9 540.5 452 540.7 452.2 540.5 452.3 540.6 452.4 540.5 452.5 540.6 452.6 540.5 452.7 540.7 453.2 540.6 453.4 540.7 453.7 540.5 453.8 540.7 454.1 540.6 454.2 540.7 454.3 540.5 454.5 540.7 454.6 540.6 454.7 540.7 454.9 540.7 455 540.6 455.1 540.7 455.4 540.7 455.5 540.6 455.6 540.7 455.7 540.5 455.8 540.7 455.9 540.5 456.1 540.5 456.2 540.7 456.5 540.4 456.7 540.7 456.8 540.5 456.9 540.7 457.2 540.5 457.6 540.7 457.9 540.5 458.1 540.7 458.2 540.6 458.3 540.2 458.4 540.6 458.6 540.5 458.8 540.7 459.2 540.5 459.4 540.6 459.6 540.5 460 540.7 460.2 540.4 460.3 540.6 460.4 540.5 460.7 540.7 461.1 540.7 461.2 540.5 461.3 540.7 461.8 540.7 461.9 540.6 462.3 540.7 462.6 540.5 462.9 540.7 463 540.4 463.2 540.6 463.3 540.6 463.4 540.7 463.5 540.6 463.8 540.7 463.9 540.5 464.1 540.6 464.2 540.6 464.3 540.7 464.4 540.6 464.5 540.7 464.6 540.6 464.9 540.7 465.3 540.5 465.4 540.7 465.8 540.4 465.9 540.6 466.1 540.5 466.2 540.7 466.3 540.5 466.6 540.7 466.8 540.5 467 540.6 467.4 540.5 467.5 540.7 467.7 540.7 467.8 540.5 467.9 540.6 468 540.6 468.2 540.7 468.3 540.5 468.8 540.7 468.9 540.6 469.3 540.7 469.8 540.5 470 540.7 470.1 540.6 470.6 540.7 470.8 540.5 471 540.6 471.2 540.5 471.3 540.6 471.6 540.5 471.7 540.7 471.8 540.5 472 540.7 472.1 540.6 472.2 540.7 472.3 540.5 472.5 540.7 472.7 540.5 472.8 540.7 473 540.6 473.1 540.7 473.2 540.6 473.7 540.7 473.8 540.4 474 540.7 474.2 540.5 474.3 540.7 474.6 540.6 474.9 540.7 475 540.4 475.1 540.7 475.2 540.6 475.3 540.6 475.4 540.5 475.7 540.7 475.9 540.6 476 540.5 476.1 540.6 476.3 540.5 476.4 540.7 476.5 540.5 476.6 540.7 477 540.6 477.1 540.7 477.5 540.6 477.6 540.4 477.7 540.7 477.8 540.6 477.9 540.7 478.1 540.6 478.5 540.7 478.7 540.5 479 540.6 479.1 540.5 479.2 540.7 479.3 540.5 479.6 540.7 479.8 540.4 479.9 540.7 480.2 540.6 480.3 540.4 480.4 540.6 480.9 540.5 481 540.6 481.3 540.4 481.6 539.7 481.9 537.2 482.1 539.6 482.3 540.3 482.7 540.5 483 540.6 483.1 540.5 483.4 540.6 483.6 540.5 483.7 540.6 484 540.5 484.3 540.7 484.6 540.5 484.7 540.6 484.9 540.5 485 540.7 485.2 540.5 485.4 540.7 485.6 540.7 485.7 540.5 486 540.7 486.3 540.7 486.4 540.5 486.5 540.7 487 540.7 487.2 540.7 487.3 540.5 487.7 540.7 488.2 540.5 488.3 540.6 488.6 540.6 488.7 540.7 489 540.6 489.1 540.7 489.3 540.5 489.4 540.6 489.5 540.5 489.9 540.7 490.8 540.7 490.9 540.5 491.1 540.7 491.2 540.5 491.7 540.7 491.8 540.5 491.9 540.7 492.2 540.5 492.3 540.6" fill="none" stroke="#ff0000" stroke-width="1.15" stroke-linejoin="round" />
</g>
<line x1="349.2" y1="540.96" x2="492.5" y2="540.96" stroke="#ff0000" stroke-width="1.1" />
<line x1="349.82" y1="540.96" x2="349.82" y2="540.16" stroke="#333" stroke-width="0.6" />
<line x1="358.2" y1="540.96" x2="358.2" y2="539.76" stroke="#333" stroke-width="0.6" />
<line x1="366.58" y1="540.96" x2="366.58" y2="540.16" stroke="#333" stroke-width="0.6" />
<line x1="374.96" y1="540.96" x2="374.96" y2="539.76" stroke="#333" stroke-width="0.6" />
<line x1="383.34" y1="540.96" x2="383.34" y2="540.16" stroke="#333" stroke-width="0.6" />
<line x1="391.72" y1="540.96" x2="391.72" y2="539.76" stroke="#333" stroke-width="0.6" />
<line x1="400.1" y1="540.96" x2="400.1" y2="540.16" stroke="#333" stroke-width="0.6" />
<line x1="408.48" y1="540.96" x2="408.48" y2="539.76" stroke="#333" stroke-width="0.6" />
<line x1="416.86" y1="540.96" x2="416.86" y2="540.16" stroke="#333" stroke-width="0.6" />
<line x1="425.24" y1="540.96" x2="425.24" y2="539.76" stroke="#333" stroke-width="0.6" />
<line x1="433.62" y1="540.96" x2="433.62" y2="540.16" stroke="#333" stroke-width="0.6" />
<line x1="442" y1="540.96" x2="442" y2="539.76" stroke="#333" stroke-width="0.6" />
<line x1="450.38" y1="540.96" x2="450.38" y2="540.16" stroke="#333" stroke-width="0.6" />
<line x1="458.76" y1="540.96" x2="458.76" y2="539.76" stroke="#333" stroke-width="0.6" />
<line x1="467.14" y1="540.96" x2="467.14" y2="540.16" stroke="#333" stroke-width="0.6" />
<line x1="475.52" y1="540.96" x2="475.52" y2="539.76" stroke="#333" stroke-width="0.6" />
<line x1="483.9" y1="540.96" x2="483.9" y2="540.16" stroke="#333" stroke-width="0.6" />
<line x1="492.28" y1="540.96" x2="492.28" y2="539.76" stroke="#333" stroke-width="0.6" />
<text x="488.4" y="526.01" font-size="4.9" text-anchor="end" fill="#000" stroke="#1a1a1a" stroke-width="0.1">MGFM 40 °C</text>
<clipPath id="clipK6"><rect x="349.2" y="540.96" width="143.3" height="27.44"/></clipPath>
<g clip-path="url(#clipK6)">
<path d="M349 568.1 349.1 567.9 349.2 568.1 349.8 568 349.9 568.1 350.3 568 350.5 568.1 350.6 568 350.7 568.1 350.9 567.7 351 568 351.2 567.9 351.4 568.1 352.3 568 352.4 568.1 352.5 567.9 352.7 567.9 352.8 568 353.1 568 353.2 567.8 353.4 567.9 353.7 567.5 354.2 565.5 354.5 567.2 355 567.8 355.3 568 355.4 567.8 355.9 568 356 567.8 356.4 568 356.6 567.9 356.8 568 357 568 357.1 567.9 357.4 567.9 357.5 568 357.6 567.8 357.7 567.9 358.1 567.7 358.3 567.9 358.7 567.7 359.1 567 359.5 562.7 359.8 566 360 566.8 360.1 566.7 360.2 566.9 360.6 566.1 360.7 565.4 361 557.3 361.3 562.5 361.5 564.6 361.6 565 361.9 565.6 362 565.6 362.7 567.2 362.9 567.4 363 567.3 363.2 567.6 363.3 567.4 363.5 567.8 363.6 567.7 363.6 567.8 363.7 567.7 363.8 567.8 364.2 567.9 364.4 567.8 364.9 568 365.2 567.9 365.3 568 365.5 567.8 365.7 568 365.9 567.9 366 568 366.3 567.9 366.4 568 366.5 567.9 366.6 568 366.7 567.9 367 568.1 367.3 568 367.4 568.1 367.4 567.9 367.6 568.1 367.7 568 368 568.1 368.2 567.9 368.3 568.1 368.4 567.9 368.9 568 369 567.9 369.2 568 369.3 567.8 369.4 568 369.9 567.9 370.1 568.1 370.5 567.9 370.7 568.1 371.1 568 371.4 568.1 371.5 568 371.6 568.1 371.8 567.9 371.9 568.1 372 568.1 372.1 568 372.4 568 372.5 567.8 372.6 568 372.8 567.9 373.1 568.1 373.3 568 373.4 567.9 373.8 568.1 374.1 568 374.3 567.8 374.4 567.9 375 567.3 375.3 567.8 375.5 567.8 375.6 567.9 375.8 567.8 375.9 568 376 567.9 376.2 568 376.5 568.1 376.7 567.9 376.8 568 376.9 567.8 377 568 377.3 567.9 377.6 568 377.8 567.7 377.9 567.8 378.1 567.5 378.3 567.4 378.8 567.8 378.9 567.8 379 567.9 379.2 567.8 379.3 568 379.5 567.9 379.6 568 379.8 567.9 379.9 568.1 380.1 568.1 380.2 567.8 380.3 568.1 380.5 568 380.6 568.1 380.7 567.9 380.8 568.1 380.9 568 381.3 568.1 381.6 568 381.7 567.8 381.8 568.1 382 568 382.1 568.1 382.4 568 382.6 568.1 382.7 567.8 383 568.1 383.2 568 383.6 568.1 383.7 568 384.1 568.1 384.2 568 384.9 568.1 385 568 385.1 568.1 385.2 568 385.5 568.1 385.9 567.9 386 568.1 386.2 568.1 386.4 567.8 386.6 568.1 386.7 568.1 386.9 568 387.1 568.1 387.4 568 387.5 568.1 387.6 568 387.8 568 387.9 567.8 388 568 388.3 568 388.5 568.1 388.6 568 388.7 568.1 389 568 389.1 568.1 389.2 568 389.3 568.1 390 568.1 390.2 568.1 390.3 567.9 390.5 568.1 390.7 567.8 390.8 568.1 391 568 391.2 568.1 391.5 568 391.6 568 391.7 567.9 392 568.1 392.1 568 392.4 568.1 392.6 568 392.7 568.1 392.9 567.9 393 568 393.3 568.1 393.4 567.9 393.4 568.1 393.5 567.9 393.7 568.1 393.8 567.9 393.9 568.1 394.3 568 394.4 567.9 394.6 568 395.1 567.9 395.2 567.8 395.3 567.9 395.6 567.6 395.7 567.6 395.9 567.4 396.1 567 396.3 565.8 396.4 564.3 396.7 541.1 396.9 557.8 397.1 565.1 397.4 567 397.6 567.4 397.7 567.4 398.3 567.9 398.4 567.9 398.4 567.8 398.7 567.9 399 567.8 399.3 567.9 399.5 567.7 399.7 567.9 399.8 567.7 399.9 567.8 400.1 567.5 400.3 567.5 400.6 566.7 400.9 564.7 401.2 566.2 401.4 566.9 401.5 566.8 401.8 566.1 402.1 563.4 402.3 565.5 402.6 566.9 402.9 567 403.1 566.8 403.5 565.9 403.9 567.2 404.1 567.5 404.2 567.4 404.4 567.8 404.7 567.9 405 567.8 405.2 568 405.3 567.9 405.5 568.1 405.6 567.9 405.7 568 405.8 567.9 405.9 568 406.3 568.1 406.4 568 406.5 568.1 406.8 568 406.8 568.1 406.9 568 407.4 568.1 407.5 567.9 407.6 568.1 407.7 568 407.8 568.1 407.9 568 408.1 568.1 408.2 568 408.6 568.1 408.7 567.9 409.9 568.1 410.1 568 410.3 568.1 410.4 568 411 568.1 411.2 567.9 411.4 568.1 411.5 568 411.6 568.1 411.7 568 412 568.1 412.1 568 412.4 568.1 412.5 567.9 412.7 568.1 412.8 567.9 413 567.9 413.2 568 413.3 567.9 413.4 568.1 413.8 568 413.9 568.1 414 568 414.1 568.1 414.6 568.1 414.7 568 414.9 568.1 415 568 415.2 568.1 415.7 568 415.8 568.1 416.1 568 416.5 568.1 417.3 568.1 417.4 567.9 417.5 568 417.7 567.8 417.8 568 417.9 567.9 418.3 568 418.4 567.9 418.5 567.9 418.9 567.7 419.4 566.9 419.6 565.2 419.9 555.3 420.3 566.2 420.4 566.8 420.7 567.6 421 567.8 421.1 567.9 421.2 567.7 421.3 567.9 421.5 567.9 421.7 568 421.8 568 421.9 567.9 422.2 568 422.3 567.9 422.4 568 422.5 567.9 422.6 568 422.9 568.1 423.1 567.9 423.2 568 423.3 567.9 423.7 568.1 423.9 568.1 424 567.9 424.1 568.1 424.2 567.9 424.3 568.1 424.4 568 424.7 568.1 424.8 568 424.9 568.1 425 568 425.7 568.1 425.9 568.1 426.1 567.8 426.3 568.1 427.2 567.9 427.5 568.1 427.6 568 427.9 568 428 568.1 428.3 567.9 428.6 568.1 429.3 568 430 568.1 430.3 567.8 430.4 568 430.5 568 430.6 568 431.2 568 431.4 568.1 431.9 568 432.4 568.1 432.6 568 432.7 568.1 432.9 568 433 568.1 433.1 567.9 433.4 568.1 433.6 567.9 433.7 568 433.8 568 433.9 568.1 434 567.9 434.3 568.1 434.5 568 434.9 568.1 435 567.9 435.1 568.1 435.3 568.1 435.4 568 435.5 568.1 435.7 568 436.1 568.1 436.3 567.9 436.4 568.1 436.8 568.1 436.9 567.9 437.1 568.1 437.2 568 437.5 568.1 437.7 567.9 437.8 568.1 437.9 568 438 568.1 438.2 568.1 438.3 567.9 438.4 568.1 438.5 568 438.6 568.1 438.9 568.1 439.1 567.9 439.4 568.1 439.6 568 439.7 568.1 440 568.1 440.2 567.9 440.5 568.1 440.7 568 440.8 568.1 441.2 568.1 441.3 567.9 441.4 568.1 441.8 568 442.1 568.1 442.6 568 442.7 568.1 442.8 568 442.9 568.1 443 568 443.2 568.1 443.6 567.9 443.7 568.1 443.9 568 444 568.1 444.2 567.8 444.4 567.9 444.5 567.7 444.7 567.8 445 567.3 445.2 565.9 445.4 562.7 445.6 566.1 445.8 567.3 446 567.8 446.4 567.9 446.5 567.8 446.6 568 446.7 567.8 446.8 568 446.9 567.9 447 568.1 447.1 568 447.2 568.1 447.4 567.8 447.7 568.1 447.8 568 448.2 568.1 448.3 568 448.4 568.1 448.7 568.1 449 568 449.2 568.1 449.3 567.9 449.4 568.1 449.5 567.9 449.7 568.1 449.8 567.9 449.9 568.1 450.4 568 450.6 568.1 450.7 567.9 450.8 568.1 450.9 568 451 568.1 451.1 567.9 451.2 568.1 451.3 568 451.7 568.1 451.8 568 452 568.1 452.1 568 452.3 568.1 453 568 453.2 568.1 453.4 568 453.5 568.1 453.7 567.9 453.9 567.9 454 568.1 454.2 568.1 454.3 567.8 454.4 568.1 454.6 567.9 455.1 568.1 455.3 568 455.4 568.1 455.5 567.9 455.7 568.1 455.9 568 456.4 568 456.5 567.9 457 568.1 457.1 567.9 457.4 568.1 457.7 568 457.8 568.1 458 567.9 458.6 568.1 459.1 568 459.2 567.9 459.4 568.1 459.8 568 459.9 568.1 460.2 568.1 460.6 567.8 461 568.1 461.1 568.1 461.2 568.1 461.3 567.9 461.4 568.1 461.6 568 461.7 568.1 461.8 567.9 462 568.1 462.2 568 462.4 568.1 462.6 567.9 462.7 568.1 462.8 568 463.1 568.1 463.2 568 463.4 568.1 463.5 567.9 463.6 568.1 463.9 568 464 568.1 464.4 567.9 464.5 568.1 464.7 567.9 464.8 568.1 464.9 567.9 465 568.1 465.2 567.9 465.3 568.1 465.6 567.9 465.8 568.1 466 568 466.3 568.1 466.4 568 466.8 568.1 467.1 567.9 467.3 568.1 467.4 567.9 467.5 568.1 467.7 568 467.8 568.1 467.9 567.9 468 568.1 468.1 567.8 468.2 568.1 468.4 568 468.5 568.1 468.8 568 469 568.1 469.2 567.9 469.3 568.1 469.5 568.1 469.7 567.9 470 568.1 470.2 568 470.5 568.1 470.7 568 471.3 568.1 471.4 568 471.5 568.1 471.6 568 471.7 568.1 471.9 568 472 568.1 472.2 568 472.3 568.1 472.6 568 472.7 568.1 473 568 473.2 568.1 473.6 567.9 473.8 568.1 474 567.9 474.2 568.1 474.3 568 474.4 568.1 474.5 567.9 474.6 568.1 475 567.9 475.1 568 475.3 568 475.5 568.1 475.9 568 476.1 568.1 476.2 567.9 476.3 568.1 476.4 568 476.5 568.1 476.6 568 476.7 568.1 476.8 568 476.9 568.1 477.6 567.9 477.8 568.1 478.6 568.1 478.7 567.9 478.9 568.1 479.2 568 479.5 568.1 480 568 480.2 568.1 480.4 567.9 480.5 568 480.6 567.9 480.8 568 481.1 567.9 481.4 567.5 481.6 566.5 481.9 562.9 482.2 567.2 482.5 567.8 482.9 567.9 483.1 567.9 483.2 568 483.5 568.1 483.7 567.9 483.9 568 484 567.9 484.2 568 484.5 568 484.7 568.1 484.8 567.9 484.9 568 485 567.9 485.1 568 485.2 567.8 485.3 568 485.7 568 485.9 568.1 486.4 568 486.7 568.1 487 568 487.1 568.1 487.2 567.9 487.4 568.1 487.6 567.8 487.8 568.1 488.1 567.8 488.2 568.1 488.3 568.1 488.4 568 488.5 568.1 488.8 568 489 568.1 489.3 568 489.4 568.1 489.5 567.9 489.6 568.1 489.7 567.9 489.8 568.1 490.5 568.1 490.6 568 490.7 568.1 490.8 568 491.2 568.1 491.4 568 491.5 568.1 491.7 568 491.8 568.1 492.2 568 492.3 568.1" fill="none" stroke="#000000" stroke-width="1.15" stroke-linejoin="round" />
</g>
<line x1="349.82" y1="568.4" x2="349.82" y2="567.6" stroke="#333" stroke-width="0.6" />
<line x1="358.2" y1="568.4" x2="358.2" y2="567.2" stroke="#333" stroke-width="0.6" />
<line x1="366.58" y1="568.4" x2="366.58" y2="567.6" stroke="#333" stroke-width="0.6" />
<line x1="374.96" y1="568.4" x2="374.96" y2="567.2" stroke="#333" stroke-width="0.6" />
<line x1="383.34" y1="568.4" x2="383.34" y2="567.6" stroke="#333" stroke-width="0.6" />
<line x1="391.72" y1="568.4" x2="391.72" y2="567.2" stroke="#333" stroke-width="0.6" />
<line x1="400.1" y1="568.4" x2="400.1" y2="567.6" stroke="#333" stroke-width="0.6" />
<line x1="408.48" y1="568.4" x2="408.48" y2="567.2" stroke="#333" stroke-width="0.6" />
<line x1="416.86" y1="568.4" x2="416.86" y2="567.6" stroke="#333" stroke-width="0.6" />
<line x1="425.24" y1="568.4" x2="425.24" y2="567.2" stroke="#333" stroke-width="0.6" />
<line x1="433.62" y1="568.4" x2="433.62" y2="567.6" stroke="#333" stroke-width="0.6" />
<line x1="442" y1="568.4" x2="442" y2="567.2" stroke="#333" stroke-width="0.6" />
<line x1="450.38" y1="568.4" x2="450.38" y2="567.6" stroke="#333" stroke-width="0.6" />
<line x1="458.76" y1="568.4" x2="458.76" y2="567.2" stroke="#333" stroke-width="0.6" />
<line x1="467.14" y1="568.4" x2="467.14" y2="567.6" stroke="#333" stroke-width="0.6" />
<line x1="475.52" y1="568.4" x2="475.52" y2="567.2" stroke="#333" stroke-width="0.6" />
<line x1="483.9" y1="568.4" x2="483.9" y2="567.6" stroke="#333" stroke-width="0.6" />
<line x1="492.28" y1="568.4" x2="492.28" y2="567.2" stroke="#333" stroke-width="0.6" />
<text x="488.4" y="553.76" font-size="4.9" text-anchor="end" fill="#000" stroke="#1a1a1a" stroke-width="0.1">MFGM 20 °C</text>
<rect x="349.2" y="376.3" width="143.3" height="192.1" fill="none" stroke="#666" stroke-width="1"/>
<line x1="358.2" y1="568.4" x2="358.2" y2="570" stroke="#333" stroke-width="0.8" />
<text x="358.2" y="577" font-size="7.4" text-anchor="middle" fill="#000" stroke="#000" stroke-width="0.22" >1</text>
<line x1="374.96" y1="568.4" x2="374.96" y2="570" stroke="#333" stroke-width="0.8" />
<text x="374.96" y="577" font-size="7.4" text-anchor="middle" fill="#000" stroke="#000" stroke-width="0.22" >2</text>
<line x1="391.72" y1="568.4" x2="391.72" y2="570" stroke="#333" stroke-width="0.8" />
<text x="391.72" y="577" font-size="7.4" text-anchor="middle" fill="#000" stroke="#000" stroke-width="0.22" >3</text>
<line x1="408.48" y1="568.4" x2="408.48" y2="570" stroke="#333" stroke-width="0.8" />
<text x="408.48" y="577" font-size="7.4" text-anchor="middle" fill="#000" stroke="#000" stroke-width="0.22" >4</text>
<line x1="425.24" y1="568.4" x2="425.24" y2="570" stroke="#333" stroke-width="0.8" />
<text x="425.24" y="577" font-size="7.4" text-anchor="middle" fill="#000" stroke="#000" stroke-width="0.22" >5</text>
<line x1="442" y1="568.4" x2="442" y2="570" stroke="#333" stroke-width="0.8" />
<text x="442" y="577" font-size="7.4" text-anchor="middle" fill="#000" stroke="#000" stroke-width="0.22" >6</text>
<line x1="458.76" y1="568.4" x2="458.76" y2="570" stroke="#333" stroke-width="0.8" />
<text x="458.76" y="577" font-size="7.4" text-anchor="middle" fill="#000" stroke="#000" stroke-width="0.22" >7</text>
<line x1="475.52" y1="568.4" x2="475.52" y2="570" stroke="#333" stroke-width="0.8" />
<text x="475.52" y="577" font-size="7.4" text-anchor="middle" fill="#000" stroke="#000" stroke-width="0.22" >8</text>
<line x1="492.28" y1="568.4" x2="492.28" y2="570" stroke="#333" stroke-width="0.8" />
<text x="492.28" y="577" font-size="7.4" text-anchor="middle" fill="#000" stroke="#000" stroke-width="0.22" >9</text>
<text x="419.3" y="583.6" font-size="7.2" text-anchor="middle" fill="#000" stroke="#000" stroke-width="0.22" >ppm</text>
<text x="340.4" y="382.7" font-size="6.8" text-anchor="start" fill="#111" stroke="#111" stroke-width="0.22" >K</text>
<clipPath id="clipL"><rect x="505" y="374.5" width="175" height="62"/></clipPath>
<g clip-path="url(#clipL)">
<path d="M515.2 431.4 516.8 431.2 518.2 430.8 519.4 430.2 520.2 429.5 520.8 428.7 521.4 427.6 523 422.6 523.2 422.2 523.5 421.9 523.8 422.2 524 422.6 525.4 426.4 526.2 427.6 526.8 428 528.5 428.4 530.9 430.2 531.9 430.7 532.9 431 535.1 431.3 538.3 431.5 542.7 431.5 546.3 431.3 548.3 431 549.9 430.6 551.1 430 552 429 552.8 427.7 553.6 425.4 554.2 422.1 554.6 418.6 555.2 409.4 556 387.3 556.2 382.5 556.5 380.4 556.6 381.8 556.8 386.1 557.6 408.5 558.2 418.1 558.6 421.8 559.2 425.2 559.8 427.2 560.6 428.7 561.6 429.8 562.8 430.5 564.4 431 566.6 431.4 569.2 431.5 572.4 431.6 574.8 431.6 576.5 431.4 577.5 431.1 578.3 430.7 579.9 429.1 580.4 428.9 580.9 429.2 582.3 430.6 582.9 431 583.7 431.3 586.1 431.7 590.7 431.9" fill="none" stroke="#000000" stroke-width="1.3" stroke-linejoin="round" />
<path d="M593.2 431 593.7 430.6 593.9 430.2 594.6 428.2 594.8 428.5 595.2 429.8 595.7 430.3 596.1 430.4 596.6 430.3 597.2 429.9 597.7 429.5 598.1 428.7 598.6 427.1 599.2 422.3 599.7 422.9 599.9 422.5 600.1 421.3 600.6 416.3 601 405.7 601.7 371.3 602 361.8 602.2 364.7 602.8 400.6 603 408.6 603.5 418.1 603.9 423 604.4 425.8 605.1 428 605.9 429.5 606.6 430.2 607.5 430.7 608.4 431 609.7 431.2 612.9 431.5 613.1 430.1 613.3 429.6 613.5 431.1 613.8 430.4 614 430.4 614.2 431.2 614.4 430.2 614.6 430.4 614.9 430 615.3 430.8 615.5 431 616 430.5 616.2 430.1 616.4 427.8 616.7 430.4 616.9 429.2 617.1 429.6 617.3 429.1 617.5 429 617.7 428.3 617.8 428.6 618 428 618.2 428.4 618.4 429.7 618.7 427.4 618.9 429.8 619.1 429 619.3 427.2 619.5 429.7 619.8 427.5 620 427.1 620.2 427.8 620.4 427.9 620.5 426.7 620.9 428.9 621.1 427.6 621.3 429.8 621.6 428.4 621.8 430.1 622 429.2 622.2 430.3 622.4 430.1 622.7 430.5 622.9 430.3 623.1 429.3 623.3 429.5 623.6 428.9 623.8 427.6 624 428.5 624.5 427.1 624.7 425.6 625.3 417.6 625.7 414.7 625.8 415.8 626 416.3 626.7 425.4 627.1 428.1 627.4 427.6 627.6 429 627.8 428.1 628 428.7 628.2 427.5 628.5 429.6 628.7 429.7 628.9 429.5 629.4 429.8 629.6 430.2 629.8 430.1 630 429.9 630.3 429.4 630.5 429.3 630.7 428.9 630.9 427.9 631.1 425.9 631.4 425.1 632 412.2 632.3 410.1 632.5 412.3 632.7 418.3 633.2 425.3 633.4 425.1 633.6 426.1 633.8 428.5 634 427.7 634.3 429.1 634.5 429.6 634.9 428.9 635.2 428.9 635.4 429.3 635.6 426.3 635.8 427.5 636.1 427.2 636.2 426.8 636.7 428.9 636.9 428.9 637.2 427.8 637.4 430.2 637.6 429.7 637.8 430.4 638.1 429.9 638.3 427.9 638.5 429.3 638.7 428.2 639 427.9 639.2 428.4 639.4 428.1 639.6 429 639.8 428.3 639.8 428.7 640.1 428.3 640.3 429.3 640.5 427.9 641 429.8 641.2 429.9 641.4 429.3 641.6 429.2 641.9 430.1 642.1 430.5 642.5 428.8 642.7 429.4 643 428.8 643.2 429 643.4 428.8 643.5 427.2 643.6 428.8 643.9 428.6 644.1 429.7 644.3 429.7 644.5 427.8 645 430.6 645.2 430.8 645.4 430.5 645.6 428.6 645.9 430.5 646.1 429.7 646.3 431 646.5 431.2 646.8 429.5 647 430.8 647.2 431.5 647.9 431.3 648.1 430.9 648.3 429.6 648.5 430.3 648.8 429.7 649 430.9 649.2 430.2 649.4 430.3 649.7 429.2 649.9 429.4 650.1 430.7 650.6 430 650.8 429.4 651.4 426.4 651.7 426 651.9 426.4 652.3 428.2 652.8 429.2 653 429.3 653.7 429.3 654.8 430.8 655.7 431.4 656.8 431.7 658.6 431.8 666.6 431.9" fill="none" stroke="#000000" stroke-width="1.3" stroke-linejoin="round" />
<path d="M515.2 431.3 516.8 430.9 518.2 430.4 519.4 429.6 520.2 428.7 520.8 427.6 521.4 426 523 419.4 523.2 418.8 523.5 418.5 523.8 418.8 524 419.3 525.2 424 525.6 425.2 526.2 426.3 526.6 426.7 527 427 528.5 427.5 530.9 429.7 532.5 430.6 534.5 431.1 537.1 431.4 541.1 431.5 545.3 431.5 547.9 431.2 549.7 430.9 551.1 430.3 552 429.6 552.8 428.6 553.6 426.7 554.2 424.1 554.6 421.2 555.2 413.9 556 396.2 556.2 392.4 556.5 390.7 556.6 391.8 556.8 395.3 557.6 413.2 558.2 420.9 558.6 423.8 559.2 426.5 559.8 428.1 560.6 429.4 561.4 430.1 562.2 430.5 563.2 430.9 564.6 431.2 568.6 431.6 573.8 431.6 575.9 431.5 577.5 431.1 578.5 430.5 579.9 428.9 580.4 428.7 580.9 429 582.3 430.6 582.9 431 583.7 431.3 586.1 431.7 590.7 431.9" fill="none" stroke="#ff0000" stroke-width="1.3" stroke-linejoin="round" />
<path d="M593.2 431.1 593.7 430.6 593.9 430.3 594.6 428.2 594.8 428.5 595.2 429.8 595.7 430.3 596.1 430.4 596.6 430.3 597.2 430 597.7 429.5 598.1 428.7 598.6 427.1 599.2 422.3 599.7 422.9 599.9 422.6 600.1 421.4 600.6 416.3 601 405.7 601.7 371.3 602 361.8 602.2 364.7 602.8 400.6 603 408.6 603.5 418.1 603.9 423 604.4 425.8 605.1 428.1 605.9 429.6 606.8 430.4 608 430.9 609.5 431.3 611.5 431.5 615.3 431.7 619.3 431.7 621.6 431.5 622.9 431 623.3 430.7 623.8 430.2 624.5 428.5 624.9 426 625.6 419.3 625.7 418.8 626 420.6 626.7 427 627.1 429 627.6 430 628.2 430.6 629.1 430.9 630 430.7 630.5 430.4 630.9 429.6 631.4 427.8 632.3 417.3 632.9 425.8 633.4 428.9 633.6 429.7 634 430.6 634.5 431 634.9 431.3 636.5 431.7 639.4 431.8 645.9 431.9 649 431.7 649.9 431.4 650.6 430.8 651 429.9 651.4 428.5 651.7 428.3 651.9 428.6 652.3 430 652.8 430.8 653.2 431.3 654.1 431.7 657.2 431.9 666.6 432" fill="none" stroke="#ff0000" stroke-width="1.3" stroke-linejoin="round" />
<path d="M515.2 431.4 516.8 431.2 518.2 430.8 519.4 430.2 520.2 429.5 520.8 428.7 521.4 427.5 523 422.5 523.2 422 523.5 421.8 523.8 422 524 422.4 525.4 426.4 526.2 427.6 526.8 428 528.5 428.4 530.9 430.2 531.7 430.6 532.7 431 534.7 431.3 537.5 431.6 541.5 431.6 545.5 431.6 547.9 431.4 549.7 431.1 551.1 430.6 552 430 552.8 429.2 553.6 427.6 554.2 425.5 554.6 423.2 555.2 417.2 556 402.7 556.2 399.6 556.5 398.2 556.6 399.1 556.8 402 557.6 416.6 558.2 422.9 558.6 425.3 559.2 427.5 559.8 428.8 560.6 429.8 561.4 430.4 562.2 430.8 564.6 431.4 568.8 431.7 574.2 431.7 576.3 431.5 577.7 431.1 578.7 430.4 579.9 429.1 580.4 428.9 580.9 429.2 582.3 430.7 582.9 431 583.7 431.3 586.1 431.7 590.7 431.9" fill="none" stroke="#0000ff" stroke-width="1.3" stroke-linejoin="round" />
<path d="M593.2 431.1 593.7 430.6 593.9 430.3 594.6 428.3 594.8 428.5 595.2 429.8 595.7 430.3 596.1 430.4 596.6 430.4 597.2 430 597.7 429.5 598.1 428.7 598.6 427.1 599.2 422.3 599.7 423 599.9 422.6 600.1 421.4 600.6 416.4 601 405.7 601.7 371.3 602 361.8 602.2 364.7 602.8 400.6 603 408.6 603.5 418.1 603.9 423.1 604.4 425.8 605.1 428.1 605.9 429.6 606.8 430.4 607.7 430.8 608.8 431.2 610.4 431.4 613.1 431.7 616.7 431.8 620.2 431.8 622.4 431.6 623.8 431.2 624.5 430.6 624.9 429.6 625.6 427 625.7 426.8 626 427.5 626.7 430 627.1 430.7 627.6 431.1 628.2 431.3 629.1 431.3 629.8 431.1 630.3 430.9 630.7 430.3 631.1 429.2 631.4 428.1 632.3 418.1 632.9 426.2 633.4 429.1 633.6 429.9 634 430.7 634.5 431.1 634.9 431.4 636.3 431.7 638.7 431.8 645 431.9 648.8 431.8 649.7 431.7 650.3 431.5 650.8 431.1 651.4 430.1 651.7 430 652.8 431.4 653.2 431.6 654.1 431.8 657.2 431.9 666.6 432" fill="none" stroke="#0000ff" stroke-width="1.3" stroke-linejoin="round" />
<path d="M515.2 431.6 518.2 431.1 519.4 430.7 520.2 430.2 520.8 429.6 521.4 428.8 523 425.2 523.2 424.9 523.5 424.7 523.8 424.8 524 425.1 525.2 427.7 525.6 428.3 526.2 429 527 429.4 528.7 429.7 530.5 430.6 531.5 431 532.7 431.3 534.3 431.5 538.9 431.6 542.3 431.5 543.3 431.2 543.9 430.9 544.3 430.5 544.7 429.8 545.1 427.9 545.3 425.7 545.7 416 546.1 421.5 546.3 422.6 546.5 421.1 547 406.3 547.5 419.2 547.9 426.3 548.1 427.9 548.5 429.4 548.9 430.1 549.3 430.5 550.1 430.8 550.9 430.8 551.6 430.6 552.4 430.3 553 429.8 553.4 429.3 554.2 427.5 554.8 424.9 555.2 421.9 556 412.2 556.2 410.1 556.5 409.2 556.6 409.8 556.8 411.7 557.6 421.6 558.2 425.8 558.6 427.5 559.2 429 559.8 429.8 560.6 430.5 562.2 431.2 564.4 431.5 568.2 431.8 573.6 431.8 575.9 431.7 577.5 431.5 578.5 431.2 579.9 430.4 580.4 430.2 580.9 430.4 582.3 431.2 583.7 431.6 586.1 431.8 590.7 431.9" fill="none" stroke="#ff8000" stroke-width="1.5" stroke-linejoin="round" />
<path d="M593.2 430.8 593.7 430.1 593.9 429.5 594.6 426.2 594.8 426.7 595.2 428.9 595.7 429.9 596.1 430.2 596.6 430.2 597.2 429.8 597.7 429.3 598.1 428.5 598.6 426.7 599.2 421.3 599.7 422.4 599.9 422.2 600.1 421.1 600.6 416.2 601 405.6 601.7 371.3 602 361.8 602.2 364.7 602.8 400.6 603 408.6 603.5 418.1 603.9 423 604.4 425.8 605.1 428.1 605.9 429.6 606.8 430.3 608 430.9 609.3 431.2 611.3 431.5 615.1 431.7 619.3 431.7 621.6 431.5 622.9 431.1 623.3 430.8 623.8 430.3 624.5 428.7 624.9 426.3 625.6 419.9 625.7 419.4 626 421.1 626.5 425.6 626.9 428.4 627.1 429.2 627.6 430.1 628 430.6 628.7 431 629.6 431.2 630.3 431 630.7 430.8 631.1 430.1 631.6 428.5 632.3 423.5 632.9 428.4 633.4 430.2 633.6 430.6 634 431.1 634.9 431.5 636.5 431.8 639.2 431.9 645.6 431.9 649 431.8 649.9 431.7 650.6 431.4 651.7 430.3 652.8 431.5 653.2 431.7 654.1 431.8 657.2 431.9 666.6 432" fill="none" stroke="#ff8000" stroke-width="1.5" stroke-linejoin="round" />
</g>
<line x1="515.2" y1="434" x2="589.2" y2="434" stroke="#333" stroke-width="0.9" />
<line x1="592.3" y1="434" x2="666.6" y2="434" stroke="#333" stroke-width="0.9" />
<line x1="588.3" y1="437.5" x2="591" y2="431.2" stroke="#333" stroke-width="0.8" />
<line x1="590.6" y1="437.5" x2="593.3" y2="431.2" stroke="#333" stroke-width="0.8" />
<line x1="519.33" y1="434" x2="519.33" y2="435.3" stroke="#333" stroke-width="0.8" />
<line x1="531.7" y1="434" x2="531.7" y2="436.2" stroke="#333" stroke-width="0.8" />
<line x1="544.08" y1="434" x2="544.08" y2="435.3" stroke="#333" stroke-width="0.8" />
<line x1="556.45" y1="434" x2="556.45" y2="436.2" stroke="#333" stroke-width="0.8" />
<line x1="568.83" y1="434" x2="568.83" y2="435.3" stroke="#333" stroke-width="0.8" />
<line x1="581.2" y1="434" x2="581.2" y2="436.2" stroke="#333" stroke-width="0.8" />
<line x1="602" y1="434" x2="602" y2="436.2" stroke="#333" stroke-width="0.8" />
<line x1="615.85" y1="434" x2="615.85" y2="435.3" stroke="#333" stroke-width="0.8" />
<line x1="629.69" y1="434" x2="629.69" y2="436.2" stroke="#333" stroke-width="0.8" />
<line x1="643.53" y1="434" x2="643.53" y2="435.3" stroke="#333" stroke-width="0.8" />
<line x1="657.38" y1="434" x2="657.38" y2="436.2" stroke="#333" stroke-width="0.8" />
<text x="531.7" y="445.8" font-size="7.3" text-anchor="middle" fill="#000" stroke="#000" stroke-width="0.22" >0.9</text>
<text x="556.45" y="445.8" font-size="7.3" text-anchor="middle" fill="#000" stroke="#000" stroke-width="0.22" >1.2</text>
<text x="581.2" y="445.8" font-size="7.3" text-anchor="middle" fill="#000" stroke="#000" stroke-width="0.22" >1.5</text>
<text x="602" y="445.8" font-size="7.3" text-anchor="middle" fill="#000" stroke="#000" stroke-width="0.22" >3.3</text>
<text x="629.69" y="445.8" font-size="7.3" text-anchor="middle" fill="#000" stroke="#000" stroke-width="0.22" >3.6</text>
<text x="657.38" y="445.8" font-size="7.3" text-anchor="middle" fill="#000" stroke="#000" stroke-width="0.22" >3.9</text>
<text x="589.7" y="449.6" font-size="7.2" text-anchor="middle" fill="#000" stroke="#000" stroke-width="0.22" >ppm</text>
<text x="521.6" y="386.3" font-size="7.2" text-anchor="start" fill="#111" stroke="#111" stroke-width="0.22" >L</text>
<line x1="614.6" y1="379.3" x2="627.6" y2="379.3" stroke="#000000" stroke-width="1.3" />
<text x="629.7" y="381.5" font-size="6.3" text-anchor="start" fill="#000" stroke="#000" stroke-width="0.22" >MFGM 20 °C</text>
<line x1="614.6" y1="387.4" x2="627.6" y2="387.4" stroke="#ff0000" stroke-width="1.3" />
<text x="629.7" y="389.6" font-size="6.3" text-anchor="start" fill="#000" stroke="#000" stroke-width="0.22" >MFGM 40 °C</text>
<line x1="614.6" y1="395.6" x2="627.6" y2="395.6" stroke="#0000ff" stroke-width="1.3" />
<text x="629.7" y="397.8" font-size="6.3" text-anchor="start" fill="#000" stroke="#000" stroke-width="0.22" >MFGM 60 °C</text>
<line x1="614.6" y1="403.5" x2="627.6" y2="403.5" stroke="#ff8000" stroke-width="1.3" />
<text x="629.7" y="405.7" font-size="6.3" text-anchor="start" fill="#000" stroke="#000" stroke-width="0.22" >MFGM 80 °C</text>
<path d="M515.4 498.3 522.5 498.2 525.5 497.9 526.4 497.6 527 497.1 527.4 496.6 527.9 495.5 528.3 492.8 528.7 484.7 529.3 447.6 529.8 481.5 530.2 492 530.4 493.9 530.9 495.9 531.5 497.1 531.9 497.4 532.6 497.7 533.7 498 535.4 498.1 541.8 498.3 624.1 498.3 650.6 498.2 654.2 498.1 656.1 497.7 656.8 497.4 657.2 496.9 657.6 496.2 657.9 495.5 658.3 493 658.5 490.2 658.7 485 658.9 474.4 659.3 449 659.8 482 660 488.7 660.4 494.1 660.9 496 661.3 496.8 661.7 497.3 662.4 497.7 663 497.9 665.6 498.1" fill="none" stroke="#000000" stroke-width="1.3" stroke-linejoin="round" />
<path d="M515.4 481.2 515.7 481 516 481 516.9 482.2 517.2 482.2 517.5 483.8 517.8 483.4 518.1 482.7 518.4 483.3 518.7 483.4 519.3 485 519.6 484.2 519.9 485.2 520.2 485.1 520.5 486 520.8 486.4 521.1 486.2 521.4 486.7 521.7 486.7 522.3 486.9 522.6 488 523.2 488.6 523.8 489.6 524.1 489.7 524.4 490.3 524.7 491.4 525 491.1 525.3 492.3 525.6 491.5 525.9 491.8 526.2 492.7 526.5 493.2 526.8 492.8 527.1 493.6 527.7 494.3 528 493.9 528.3 494.4 528.6 494.1 528.9 495.4 529.2 495.9 529.5 496.9 529.8 496.1 530.1 496.7 530.4 496.8 530.7 497.9 531 496.5 531.3 497.4 531.6 499 532.2 497.9 532.8 499.3 533.1 499.3 533.7 499 534 499.9 534.3 499.6 534.6 500.2 534.9 500.1 535.2 499.9 535.5 500.9 535.8 500.2 536.1 500.7 536.4 500.3 536.7 500.5 537 500.5 537.3 500.4 537.9 501.3 538.2 501.6 538.5 501.5 538.8 500.8 539.1 501.5 539.4 501.1 539.7 501.8 540 500.4 540.3 501.7 540.6 500.8 540.9 501.6 541.2 500.9 541.5 501.5 542.1 500.3 542.7 501.1 543 501.2 543.3 500.2 543.6 500.7 544.5 501.4 545.1 500.7 545.4 501.5 545.7 501.3 546 501.9 546.3 501.2 546.6 501.8 546.9 501 547.2 501.5 547.5 501.4 547.8 501.5 548.1 500.8 548.4 501.1 548.7 500.7 549.3 501.3 549.6 502.3 549.9 500.9 550.2 501.2 550.5 500.8 550.8 501.2 551.1 500.9 551.4 501.1 551.7 500.7 552 501.6 552.3 501 552.6 499.4 552.9 500.2 553.2 499.9 553.5 498.8 553.8 499.2 554.1 499.2 554.4 499 554.7 499.2 555 498.2 555.3 498.7 556.8 495.2 557.1 495.3 557.4 494.4 557.7 494.5 558 492.8 558.3 493.1 558.6 491.5 558.9 491.1 559.2 490.1 559.5 490.2 559.8 489.9 560.4 490.4 560.7 489.6 561 489.7 561.9 490.6 562.2 491.6 563.1 493.6 563.4 493.6 564 495.9 564.3 495.8 564.6 496.9 564.9 497.2 565.5 499.6 566.1 499.6 566.4 500.4 566.7 500.5 567 501 567.3 500 567.9 500.9 568.2 500.4 568.5 501.8 568.8 500.5 569.1 501.2 569.4 501 570 502.4 570.3 502.1 570.6 502.1 570.9 501.8 571.2 500.5 571.5 501.4 571.8 500.3 572.1 500.7 572.7 500.4 573 500.7 573.3 499.8 573.6 500.5 573.9 499.6 574.2 499.5 574.5 499 574.8 498.7 575.1 498 575.4 498.8 575.7 497.4 576 498 576.6 497.5 576.9 497.7 577.2 497.1 577.5 497.8 577.8 497.7 578.1 497.3 578.4 497.5 578.7 496.6 579 496.2 579.3 496.2 579.6 495.9 579.9 496.6 580.2 494.9 580.5 495 580.8 494.4 581.1 494.5 581.4 493.1 581.7 492.8 582.3 491.1 582.9 490 583.2 490.4 583.5 489.4 584.4 487.3 585 486.8 585.3 487 585.6 487 585.9 485.7 586.2 486.4 586.5 486.8 586.8 485.5 587.7 488.2 588.3 488.8 588.9 490.5 589.2 490.4 589.5 491.2 590.1 490.2 590.4 490.5 591 492.5 591.9 496.9 592.2 497.6 592.5 499.1 593.1 499.5 593.4 500 593.7 499.8 594 500 594.3 499.9 594.6 499.6 594.9 500.6 595.2 500.4 595.5 499.2 596.4 500.4 596.7 500.1 597 499.5 597.3 500.6 597.6 500.1 597.9 500.8 598.2 500.4 598.5 500.5 599.1 499.7 599.4 498.7 599.7 499.1 600.3 497.3 600.6 497.3 600.9 497 601.2 496.8 601.5 496.3 601.8 494.9 602.1 495.2 602.7 493.2 603 493.5 603.3 492.5 603.6 492.7 603.9 494 604.2 494.4 604.5 494.1 604.8 495.3 605.1 495.7 605.4 495.5 605.7 497.2 606 496.9 606.3 497.6 606.6 497.1 606.9 499.1 607.2 499.1 607.5 500.2 607.8 499.8 608.1 501.6 608.7 502.1 609 500.1 609.3 501.8 609.6 501.8 609.9 500.4 610.2 501.5 610.5 501.9 610.8 502.7 611.1 501.8 611.4 502.4 611.7 502.4 612 502.7 612.3 502.4 612.6 503 612.9 503 613.2 502 613.5 503.2 613.8 502.4 614.1 502.6 614.4 503.3 614.7 502.8 615.3 503.2 615.6 503.2 615.9 502.7 616.2 502.5 616.5 503.3 616.8 503.4 617.4 503 617.7 503.5 618.3 502.4 618.6 503.1 619.2 503.2 619.5 502.4 619.8 502.4 620.1 502.8 620.4 502.4 620.7 502.5 621 502.9 621.3 502.6 621.6 503.2 621.9 502.4 622.2 503 622.5 502.6 622.8 503.2 623.1 502.1 623.4 502 623.7 502.5 624 501.6 624.3 501.6 624.6 501.9 624.9 501.4 625.2 499.8 625.5 499.8 626.7 496.4 627 496.8 627.6 496.6 627.9 496.9 628.2 497.5 628.5 497.6 628.8 498 629.1 497.5 629.4 497.7 629.7 498.7 630 497.8 630.3 498.7 631.2 497.6 631.5 498.6 631.8 498 632.1 497.9 632.4 497.4 632.7 498.6 633 498 633.3 497.9 633.6 498 634.2 497.7 634.5 497.9 634.8 497.4 635.1 496.3 635.4 497.7 636 497.3 636.3 497.9 636.6 496.5 636.9 495.7 637.2 497.6 637.5 496.9 637.8 495.8 638.4 496.5 638.7 495.5 639.3 496.6 639.9 495.2 640.2 495.2 640.5 494.4 640.8 494.7 641.7 493.4 642 494.6 642.6 492.7 642.9 492.8 643.2 493.4 643.5 493.2 643.8 491.9 644.4 492.1 644.7 491.3 645 491 645.3 491.4 645.6 492.2 646.2 492.2 646.8 493.8 647.1 493.8 647.4 493.3 647.7 494.3 648 493.1 648.3 493.4 648.6 492.8 648.9 493.8 649.5 492.7 649.8 493.1 650.1 494.2 650.7 493.5 651 493.8 651.3 492.8 651.6 493.2 651.9 493.1 653.1 494.4 653.4 494.5 653.7 495.3 654 494 654.6 494.6 654.9 494 655.5 494.8 655.8 494.2 656.4 495.3 656.7 494.5 657 494.3 657.3 495.8 657.6 495.7 657.9 496.6 658.2 496.7 658.8 498.2 659.1 498.4 659.7 498.2 660 497.9 660.3 498.3 660.6 499.2 660.9 499.7 661.2 499.3 661.5 499.3 661.8 498.9 662.4 498.8 662.7 499.8 663 498.7 663.3 499.8 663.6 499.1 663.9 499.7 664.2 499.6 664.8 500 665.1 499.1 665.4 499" fill="none" stroke="#ff0000" stroke-width="1.4" stroke-linejoin="round" />
<path d="M515.4 496.8 515.7 496.6 516 497.2 516.3 496.9 516.9 497 517.2 496.6 517.5 497.3 517.8 495.9 518.1 496.8 518.4 496.9 518.7 496.3 519 496.3 519.3 497 519.9 495.7 520.2 495.8 520.5 496.8 520.8 495.9 521.1 496.8 521.4 496.7 521.7 495.9 522 496.2 522.3 495.5 522.6 495.6 522.9 495.4 523.2 495.8 523.8 494.2 524.4 491.9 524.7 489.5 525 488.1 525.6 485.5 525.9 485.1 526.5 489.2 527.4 492.8 528 496.3 528.3 496.3 528.6 496 529.2 496.8 529.5 495.9 529.8 495.3 530.1 496.7 530.4 496.7 530.7 496.3 531 496.2 531.3 497.7 531.6 496.3 531.9 496 532.5 496.9 532.8 496.4 533.1 496.5 533.4 496.9 533.7 496.6 534 496.9 534.3 496.9 534.6 496.5 534.9 497 535.2 496.5 535.5 497.4 535.8 496.6 536.1 497 536.4 496.3 536.7 496.9 537 496.6 537.3 497.8 537.6 497.1 537.9 497.4 538.2 496.4 538.5 496.6 538.8 497.1 539.1 496.6 539.4 497.8 539.7 497.1 540 497.4 540.3 497.4 540.6 497.3 540.9 497.7 541.2 497.1 541.8 497.9 542.1 497.5 542.4 497.5 542.7 497.3 543.3 497.8 543.9 496.8 544.2 497.6 544.5 497.5 544.8 497.8 545.1 497.6 545.4 498.3 545.7 497.1 546 497.2 546.3 498 546.6 497.2 546.9 497.8 547.2 497.6 547.5 496.7 547.8 497.9 548.1 498.1 548.7 496.8 549 497.8 549.3 496.9 549.9 497.5 550.5 496.5 550.8 497.2 551.1 497.2 551.4 496.8 551.7 496.8 552 497.4 552.3 497 552.6 496.8 552.9 496.7 553.2 497 553.5 496.8 553.8 496.5 554.1 495.8 554.4 496.1 554.7 495.9 555.3 496.3 555.9 495.8 556.5 494.4 556.8 494.2 557.1 493.3 557.7 492.1 558 491.9 558.3 491.3 558.6 491.7 559.2 490.2 559.5 490.4 559.8 489.6 560.1 489.9 560.4 489.6 560.7 490.2 561 488.2 561.6 489 562.2 490.1 562.5 489.8 562.8 490.3 563.4 491.8 563.7 491.3 564 491.5 564.3 493.1 564.6 493.4 564.9 493.9 565.2 493.4 565.8 494.8 566.1 495.2 566.4 495 566.7 495 567 495.5 567.3 494.9 568.2 494.9 568.5 495.2 569.1 495.1 569.4 495.9 570 495.2 570.3 495.9 570.6 495.1 570.9 495.4 571.2 495.4 571.5 495.2 572.1 495.5 572.4 494.8 573 495.3 573.6 495.2 573.9 496 574.2 495.2 574.5 494.8 575.1 494.7 575.4 494.8 575.7 494.4 576 495.1 576.3 494 576.6 494.8 576.9 494.8 577.2 494.1 577.5 494.9 577.8 494.9 578.1 494.5 578.4 495.8 579 494.7 579.6 494.6 579.9 495.1 580.2 494.7 580.5 493.7 581.4 492.8 582 491.8 582.3 492 582.6 491.7 582.9 490.9 583.2 489.5 583.5 489.9 583.8 489.7 584.1 488.9 584.7 488 585.3 485.9 585.6 486.7 585.9 485.8 586.2 485.7 586.5 484.9 586.8 484.4 587.1 485.7 587.4 485.2 587.7 486.3 588 486.5 588.3 487.6 588.6 488.1 588.9 487.8 589.2 487.2 589.5 486.2 589.8 486.5 590.1 486.5 590.4 486.1 591.3 488 592.2 492.7 592.5 493 592.8 495.2 593.1 495.1 593.4 494.5 593.7 495.1 594 494.5 594.3 494.9 594.6 494.8 594.9 495 595.2 494.5 595.5 495.2 595.8 494.1 596.1 494.8 596.4 494.8 596.7 495.7 597.3 494.9 597.6 494.8 597.9 495.2 598.2 494.9 598.5 496 598.8 493.6 599.1 494.5 599.4 493.2 599.7 494.4 600 493.3 600.3 494.1 600.6 492.9 600.9 493.3 601.2 492.7 601.5 492.8 601.8 492.1 602.1 490.5 602.4 491.2 602.7 490.6 603 491.4 603.6 490.5 603.9 490.4 604.2 490.5 604.5 490.3 604.8 491.6 605.1 491.1 605.4 491.1 605.7 490.8 606.3 491.8 606.9 492.2 607.2 492.7 607.5 492.6 607.8 493.5 608.1 493.2 608.7 494.3 609 495.4 609.3 495.6 609.6 495.5 609.9 495 610.5 495.8 610.8 496 611.1 494.9 611.4 495.3 611.7 495.5 612 495.6 612.3 495.5 612.6 495.8 612.9 494.9 613.2 496.1 613.5 495 613.8 495.5 614.4 496 615 495.9 615.3 496 615.6 495.4 616.2 496.1 616.5 495.2 616.8 494.9 617.1 495.1 617.4 496.1 617.7 496 618 495.3 618.9 495.9 619.2 494.7 619.5 495.2 620.1 495.6 620.7 495.4 621 495.6 621.3 494.4 621.6 496.8 621.9 495.8 622.2 495.9 622.5 495.2 623.1 496.4 623.4 496.2 624 494.6 624.3 495 624.6 494.7 624.9 495 625.2 493.9 625.5 494.2 625.8 494.3 626.1 493.8 626.4 494.3 626.7 493.2 627 493 627.6 493.6 627.9 493 628.2 492.7 628.5 493.2 629.1 492.4 629.4 492.6 629.7 492.3 630 492.5 630.6 491.7 631.2 491.6 631.5 491.8 631.8 491.7 632.1 491.1 633 491.8 633.3 491.4 633.6 492 633.9 491.1 634.2 491.4 634.8 490.5 635.1 490.9 635.4 491 636 490.8 636.6 490.2 637.2 490.6 637.5 490.6 637.8 488.7 638.1 490.2 638.7 490.2 639 489.6 639.3 489.6 639.6 489 640.2 489.1 640.5 488.2 640.8 488.2 641.1 488.5 641.4 487.6 641.7 487.9 642 486.9 642.3 487.3 643.2 485.8 643.5 485.6 643.8 484.5 644.1 485 644.4 484.9 644.7 485 645 484.5 645.9 487 646.2 486.5 646.5 487.7 646.8 488.2 647.1 488 647.4 487.3 647.7 487.2 648.3 488.4 648.6 487.2 648.9 487.9 649.2 487.9 649.5 486.5 649.8 486.6 650.1 487.5 651 486.5 651.3 486.9 651.6 486.4 651.9 487.9 652.2 486.4 652.5 486.2 653.1 487.8 653.4 487.1 653.7 487.4 654 487.1 654.3 487.6 654.6 487.3 654.9 487.4 655.2 487.3 655.5 487.9 655.8 489.2 656.1 488.6 656.4 489 656.7 490.1 657 489.1 657.3 489.2 657.6 490.1 657.9 489.6 658.5 491.1 658.8 490.4 659.1 490.9 659.4 492.1 659.7 491 660.3 491.8 660.9 491.6 661.2 492.8 661.5 492 661.8 492.5 662.1 492.4 662.4 492.6 662.7 492.2 663 493.3 663.3 492.9 663.6 493.8 663.9 492.8 664.5 493.8 664.8 493.8 665.1 493.6 665.4 493.9" fill="none" stroke="#0000ff" stroke-width="1.4" stroke-linejoin="round" />
<path d="M515.4 492.8 515.7 493.4 516 492.2 516.3 493.3 516.6 493.8 516.9 493.6 517.2 493.5 517.5 492.9 517.8 493.3 518.1 492.9 518.7 492.9 519 491.5 519.3 493.3 519.6 493 519.9 493.2 520.2 492.3 520.5 492.9 520.8 492.7 521.1 491.4 521.4 491.6 521.7 492.2 522 491.8 522.3 492 522.6 491.6 522.9 492.5 523.2 490.9 523.8 491.1 524.1 490.8 524.4 491 525.6 479.8 525.9 478 526.2 480.8 526.8 484.3 527.7 490.8 528 491.2 528.3 490.5 528.9 491.7 529.2 492 529.5 491.7 529.8 492.4 530.1 491.5 530.4 491.8 530.7 492.7 531 492.4 531.3 492.5 531.6 493.1 531.9 493.1 532.2 492.4 532.5 492.9 532.8 492.2 533.1 493 533.4 493.2 533.7 492.4 534 493.8 534.3 494.1 534.6 493.5 535.2 494 535.5 493.3 535.8 493.9 536.1 493.7 536.4 492.9 537 493.4 537.3 494.2 537.6 493.8 537.9 494.2 538.2 493.6 538.5 493.3 538.8 494.8 539.1 495.2 539.4 494.2 539.7 494 540 494.6 540.3 493.7 540.6 494.1 540.9 493.6 541.2 494.5 542.1 494.1 542.4 493.7 542.7 494 543 495 543.3 494.3 543.6 495 543.9 494.2 544.2 494.5 544.5 494.4 544.8 494.5 545.1 495 545.4 493.8 545.7 495 546 495 546.3 494.8 546.6 494.8 546.9 494.6 547.2 494.9 547.8 494.1 548.4 494.7 549 494.1 549.3 494.1 549.6 493.7 549.9 493.6 550.2 492.9 550.8 494 551.1 493.3 551.4 493 551.7 493.6 552 493.2 552.3 493.1 552.9 493.1 553.5 492.2 553.8 493.2 554.1 492.3 554.4 491.9 555 492.3 555.3 490.7 555.6 491.3 555.9 490.2 556.2 490.6 556.8 488.6 557.1 488.6 557.4 488.1 557.7 486.9 558 486.6 558.3 485.8 558.6 485.8 558.9 484.3 559.2 484.3 559.5 483 559.8 483.6 560.1 481.9 560.7 481.9 561 481.1 561.3 480.9 561.6 481.2 561.9 481.9 562.2 481.8 562.5 483.2 563.1 484.4 563.4 484.6 563.7 485.8 564 486.2 564.3 487.1 565.2 488.4 565.5 488.3 565.8 490.4 566.1 490.6 566.4 491.6 566.7 489.9 567 491.2 567.3 490.5 567.6 491 567.9 490.7 568.2 491.3 568.5 491.2 568.8 491.7 569.1 491.4 569.7 492.1 570.3 491.6 570.6 492.3 570.9 491.8 571.2 492.1 571.8 491.5 572.1 490.2 572.4 491.5 572.7 490.4 573 490.9 573.3 491 573.6 489.4 573.9 490 574.2 489.3 574.5 489.5 574.8 489 575.1 489.7 575.4 490 576 491.2 576.3 490.6 576.6 490.5 576.9 491.8 577.2 491 578.4 492.1 578.7 491.7 579 492.1 579.3 493.1 579.6 493.2 579.9 492.9 580.5 491.8 580.8 491.9 581.1 490.8 581.4 490.6 582 489.5 582.3 489.3 582.9 488.2 583.5 487.6 584.1 486.4 584.7 486.1 585.9 481 586.2 480.6 586.8 477 587.1 478.2 587.7 479.7 588 479.9 588.3 481.4 588.6 481.6 588.9 482.8 589.2 482.8 589.8 480 590.4 478.3 590.7 478 591.9 487.1 592.5 490.5 592.8 493.5 593.4 492.7 593.7 493.5 594 493.3 594.3 492.4 594.6 492.8 595.2 492.1 595.5 493.5 595.8 493.4 596.1 492.2 596.4 492.9 596.7 492 597 493.2 597.3 492.7 597.6 492.6 597.9 493.2 598.5 492.3 598.8 492.4 599.1 491.5 599.4 491.5 599.7 490.7 600 490.7 600.6 489.8 600.9 488.6 601.2 489.4 601.5 488.1 601.8 488.5 602.1 487.1 602.7 486.4 603 486.6 603.3 485.7 603.6 486.1 603.9 485.4 604.5 486.3 604.8 486.3 605.1 485.6 605.4 486.8 605.7 486.5 606 488.1 606.3 487.5 606.6 488.9 606.9 488.8 607.2 489.3 607.5 489.5 608.1 491.1 608.4 490.6 608.7 492.5 609 492.1 609.3 493.1 609.6 492.2 609.9 493.6 610.2 493.8 610.5 493.6 610.8 493.7 611.1 493.4 611.4 493.6 611.7 494.1 612 493.4 612.3 493.9 612.6 494 612.9 493.6 613.2 493.8 613.5 493.8 613.8 493.6 614.1 494.9 614.4 493.6 614.7 494.6 615 494.3 615.3 493 615.6 494 615.9 494.4 616.2 494.3 616.5 493.6 616.8 494.1 617.1 493.5 617.4 493.6 617.7 494 618 494.2 618.3 494.7 618.6 494.2 618.9 494.4 619.2 493.4 619.5 493.4 619.8 493.6 620.1 494.6 620.4 493.2 620.7 493 621.3 494.2 621.6 492.9 621.9 493.5 622.2 493 622.5 494.1 623.7 492.9 624 492.8 624.3 492.1 624.9 491.3 625.2 491.5 625.5 490.8 625.8 491.2 626.1 489.6 626.4 490.5 626.7 490.2 627 490.1 627.6 488.5 627.9 488.6 628.2 489.5 628.5 488.7 629.1 488.4 629.4 488.6 629.7 488.4 630 487.7 630.3 488 630.6 488.7 630.9 488.8 631.2 488 631.5 487.7 631.8 488.4 632.4 487.1 633.3 487.9 633.6 486.9 633.9 487.3 634.2 486.8 634.5 487.3 634.8 486.8 635.1 486.7 635.4 486 635.7 486.2 636 486.1 636.3 484.6 636.6 486.4 636.9 485.9 637.5 485.4 638.1 485.3 638.4 484.4 638.7 484.8 639.3 484.4 639.6 483.5 639.9 483.9 640.2 483.2 640.5 483.7 640.8 483.9 641.1 483.5 641.4 482.7 642 481.6 642.3 481.6 642.6 480.6 642.9 480.2 643.2 478.9 643.5 479.1 644.1 478.3 644.4 478.6 644.7 477 645 477.3 645.3 478.8 645.6 478.8 646.2 480.7 646.5 481.4 646.8 481.7 647.1 482.6 647.4 482.8 647.7 481.6 648 481.8 648.3 482.2 648.9 481.2 649.2 481.3 649.5 481.8 649.8 480.9 650.1 481.3 650.4 481.3 650.7 480.7 651 481.1 651.6 481.5 651.9 481.6 652.2 480.7 652.5 481.8 652.8 481.8 653.1 482 653.4 481.3 653.7 482.2 654 482.1 654.3 481.5 654.6 482.7 654.9 481.9 655.2 481.9 655.5 483 655.8 483.1 656.1 484 656.4 484.3 657 485.8 657.3 486 657.6 486.9 657.9 487.4 658.2 487 658.5 488.1 659.1 488.4 659.7 489.6 660 489.5 660.3 488.9 660.6 490 661.2 490 661.5 490.4 661.8 490.2 662.1 491.2 662.4 490.8 662.7 490.8 663 491.2 663.6 491.7 664.2 491.4 664.5 491.6 664.8 490.7 665.1 491.2 665.4 492.4" fill="none" stroke="#ff8000" stroke-width="1.4" stroke-linejoin="round" />
<line x1="515.4" y1="504.1" x2="665.8" y2="504.1" stroke="#333" stroke-width="0.9" />
<line x1="515.4" y1="504.1" x2="515.4" y2="506.3" stroke="#333" stroke-width="0.8" />
<line x1="530.42" y1="504.1" x2="530.42" y2="505.4" stroke="#333" stroke-width="0.8" />
<line x1="545.45" y1="504.1" x2="545.45" y2="506.3" stroke="#333" stroke-width="0.8" />
<line x1="560.48" y1="504.1" x2="560.48" y2="505.4" stroke="#333" stroke-width="0.8" />
<line x1="575.5" y1="504.1" x2="575.5" y2="506.3" stroke="#333" stroke-width="0.8" />
<line x1="590.52" y1="504.1" x2="590.52" y2="505.4" stroke="#333" stroke-width="0.8" />
<line x1="605.55" y1="504.1" x2="605.55" y2="506.3" stroke="#333" stroke-width="0.8" />
<line x1="620.57" y1="504.1" x2="620.57" y2="505.4" stroke="#333" stroke-width="0.8" />
<line x1="635.6" y1="504.1" x2="635.6" y2="506.3" stroke="#333" stroke-width="0.8" />
<line x1="650.62" y1="504.1" x2="650.62" y2="505.4" stroke="#333" stroke-width="0.8" />
<line x1="665.65" y1="504.1" x2="665.65" y2="506.3" stroke="#333" stroke-width="0.8" />
<text x="515.4" y="515.6" font-size="7.3" text-anchor="middle" fill="#000" stroke="#000" stroke-width="0.22" >6.0</text>
<text x="545.45" y="515.6" font-size="7.3" text-anchor="middle" fill="#000" stroke="#000" stroke-width="0.22" >6.5</text>
<text x="575.5" y="515.6" font-size="7.3" text-anchor="middle" fill="#000" stroke="#000" stroke-width="0.22" >7.0</text>
<text x="605.55" y="515.6" font-size="7.3" text-anchor="middle" fill="#000" stroke="#000" stroke-width="0.22" >7.5</text>
<text x="635.6" y="515.6" font-size="7.3" text-anchor="middle" fill="#000" stroke="#000" stroke-width="0.22" >8.0</text>
<text x="665.65" y="515.6" font-size="7.3" text-anchor="middle" fill="#000" stroke="#000" stroke-width="0.22" >8.5</text>
<text x="589.3" y="516" font-size="7.2" text-anchor="middle" fill="#000" stroke="#000" stroke-width="0.22" >ppm</text>
<text x="516.4" y="462.6" font-size="7.2" text-anchor="start" fill="#111" stroke="#111" stroke-width="0.22" >M</text>
<clipPath id="clipN"><rect x="505" y="515" width="175" height="58"/></clipPath><g clip-path="url(#clipN)">
<path d="M515.4 570 527.7 570 531.7 569.8 532.7 569.7 533.4 569.4 534.7 568.2 535.5 568.6 536 568.6 536.9 567.8 537.2 567.9 537.9 568.9 538.4 569.3 539.1 569.6 540 569.8 542.4 569.9 547.4 569.9 552.8 569.9 555.4 569.8 556.8 569.4 557.3 569.1 557.5 568.8 557.8 568.2 558.6 565.4 558.7 565.7 559.2 567.8 559.7 568.9 560.1 569.3 560.6 569.5 562 569.5 563.2 569.1 563.9 568.4 564.4 567.2 565.1 564 565.2 563.8 565.3 564 566.3 567.8 566.8 568.6 567.2 569 567.7 569.2 568.4 569.2 569.1 569.1 569.8 568.7 570.8 568 571.2 567.9 571.5 568 573.2 569.2 574.1 569.5 575.3 569.7 579.8 569.9 590.9 570" fill="none" stroke="#000000" stroke-width="1.3" stroke-linejoin="round" />
<path d="M593.9 570 606.1 569.9 607 569.8 607.7 569.5 608 569.3 608.3 568.8 608.7 567.4 608.9 565.7 609 561.8 609.4 536.4 609.7 560.9 609.9 565.4 610.2 568.2 610.6 569.1 611.1 569.5 611.8 569.8 612.6 569.9 616.3 570 666 570" fill="none" stroke="#000000" stroke-width="1.3" stroke-linejoin="round" />
<path d="M515.4 569.9 528.9 569.8 531.3 569.5 532 569.2 532.4 568.9 532.9 568.4 533.2 568 533.6 566.2 533.9 564.4 534.5 556.2 535 562.4 535.3 564.4 535.5 565.4 535.8 565.6 536 565.4 536.2 564.5 536.7 561.7 537 560.8 537.2 561.5 537.7 564.9 538.1 567.1 538.4 567.8 538.8 568.5 539.8 569.2 541.4 569.6 544.5 569.7 550.2 569.6 554.7 569.4 557.1 569.1 559 568.6 560.4 568 561.3 567.2 562 566.4 562.5 565.6 563.2 563.8 563.9 560.7 564.4 557.2 565.1 547.9 566.1 524.2 566.3 519.3 566.5 517.6 566.8 519.9 567.7 543.7 568.2 551.9 568.9 558.8 569.4 561.3 570.1 563.3 570.6 563.9 571 564.1 571.5 563.8 572.2 562.9 572.5 562.7 572.7 562.7 573.2 563.4 574.1 565.5 574.6 566.3 575.3 567 576 567.4 579.1 567.8 582.2 568.8 584.1 569.2 586.9 569.5 590.9 569.7" fill="none" stroke="#ff0000" stroke-width="1.3" stroke-linejoin="round" />
<path d="M593.9 570 617.1 569.9 618.2 569.6 618.8 568.4 619.4 569.5 619.9 569.8 621.6 569.9 625.2 569.8 626.1 569.7 626.6 569.5 627.2 568 627.6 569 628 569.4 628.3 569.6 629 569.6 629.7 569.3 630 568.7 630.2 568 630.6 563.7 630.9 566.8 631.2 568.8 631.6 569.3 632.3 569.5 634 569.6 641 569.2 651.5 569.8 666 569.9" fill="none" stroke="#ff0000" stroke-width="1.3" stroke-linejoin="round" />
<path d="M515.4 569.9 527.9 569.8 530.6 569.7 532 569.5 532.9 569.1 533.6 568.4 534.1 567.2 534.6 565.6 534.7 565.4 535 565.8 535.5 567 535.8 567.2 536 567.1 536.2 566.7 536.9 564.9 537.2 565.3 537.9 567.8 538.4 568.6 539.1 569.1 540.3 569.5 542.2 569.6 545.5 569.6 553.5 569.3 557.8 568.7 559.2 568.3 560.4 567.8 561.6 567 562.5 566 563.2 564.6 563.9 562.5 564.4 560.3 564.9 557.1 566.1 544.8 566.3 543.1 566.5 542.5 566.8 543.2 567 544.9 568 554.6 568.4 558 569.1 561.1 569.8 562.5 570.3 562.8 570.6 562.7 571 562.2 571.3 561.7 572 558.7 572.7 553.9 572.9 552.9 573.1 552.8 573.4 553.8 574.1 558.9 574.6 561.4 575.3 563.6 575.8 564.4 576.2 564.9 576.9 565.4 577.9 565.8 584.3 567.5 587.6 568.3 590.9 568.8" fill="none" stroke="#0000ff" stroke-width="1.3" stroke-linejoin="round" />
<path d="M593.9 569.7 595.8 569.4 596.8 568.9 597.2 568.5 597.5 567.7 597.8 565.9 598.2 559.4 598.6 518.7 598.9 550.9 599 559.8 599.2 563.4 599.4 564.9 599.7 566.1 599.9 566.3 600.6 566.5 600.9 566.7 602 567.9 602.7 568.6 603.3 569 604 569.2 604.7 569.2 605.1 569.1 605.4 568.6 605.6 568 606 565.5 606.4 568.1 606.8 569.1 607.1 569.4 607.5 569.6 608.9 569.8 614.7 569.8 616.4 569.8 617.3 569.6 617.8 569.3 618.2 568.7 618.8 565.8 619.4 568.2 619.5 568.7 619.9 569.1 620.6 569.2 622.3 568.9 624.2 569.5 625.9 569.8 634.8 569.9 648.1 569.8 652.2 569.4 653.4 569.1 654.1 568.7 654.6 568 655 567 655.3 564.1 655.5 560 655.7 549.6 655.9 527.5 656.2 555.5 656.4 561.8 656.7 565.6 656.9 566.2 657.2 566.7 658.9 566.9 661 568.3 662 568.8 663.8 569.3 666 569.6" fill="none" stroke="#0000ff" stroke-width="1.3" stroke-linejoin="round" />
<path d="M515.4 570 528.4 569.9 531 569.7 532.4 569.4 533.2 569 533.6 568.5 534.7 565.9 535.5 566.5 535.8 566.3 536.2 564.9 536.7 562.7 537 562.2 537.2 562.6 537.9 566.1 538.4 567.6 538.8 568.4 539.3 568.9 540.5 569.4 541.9 569.7 544.3 569.8 553 569.8 558.2 569.5 559.9 569.2 561.1 568.9 562 568.5 563 567.7 563.7 566.7 564.2 565.7 564.9 563.1 566.1 554.7 566.3 553.4 566.5 552.9 566.8 553.5 567 554.9 567.7 560.2 568.2 562.8 568.9 565.1 569.4 565.9 569.8 566.3 570.3 566.5 571.5 566.5 572 566.5 572.5 566.8 574.6 568.5 575.8 569 577.2 569.4 581.7 569.7 590.9 569.9" fill="none" stroke="#ff8000" stroke-width="1.5" stroke-linejoin="round" />
<path d="M593.9 570 610.1 569.9 612.8 569.8 614.2 569.6 615.1 569.2 615.6 568.3 615.9 567 616.5 563.7 617.3 567.8 617.6 568.2 618 568.1 618.2 567.9 618.5 566.6 618.8 562.1 619 554.9 619.3 520.2 619.5 544.5 619.7 557.8 619.9 562.7 620 564.6 620.2 565.3 620.4 565.4 620.7 565 620.9 565.2 621.6 567.8 621.9 568.6 622.3 569 623 569.4 623.8 569.7 627.1 569.9 649.3 570 652.6 569.9 653.8 569.8 654.1 569.7 654.5 569.4 654.8 568.2 655.2 561 655.5 567 655.7 568.5 655.8 569.2 656.2 569.6 656.7 569.8 657.9 569.9 666 570" fill="none" stroke="#ff8000" stroke-width="1.5" stroke-linejoin="round" />
</g>
<line x1="515.4" y1="571" x2="590" y2="571" stroke="#333" stroke-width="0.9" />
<line x1="593.2" y1="571" x2="666.2" y2="571" stroke="#333" stroke-width="0.9" />
<line x1="589.4" y1="574.3" x2="592.1" y2="567.9" stroke="#333" stroke-width="0.8" />
<line x1="591.7" y1="574.3" x2="594.4" y2="567.9" stroke="#333" stroke-width="0.8" />
<line x1="515.4" y1="571" x2="515.4" y2="573.2" stroke="#333" stroke-width="0.8" />
<line x1="534" y1="571" x2="534" y2="572.3" stroke="#333" stroke-width="0.8" />
<line x1="552.6" y1="571" x2="552.6" y2="573.2" stroke="#333" stroke-width="0.8" />
<line x1="571.2" y1="571" x2="571.2" y2="572.3" stroke="#333" stroke-width="0.8" />
<line x1="589.8" y1="571" x2="589.8" y2="573.2" stroke="#333" stroke-width="0.8" />
<line x1="598.6" y1="571" x2="598.6" y2="573.2" stroke="#333" stroke-width="0.8" />
<line x1="615.45" y1="571" x2="615.45" y2="572.3" stroke="#333" stroke-width="0.8" />
<line x1="632.3" y1="571" x2="632.3" y2="573.2" stroke="#333" stroke-width="0.8" />
<line x1="649.15" y1="571" x2="649.15" y2="572.3" stroke="#333" stroke-width="0.8" />
<line x1="666" y1="571" x2="666" y2="573.2" stroke="#333" stroke-width="0.8" />
<text x="515.4" y="582.2" font-size="7.3" text-anchor="middle" fill="#000" stroke="#000" stroke-width="0.22" >0.5</text>
<text x="552.6" y="582.2" font-size="7.3" text-anchor="middle" fill="#000" stroke="#000" stroke-width="0.22" >1.0</text>
<text x="598.6" y="582.2" font-size="7.3" text-anchor="middle" fill="#000" stroke="#000" stroke-width="0.22" >3</text>
<text x="632.3" y="582.2" font-size="7.3" text-anchor="middle" fill="#000" stroke="#000" stroke-width="0.22" >4</text>
<text x="666" y="582.2" font-size="7.3" text-anchor="middle" fill="#000" stroke="#000" stroke-width="0.22" >5</text>
<text x="586" y="583.6" font-size="7.2" text-anchor="middle" fill="#000" stroke="#000" stroke-width="0.22" >ppm</text>
<text x="521.1" y="526.6" font-size="7.2" text-anchor="start" fill="#111" stroke="#111" stroke-width="0.22" >N</text>
<line x1="509.9" y1="531.1" x2="523" y2="531.1" stroke="#000000" stroke-width="1.5" />
<text x="525.1" y="533.3" font-size="6.2" text-anchor="start" fill="#000" stroke="#000" stroke-width="0.22" >MFGM</text>
<line x1="509.9" y1="538.4" x2="523" y2="538.4" stroke="#ff0000" stroke-width="1.5" />
<text x="525.1" y="540.6" font-size="6.2" text-anchor="start" fill="#000" stroke="#000" stroke-width="0.22" >MFGM-SDS</text>
<line x1="509.9" y1="545.8" x2="523" y2="545.8" stroke="#0000ff" stroke-width="1.5" />
<text x="525.1" y="548" font-size="6.2" text-anchor="start" fill="#000" stroke="#000" stroke-width="0.22" >MFGM-DTAB</text>
<line x1="509.9" y1="553.3" x2="523" y2="553.3" stroke="#ff8000" stroke-width="1.5" />
<text x="525.1" y="555.5" font-size="6.2" text-anchor="start" fill="#000" stroke="#000" stroke-width="0.22" >MFGM-PS20</text>
</svg></body></html>
